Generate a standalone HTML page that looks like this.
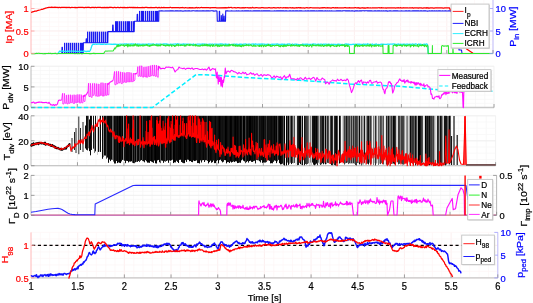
<!DOCTYPE html>
<html><head><meta charset="utf-8"><style>
html,body{margin:0;padding:0;background:#fff;overflow:hidden;}
svg{display:block;will-change:transform;}
text{font-family:"Liberation Sans", sans-serif;}
</style></head><body>
<svg width="533" height="303" viewBox="0 0 533 303">
<rect width="533" height="303" fill="#fff"/>
<line x1="40.24" y1="-0.5" x2="40.24" y2="53.5" stroke="#fdf6f6" stroke-width="0.7"/>
<line x1="49.48" y1="-0.5" x2="49.48" y2="53.5" stroke="#fdf6f6" stroke-width="0.7"/>
<line x1="58.72" y1="-0.5" x2="58.72" y2="53.5" stroke="#fdf6f6" stroke-width="0.7"/>
<line x1="67.96" y1="-0.5" x2="67.96" y2="53.5" stroke="#fdf6f6" stroke-width="0.7"/>
<line x1="77.20" y1="-0.5" x2="77.20" y2="53.5" stroke="#fae9e9" stroke-width="0.7"/>
<line x1="86.44" y1="-0.5" x2="86.44" y2="53.5" stroke="#fdf6f6" stroke-width="0.7"/>
<line x1="95.68" y1="-0.5" x2="95.68" y2="53.5" stroke="#fdf6f6" stroke-width="0.7"/>
<line x1="104.92" y1="-0.5" x2="104.92" y2="53.5" stroke="#fdf6f6" stroke-width="0.7"/>
<line x1="114.16" y1="-0.5" x2="114.16" y2="53.5" stroke="#fdf6f6" stroke-width="0.7"/>
<line x1="123.40" y1="-0.5" x2="123.40" y2="53.5" stroke="#fae9e9" stroke-width="0.7"/>
<line x1="132.64" y1="-0.5" x2="132.64" y2="53.5" stroke="#fdf6f6" stroke-width="0.7"/>
<line x1="141.88" y1="-0.5" x2="141.88" y2="53.5" stroke="#fdf6f6" stroke-width="0.7"/>
<line x1="151.12" y1="-0.5" x2="151.12" y2="53.5" stroke="#fdf6f6" stroke-width="0.7"/>
<line x1="160.36" y1="-0.5" x2="160.36" y2="53.5" stroke="#fdf6f6" stroke-width="0.7"/>
<line x1="169.60" y1="-0.5" x2="169.60" y2="53.5" stroke="#fae9e9" stroke-width="0.7"/>
<line x1="178.84" y1="-0.5" x2="178.84" y2="53.5" stroke="#fdf6f6" stroke-width="0.7"/>
<line x1="188.08" y1="-0.5" x2="188.08" y2="53.5" stroke="#fdf6f6" stroke-width="0.7"/>
<line x1="197.32" y1="-0.5" x2="197.32" y2="53.5" stroke="#fdf6f6" stroke-width="0.7"/>
<line x1="206.56" y1="-0.5" x2="206.56" y2="53.5" stroke="#fdf6f6" stroke-width="0.7"/>
<line x1="215.80" y1="-0.5" x2="215.80" y2="53.5" stroke="#fae9e9" stroke-width="0.7"/>
<line x1="225.04" y1="-0.5" x2="225.04" y2="53.5" stroke="#fdf6f6" stroke-width="0.7"/>
<line x1="234.28" y1="-0.5" x2="234.28" y2="53.5" stroke="#fdf6f6" stroke-width="0.7"/>
<line x1="243.52" y1="-0.5" x2="243.52" y2="53.5" stroke="#fdf6f6" stroke-width="0.7"/>
<line x1="252.76" y1="-0.5" x2="252.76" y2="53.5" stroke="#fdf6f6" stroke-width="0.7"/>
<line x1="262.00" y1="-0.5" x2="262.00" y2="53.5" stroke="#fae9e9" stroke-width="0.7"/>
<line x1="271.24" y1="-0.5" x2="271.24" y2="53.5" stroke="#fdf6f6" stroke-width="0.7"/>
<line x1="280.48" y1="-0.5" x2="280.48" y2="53.5" stroke="#fdf6f6" stroke-width="0.7"/>
<line x1="289.72" y1="-0.5" x2="289.72" y2="53.5" stroke="#fdf6f6" stroke-width="0.7"/>
<line x1="298.96" y1="-0.5" x2="298.96" y2="53.5" stroke="#fdf6f6" stroke-width="0.7"/>
<line x1="308.20" y1="-0.5" x2="308.20" y2="53.5" stroke="#fae9e9" stroke-width="0.7"/>
<line x1="317.44" y1="-0.5" x2="317.44" y2="53.5" stroke="#fdf6f6" stroke-width="0.7"/>
<line x1="326.68" y1="-0.5" x2="326.68" y2="53.5" stroke="#fdf6f6" stroke-width="0.7"/>
<line x1="335.92" y1="-0.5" x2="335.92" y2="53.5" stroke="#fdf6f6" stroke-width="0.7"/>
<line x1="345.16" y1="-0.5" x2="345.16" y2="53.5" stroke="#fdf6f6" stroke-width="0.7"/>
<line x1="354.40" y1="-0.5" x2="354.40" y2="53.5" stroke="#fae9e9" stroke-width="0.7"/>
<line x1="363.64" y1="-0.5" x2="363.64" y2="53.5" stroke="#fdf6f6" stroke-width="0.7"/>
<line x1="372.88" y1="-0.5" x2="372.88" y2="53.5" stroke="#fdf6f6" stroke-width="0.7"/>
<line x1="382.12" y1="-0.5" x2="382.12" y2="53.5" stroke="#fdf6f6" stroke-width="0.7"/>
<line x1="391.36" y1="-0.5" x2="391.36" y2="53.5" stroke="#fdf6f6" stroke-width="0.7"/>
<line x1="400.60" y1="-0.5" x2="400.60" y2="53.5" stroke="#fae9e9" stroke-width="0.7"/>
<line x1="409.84" y1="-0.5" x2="409.84" y2="53.5" stroke="#fdf6f6" stroke-width="0.7"/>
<line x1="419.08" y1="-0.5" x2="419.08" y2="53.5" stroke="#fdf6f6" stroke-width="0.7"/>
<line x1="428.32" y1="-0.5" x2="428.32" y2="53.5" stroke="#fdf6f6" stroke-width="0.7"/>
<line x1="437.56" y1="-0.5" x2="437.56" y2="53.5" stroke="#fdf6f6" stroke-width="0.7"/>
<line x1="446.80" y1="-0.5" x2="446.80" y2="53.5" stroke="#fae9e9" stroke-width="0.7"/>
<line x1="456.04" y1="-0.5" x2="456.04" y2="53.5" stroke="#fdf6f6" stroke-width="0.7"/>
<line x1="465.28" y1="-0.5" x2="465.28" y2="53.5" stroke="#fdf6f6" stroke-width="0.7"/>
<line x1="474.52" y1="-0.5" x2="474.52" y2="53.5" stroke="#fdf6f6" stroke-width="0.7"/>
<line x1="483.76" y1="-0.5" x2="483.76" y2="53.5" stroke="#fdf6f6" stroke-width="0.7"/>
<line x1="493.00" y1="-0.5" x2="493.00" y2="53.5" stroke="#fae9e9" stroke-width="0.7"/>
<line x1="31" y1="53.50" x2="493" y2="53.50" stroke="#fdf6f6" stroke-width="0.7"/>
<line x1="31" y1="49.00" x2="493" y2="49.00" stroke="#fdf6f6" stroke-width="0.7"/>
<line x1="31" y1="44.50" x2="493" y2="44.50" stroke="#fdf6f6" stroke-width="0.7"/>
<line x1="31" y1="40.00" x2="493" y2="40.00" stroke="#fdf6f6" stroke-width="0.7"/>
<line x1="31" y1="35.50" x2="493" y2="35.50" stroke="#fdf6f6" stroke-width="0.7"/>
<line x1="31" y1="31.00" x2="493" y2="31.00" stroke="#fdf6f6" stroke-width="0.7"/>
<line x1="31" y1="26.50" x2="493" y2="26.50" stroke="#fdf6f6" stroke-width="0.7"/>
<line x1="31" y1="22.00" x2="493" y2="22.00" stroke="#fdf6f6" stroke-width="0.7"/>
<line x1="31" y1="17.50" x2="493" y2="17.50" stroke="#fdf6f6" stroke-width="0.7"/>
<line x1="31" y1="13.00" x2="493" y2="13.00" stroke="#fdf6f6" stroke-width="0.7"/>
<line x1="31" y1="8.50" x2="493" y2="8.50" stroke="#fdf6f6" stroke-width="0.7"/>
<line x1="31" y1="4.00" x2="493" y2="4.00" stroke="#fdf6f6" stroke-width="0.7"/>
<line x1="31" y1="-0.50" x2="493" y2="-0.50" stroke="#fdf6f6" stroke-width="0.7"/>
<line x1="31" y1="53.50" x2="493" y2="53.50" stroke="#fae9e9" stroke-width="0.7"/>
<line x1="31" y1="31.00" x2="493" y2="31.00" stroke="#fae9e9" stroke-width="0.7"/>
<line x1="31" y1="8.50" x2="493" y2="8.50" stroke="#fae9e9" stroke-width="0.7"/>
<line x1="31" y1="53.5" x2="493" y2="53.5" stroke="#d0d0d0" stroke-width="1.3"/>
<line x1="31" y1="-0.5" x2="31" y2="53.5" stroke="#ffb0b0" stroke-width="0.9"/>
<line x1="493" y1="-0.5" x2="493" y2="53.5" stroke="#b8b8ff" stroke-width="0.9"/>
<line x1="77.20" y1="53.5" x2="77.20" y2="50.0" stroke="#8a8a8a" stroke-width="0.8"/>
<line x1="123.40" y1="53.5" x2="123.40" y2="50.0" stroke="#8a8a8a" stroke-width="0.8"/>
<line x1="169.60" y1="53.5" x2="169.60" y2="50.0" stroke="#8a8a8a" stroke-width="0.8"/>
<line x1="215.80" y1="53.5" x2="215.80" y2="50.0" stroke="#8a8a8a" stroke-width="0.8"/>
<line x1="262.00" y1="53.5" x2="262.00" y2="50.0" stroke="#8a8a8a" stroke-width="0.8"/>
<line x1="308.20" y1="53.5" x2="308.20" y2="50.0" stroke="#8a8a8a" stroke-width="0.8"/>
<line x1="354.40" y1="53.5" x2="354.40" y2="50.0" stroke="#8a8a8a" stroke-width="0.8"/>
<line x1="400.60" y1="53.5" x2="400.60" y2="50.0" stroke="#8a8a8a" stroke-width="0.8"/>
<line x1="446.80" y1="53.5" x2="446.80" y2="50.0" stroke="#8a8a8a" stroke-width="0.8"/>
<line x1="493.00" y1="53.5" x2="493.00" y2="50.0" stroke="#8a8a8a" stroke-width="0.8"/>
<polyline points="31.00,12.40 31.80,12.21 32.60,11.92 33.40,11.63 34.20,11.46 35.00,11.17 35.80,11.07 36.60,11.01 37.40,10.56 38.20,10.33 39.00,10.24 39.80,10.00 40.60,9.75 41.40,9.40 42.20,9.29 43.00,9.15 43.80,8.68 44.60,8.57 45.40,8.17 46.20,8.02 47.00,7.73 47.80,7.71 48.60,7.36 49.40,7.43 50.20,7.42 51.00,7.38 51.80,7.10 52.60,7.34 53.40,7.40 54.20,7.42 55.00,7.22 55.80,7.35 56.60,7.29 57.40,7.31 58.20,7.54 59.00,7.32 59.80,7.41 60.60,7.52 61.40,7.35 62.20,7.41 63.00,7.43 63.80,7.43 64.60,7.27 65.40,7.43 66.20,7.59 67.00,7.24 67.80,7.53 68.60,7.44 69.40,7.35 70.20,7.67 71.00,7.52 71.80,7.29 72.60,7.44 73.40,7.50 74.20,7.41 75.00,7.52 75.80,7.43 76.60,7.52 77.40,7.61 78.20,7.36 79.00,7.47 79.80,7.39 80.60,7.46 81.40,7.30 82.20,7.38 83.00,7.42 83.80,7.56 84.60,7.59 85.40,7.29 86.20,7.36 87.00,7.53 87.80,7.22 88.60,7.40 89.40,7.45 90.20,7.61 91.00,7.54 91.80,7.42 92.60,7.42 93.40,7.43 94.20,7.65 95.00,7.41 95.80,7.43 96.60,7.51 97.40,7.45 98.20,7.45 99.00,7.34 99.80,7.47 100.60,7.42 101.40,7.61 102.20,7.55 103.00,7.47 103.80,7.56 104.60,7.44 105.40,7.61 106.20,7.48 107.00,7.55 107.80,7.33 108.60,7.53 109.40,7.28 110.20,7.24 111.00,7.45 111.80,7.38 112.60,7.51 113.40,7.76 114.20,7.39 115.00,7.42 115.80,7.52 116.60,7.55 117.40,7.48 118.20,7.47 119.00,7.58 119.80,7.56 120.60,7.38 121.40,7.49 122.20,7.51 123.00,7.38 123.80,7.54 124.60,7.41 125.40,7.63 126.20,7.54 127.00,7.53 127.80,7.45 128.60,7.51 129.40,7.28 130.20,7.39 131.00,7.57 131.80,7.27 132.60,7.63 133.40,7.32 134.20,7.63 135.00,7.44 135.80,7.63 136.60,7.56 137.40,7.36 138.20,7.70 139.00,7.72 139.80,7.54 140.60,7.52 141.40,7.53 142.20,7.44 143.00,7.69 143.80,7.49 144.60,7.56 145.40,7.47 146.20,7.49 147.00,7.41 147.80,7.72 148.60,7.55 149.40,7.69 150.20,7.58 151.00,7.49 151.80,7.54 152.60,7.51 153.40,7.58 154.20,7.54 155.00,7.55 155.80,7.42 156.60,7.49 157.40,7.79 158.20,7.51 159.00,7.47 159.80,7.64 160.60,7.77 161.40,7.43 162.20,7.58 163.00,7.53 163.80,7.40 164.60,7.70 165.40,7.61 166.20,7.62 167.00,7.53 167.80,7.67 168.60,7.56 169.40,7.61 170.20,7.49 171.00,7.48 171.80,7.79 172.60,7.57 173.40,7.67 174.20,7.63 175.00,7.58 175.80,7.58 176.60,7.72 177.40,7.61 178.20,7.63 179.00,7.65 179.80,7.79 180.60,7.73 181.40,7.70 182.20,7.59 183.00,7.49 183.80,7.77 184.60,7.78 185.40,7.65 186.20,7.73 187.00,7.76 187.80,7.77 188.60,7.78 189.40,7.62 190.20,7.86 191.00,7.53 191.80,7.78 192.60,7.74 193.40,7.79 194.20,7.91 195.00,7.87 195.80,7.55 196.60,7.49 197.40,7.79 198.20,7.57 199.00,7.70 199.80,7.80 200.60,7.50 201.40,7.45 202.20,7.73 203.00,7.71 203.80,7.67 204.60,7.71 205.40,7.60 206.20,7.52 207.00,7.69 207.80,7.59 208.60,7.51 209.40,7.77 210.20,7.70 211.00,7.76 211.80,7.59 212.60,7.63 213.40,7.59 214.20,7.61 215.00,7.74 215.80,7.62 216.60,7.76 217.40,7.76 218.20,7.96 226.20,7.69 227.00,7.87 227.80,7.73 228.60,7.46 229.40,7.65 230.20,7.49 231.00,7.34 231.80,7.67 232.60,7.89 233.40,7.74 234.20,7.59 235.00,7.62 235.80,7.87 236.60,7.76 237.40,7.74 238.20,7.73 239.00,7.74 239.80,7.84 240.60,7.81 241.40,7.77 242.20,7.62 243.00,7.80 243.80,7.66 244.60,7.88 245.40,7.59 246.20,7.73 247.00,7.75 247.80,7.59 248.60,7.96 249.40,7.92 250.20,7.69 251.00,7.84 251.80,7.80 252.60,7.44 253.40,7.78 254.20,7.75 255.00,7.76 255.80,7.63 256.60,7.72 257.40,7.74 258.20,7.90 259.00,7.80 259.80,7.76 260.60,7.94 261.40,7.69 262.20,7.72 263.00,7.54 263.80,7.95 264.60,7.88 265.40,7.88 266.20,7.85 267.00,7.78 267.80,7.79 268.60,7.74 269.40,7.74 270.20,7.78 271.00,7.95 271.80,7.84 272.60,7.77 273.40,7.70 274.20,7.70 275.00,7.97 275.80,7.84 276.60,7.78 277.40,7.74 278.20,7.65 279.00,7.77 279.80,7.88 280.60,7.73 281.40,7.75 282.20,7.76 283.00,7.80 283.80,7.59 284.60,7.76 285.40,7.68 286.20,7.89 287.00,7.69 287.80,7.86 288.60,7.97 289.40,7.75 290.20,7.72 291.00,7.81 291.80,7.79 292.60,7.67 293.40,7.85 294.20,8.04 295.00,7.76 295.80,7.77 296.60,7.67 297.40,7.84 298.20,7.65 299.00,7.67 299.80,7.95 300.60,7.69 301.40,7.93 302.20,7.99 303.00,7.83 303.80,7.87 304.60,8.04 305.40,7.78 306.20,7.74 307.00,7.64 307.80,7.81 308.60,7.99 309.40,7.92 310.20,7.70 311.00,7.71 311.80,7.75 312.60,7.85 313.40,7.79 314.20,7.84 315.00,7.85 315.80,7.78 316.60,7.81 317.40,7.84 318.20,7.81 319.00,7.88 319.80,8.04 320.60,7.89 321.40,7.83 322.20,7.62 323.00,7.87 323.80,7.59 324.60,7.66 325.40,7.93 326.20,7.91 327.00,7.81 327.80,7.62 328.60,7.78 329.40,7.75 330.20,7.91 331.00,8.10 331.80,7.86 332.60,7.74 333.40,7.69 334.20,7.83 335.00,7.81 335.80,7.70 336.60,7.85 337.40,7.70 338.20,7.97 339.00,7.97 339.80,7.97 340.60,7.78 341.40,7.90 342.20,7.83 343.00,7.80 343.80,7.80 344.60,7.69 345.40,7.67 346.20,7.94 347.00,7.82 347.80,7.87 348.60,7.97 349.40,7.64 350.20,7.76 351.00,7.87 351.80,7.90 352.60,7.81 353.40,7.98 354.20,7.88 355.00,7.71 355.80,7.74 356.60,7.95 357.40,7.91 358.20,7.63 359.00,8.02 359.80,7.93 360.60,8.02 361.40,7.82 362.20,7.83 363.00,7.73 363.80,8.17 364.60,7.84 365.40,8.06 366.20,7.79 367.00,7.89 367.80,7.67 368.60,7.82 369.40,7.99 370.20,7.72 371.00,8.00 371.80,7.91 372.60,7.75 373.40,7.81 374.20,7.82 375.00,7.87 375.80,7.81 376.60,7.78 377.40,7.84 378.20,7.75 379.00,7.72 379.80,7.87 380.60,7.99 381.40,7.70 382.20,7.88 383.00,7.81 383.80,7.77 384.60,7.99 385.40,7.82 386.20,8.07 387.00,7.79 387.80,7.93 388.60,7.86 389.40,7.80 390.20,7.96 391.00,7.87 391.80,7.96 392.60,7.89 393.40,7.76 394.20,7.88 395.00,7.90 395.80,8.01 396.60,7.79 397.40,7.89 398.20,7.69 399.00,7.98 399.80,7.77 400.60,7.68 401.40,7.90 402.20,8.04 403.00,7.72 403.80,7.78 404.60,7.82 405.40,7.78 406.20,7.96 407.00,7.82 407.80,7.83 408.60,7.99 409.40,7.83 410.20,7.97 411.00,7.81 411.80,7.78 412.60,7.70 413.40,8.15 414.20,7.89 415.00,7.96 415.80,7.93 416.60,7.95 417.40,7.94 418.20,8.17 419.00,7.81 419.80,7.75 420.60,7.82 421.40,7.78 422.20,8.03 423.00,8.04 423.80,7.83 424.60,7.78 425.40,7.91 426.20,8.12 427.00,7.62 427.80,8.02 428.60,7.83 429.40,8.08 430.20,7.83 431.00,7.93 431.80,7.78 432.60,7.85 433.40,8.13 434.20,8.07 435.00,7.92 435.80,7.87 436.60,7.75 437.40,7.93 438.20,7.97 439.00,7.97 439.80,7.97 440.60,7.85 441.40,7.97 442.20,7.98 443.00,8.14 443.80,8.21 444.60,7.97 445.40,7.90 446.20,7.98 447.00,7.92 447.80,7.91 448.60,7.99 449.40,7.87 460.00,30.00 466.60,48.90 473.00,53.30" fill="none" stroke="#ff0000" stroke-width="1.25" stroke-linejoin="round" />
<polyline points="61.80,53.50 62.00,47.30 62.40,47.30 62.60,53.50 63.80,53.50 64.00,53.30 83.20,53.30 83.40,42.80 86.00,42.80 86.20,38.90 86.60,38.90 86.80,42.80 87.60,42.80 87.80,42.80 107.80,42.80 108.00,31.60 112.50,31.60 112.70,25.00 113.10,25.00 113.30,31.60 114.80,31.60 115.00,31.60 134.20,31.60 134.40,21.20 137.00,21.20 137.20,14.20 137.60,14.20 137.80,21.20 138.80,21.20 139.00,21.20 158.70,21.20 158.90,10.90 159.00,10.83 160.00,10.93 161.00,10.85 162.00,10.78 163.00,10.98 164.00,10.94 165.00,10.94 166.00,10.86 167.00,10.98 168.00,10.88 169.00,10.99 170.00,10.83 171.00,10.83 172.00,10.92 173.00,10.84 174.00,10.95 175.00,10.92 176.00,10.83 177.00,10.91 178.00,10.87 179.00,10.97 180.00,10.85 181.00,10.86 182.00,11.00 183.00,11.08 184.00,11.06 185.00,10.91 186.00,10.92 187.00,11.02 188.00,10.89 189.00,10.82 190.00,10.91 191.00,10.94 192.00,10.83 193.00,10.77 194.00,10.79 195.00,10.95 196.00,10.84 197.00,10.89 198.00,10.92 199.00,10.95 200.00,10.87 201.00,10.94 202.00,10.83 203.00,10.87 204.00,10.82 205.00,10.99 206.00,10.90 207.00,10.84 208.00,10.87 209.00,10.88 210.00,10.96 211.00,10.77 212.00,10.82 213.00,10.87 214.00,11.10 215.00,10.98 216.00,10.89 217.00,10.96 217.30,21.30 219.20,21.30 219.30,11.20 219.60,11.20 219.80,21.30 221.20,21.30 221.30,15.50 221.60,21.30 222.60,21.30 222.80,14.00 223.00,21.30 224.00,21.30 224.10,16.00 224.40,21.30 225.50,21.30 225.70,10.90 225.60,11.06 226.60,10.88 227.60,10.87 228.60,11.00 229.60,10.94 230.60,10.95 231.60,10.86 232.60,11.05 233.60,11.04 234.60,10.95 235.60,10.95 236.60,10.74 237.60,10.95 238.60,10.88 239.60,10.93 240.60,10.95 241.60,10.87 242.60,10.76 243.60,10.93 244.60,10.84 245.60,10.87 246.60,10.85 247.60,10.87 248.60,10.72 249.60,11.00 250.60,10.92 251.60,10.99 252.60,11.06 253.60,10.90 254.60,10.76 255.60,10.83 256.60,10.80 257.60,10.86 258.60,10.91 259.60,10.74 260.60,10.93 261.60,10.78 262.60,10.92 263.60,10.89 264.60,10.87 265.60,10.89 266.60,10.86 267.60,10.85 268.60,10.77 269.60,10.90 270.60,11.05 271.60,11.06 272.60,11.01 273.60,10.96 274.60,10.85 275.60,11.02 276.60,10.90 277.60,10.89 278.60,10.88 279.60,10.91 280.60,10.87 281.60,10.89 282.60,10.81 283.60,10.87 284.60,11.08 285.60,10.89 286.60,10.88 287.60,10.94 288.60,10.96 289.60,10.81 290.60,10.88 291.60,10.97 292.60,10.92 293.60,10.91 294.60,11.02 295.60,10.85 296.60,10.91 297.60,10.86 298.60,11.02 299.60,10.74 300.60,10.85 301.60,10.86 302.60,10.95 303.60,10.95 304.60,11.01 305.60,10.77 306.60,10.96 307.60,10.88 308.60,10.85 309.60,10.94 310.60,10.83 311.60,10.73 312.60,10.87 313.60,10.78 314.60,10.85 315.60,10.93 316.60,10.92 317.60,11.03 318.60,10.88 319.60,10.78 320.60,10.84 321.60,10.83 322.60,10.80 323.60,10.93 324.60,10.85 325.60,10.74 326.60,10.96 327.60,10.89 328.60,10.93 329.60,10.91 330.60,10.95 331.60,10.90 332.60,11.00 333.60,10.93 334.60,10.93 335.60,10.93 336.60,10.78 337.60,10.89 338.60,10.88 339.60,10.92 340.60,10.79 341.60,11.03 342.60,10.91 343.60,10.80 344.60,10.76 345.60,10.88 346.60,10.89 347.60,10.84 348.60,10.91 349.60,10.85 350.60,10.94 351.60,10.84 352.60,10.90 353.60,10.98 354.60,11.11 355.60,10.82 356.60,10.86 357.60,10.83 358.60,10.96 359.60,10.81 360.60,10.86 361.60,10.90 362.60,10.82 363.60,10.82 364.60,10.86 365.60,10.73 366.60,10.78 367.60,10.87 368.60,10.91 369.60,10.89 370.60,10.76 371.60,10.86 372.60,10.96 373.60,10.94 374.60,10.89 375.60,10.83 376.60,10.95 377.60,10.85 378.60,10.81 379.60,10.84 380.60,11.02 381.60,10.92 382.60,10.99 383.60,10.86 384.60,10.98 385.60,10.85 386.60,10.89 387.60,11.10 388.60,10.96 389.60,10.86 390.60,10.89 391.60,10.93 392.60,11.00 393.60,10.86 394.60,10.76 395.60,10.88 396.60,10.90 397.60,10.91 398.60,11.01 399.60,10.93 400.60,10.97 401.60,10.81 402.60,10.97 403.60,11.07 404.60,10.96 405.60,10.92 406.60,10.91 407.60,11.04 408.60,10.83 409.60,10.89 410.60,10.94 411.60,10.96 412.60,10.87 413.60,10.92 414.60,10.88 415.60,10.91 416.60,10.89 417.60,10.81 418.60,10.90 419.60,10.97 420.60,10.82 421.60,10.88 422.60,10.95 423.60,10.81 424.60,10.91 425.60,10.82 426.60,10.99 427.60,11.09 428.60,11.06 429.60,10.88 430.60,10.96 431.60,10.91 432.60,10.91 433.60,11.02 434.60,10.79 435.60,10.98 436.60,10.90 437.60,11.01 438.60,10.91 439.60,10.85 440.60,10.92 441.60,10.96 442.60,10.90 443.60,10.94 444.60,10.86 445.60,10.73 446.60,10.97 447.60,10.96 448.60,10.91 449.60,10.91 450.60,10.98 451.60,10.86 452.60,10.84 453.60,10.88 454.60,11.00 458.00,11.00 459.00,50.00 461.50,50.00 462.00,53.50" fill="none" stroke="#1818f0" stroke-width="1.1" stroke-linejoin="round" />
<rect x="64" y="42.80" width="1" height="10.50" fill="#1010f0" fill-opacity="0.95"/>
<rect x="65" y="42.80" width="1" height="10.50" fill="#1010f0" fill-opacity="0.24"/>
<rect x="66" y="42.80" width="1" height="10.50" fill="#1010f0" fill-opacity="0.95"/>
<rect x="67" y="42.80" width="1" height="10.50" fill="#1010f0" fill-opacity="0.35"/>
<rect x="68" y="42.80" width="1" height="10.50" fill="#1010f0" fill-opacity="0.95"/>
<rect x="69" y="42.80" width="1" height="10.50" fill="#1010f0" fill-opacity="0.39"/>
<rect x="70" y="42.80" width="1" height="10.50" fill="#1010f0" fill-opacity="0.95"/>
<rect x="71" y="42.80" width="1" height="10.50" fill="#1010f0" fill-opacity="0.30"/>
<rect x="72" y="42.80" width="1" height="10.50" fill="#1010f0" fill-opacity="0.95"/>
<rect x="73" y="42.80" width="1" height="10.50" fill="#1010f0" fill-opacity="0.35"/>
<rect x="74" y="42.80" width="1" height="10.50" fill="#1010f0" fill-opacity="0.95"/>
<rect x="75" y="42.80" width="1" height="10.50" fill="#1010f0" fill-opacity="0.39"/>
<rect x="76" y="42.80" width="1" height="10.50" fill="#1010f0" fill-opacity="0.95"/>
<rect x="77" y="42.80" width="1" height="10.50" fill="#1010f0" fill-opacity="0.25"/>
<rect x="78" y="42.80" width="1" height="10.50" fill="#1010f0" fill-opacity="0.95"/>
<rect x="79" y="42.80" width="1" height="10.50" fill="#1010f0" fill-opacity="0.21"/>
<rect x="80" y="42.80" width="1" height="10.50" fill="#1010f0" fill-opacity="0.95"/>
<rect x="81" y="42.80" width="1" height="10.50" fill="#1010f0" fill-opacity="0.95"/>
<rect x="82" y="42.80" width="1" height="10.50" fill="#1010f0" fill-opacity="0.95"/>
<rect x="87" y="31.60" width="1" height="11.20" fill="#1010f0" fill-opacity="0.95"/>
<rect x="88" y="31.60" width="1" height="11.20" fill="#1010f0" fill-opacity="0.28"/>
<rect x="89" y="31.60" width="1" height="11.20" fill="#1010f0" fill-opacity="0.95"/>
<rect x="90" y="31.60" width="1" height="11.20" fill="#1010f0" fill-opacity="0.39"/>
<rect x="91" y="31.60" width="1" height="11.20" fill="#1010f0" fill-opacity="0.95"/>
<rect x="92" y="31.60" width="1" height="11.20" fill="#1010f0" fill-opacity="0.45"/>
<rect x="93" y="31.60" width="1" height="11.20" fill="#1010f0" fill-opacity="0.95"/>
<rect x="94" y="31.60" width="1" height="11.20" fill="#1010f0" fill-opacity="0.47"/>
<rect x="95" y="31.60" width="1" height="11.20" fill="#1010f0" fill-opacity="0.95"/>
<rect x="96" y="31.60" width="1" height="11.20" fill="#1010f0" fill-opacity="0.40"/>
<rect x="97" y="31.60" width="1" height="11.20" fill="#1010f0" fill-opacity="0.95"/>
<rect x="98" y="31.60" width="1" height="11.20" fill="#1010f0" fill-opacity="0.26"/>
<rect x="99" y="31.60" width="1" height="11.20" fill="#1010f0" fill-opacity="0.95"/>
<rect x="100" y="31.60" width="1" height="11.20" fill="#1010f0" fill-opacity="0.23"/>
<rect x="101" y="31.60" width="1" height="11.20" fill="#1010f0" fill-opacity="0.95"/>
<rect x="102" y="31.60" width="1" height="11.20" fill="#1010f0" fill-opacity="0.45"/>
<rect x="103" y="31.60" width="1" height="11.20" fill="#1010f0" fill-opacity="0.95"/>
<rect x="104" y="31.60" width="1" height="11.20" fill="#1010f0" fill-opacity="0.38"/>
<rect x="105" y="31.60" width="1" height="11.20" fill="#1010f0" fill-opacity="0.95"/>
<rect x="106" y="31.60" width="1" height="11.20" fill="#1010f0" fill-opacity="0.37"/>
<rect x="107" y="31.60" width="1" height="11.20" fill="#1010f0" fill-opacity="0.95"/>
<rect x="115" y="21.20" width="1" height="10.40" fill="#1010f0" fill-opacity="0.95"/>
<rect x="116" y="21.20" width="1" height="10.40" fill="#1010f0" fill-opacity="0.95"/>
<rect x="117" y="21.20" width="1" height="10.40" fill="#1010f0" fill-opacity="0.95"/>
<rect x="118" y="21.20" width="1" height="10.40" fill="#1010f0" fill-opacity="0.41"/>
<rect x="119" y="21.20" width="1" height="10.40" fill="#1010f0" fill-opacity="0.95"/>
<rect x="120" y="21.20" width="1" height="10.40" fill="#1010f0" fill-opacity="0.43"/>
<rect x="121" y="21.20" width="1" height="10.40" fill="#1010f0" fill-opacity="0.95"/>
<rect x="122" y="21.20" width="1" height="10.40" fill="#1010f0" fill-opacity="0.24"/>
<rect x="123" y="21.20" width="1" height="10.40" fill="#1010f0" fill-opacity="0.95"/>
<rect x="124" y="21.20" width="1" height="10.40" fill="#1010f0" fill-opacity="0.33"/>
<rect x="125" y="21.20" width="1" height="10.40" fill="#1010f0" fill-opacity="0.95"/>
<rect x="126" y="21.20" width="1" height="10.40" fill="#1010f0" fill-opacity="0.47"/>
<rect x="127" y="21.20" width="1" height="10.40" fill="#1010f0" fill-opacity="0.95"/>
<rect x="128" y="21.20" width="1" height="10.40" fill="#1010f0" fill-opacity="0.95"/>
<rect x="129" y="21.20" width="1" height="10.40" fill="#1010f0" fill-opacity="0.95"/>
<rect x="130" y="21.20" width="1" height="10.40" fill="#1010f0" fill-opacity="0.27"/>
<rect x="131" y="21.20" width="1" height="10.40" fill="#1010f0" fill-opacity="0.95"/>
<rect x="132" y="21.20" width="1" height="10.40" fill="#1010f0" fill-opacity="0.41"/>
<rect x="133" y="21.20" width="1" height="10.40" fill="#1010f0" fill-opacity="0.95"/>
<rect x="139" y="10.90" width="1" height="10.30" fill="#1010f0" fill-opacity="0.95"/>
<rect x="140" y="10.90" width="1" height="10.30" fill="#1010f0" fill-opacity="0.28"/>
<rect x="141" y="10.90" width="1" height="10.30" fill="#1010f0" fill-opacity="0.95"/>
<rect x="142" y="10.90" width="1" height="10.30" fill="#1010f0" fill-opacity="0.95"/>
<rect x="143" y="10.90" width="1" height="10.30" fill="#1010f0" fill-opacity="0.95"/>
<rect x="144" y="10.90" width="1" height="10.30" fill="#1010f0" fill-opacity="0.21"/>
<rect x="145" y="10.90" width="1" height="10.30" fill="#1010f0" fill-opacity="0.95"/>
<rect x="146" y="10.90" width="1" height="10.30" fill="#1010f0" fill-opacity="0.23"/>
<rect x="147" y="10.90" width="1" height="10.30" fill="#1010f0" fill-opacity="0.95"/>
<rect x="148" y="10.90" width="1" height="10.30" fill="#1010f0" fill-opacity="0.38"/>
<rect x="149" y="10.90" width="1" height="10.30" fill="#1010f0" fill-opacity="0.95"/>
<rect x="150" y="10.90" width="1" height="10.30" fill="#1010f0" fill-opacity="0.34"/>
<rect x="151" y="10.90" width="1" height="10.30" fill="#1010f0" fill-opacity="0.95"/>
<rect x="152" y="10.90" width="1" height="10.30" fill="#1010f0" fill-opacity="0.43"/>
<rect x="153" y="10.90" width="1" height="10.30" fill="#1010f0" fill-opacity="0.95"/>
<rect x="154" y="10.90" width="1" height="10.30" fill="#1010f0" fill-opacity="0.31"/>
<rect x="155" y="10.90" width="1" height="10.30" fill="#1010f0" fill-opacity="0.95"/>
<rect x="156" y="10.90" width="1" height="10.30" fill="#1010f0" fill-opacity="0.95"/>
<rect x="157" y="10.90" width="1" height="10.30" fill="#1010f0" fill-opacity="0.95"/>
<rect x="158" y="10.90" width="1" height="10.30" fill="#1010f0" fill-opacity="0.41"/>
<polyline points="57.50,53.29 58.30,53.22 59.10,51.72 59.90,51.03 60.70,51.39 61.50,51.19 62.30,51.00 63.10,51.15 63.90,51.34 64.70,51.38 65.50,51.14 66.30,51.26 67.10,51.31 67.90,51.10 68.70,51.25 69.50,51.20 70.30,51.12 71.10,51.13 71.90,51.21 72.70,51.20 73.50,51.12 74.30,51.14 75.10,51.37 75.90,51.23 76.70,51.33 77.50,51.38 78.30,51.29 79.10,51.54 79.90,51.08 80.70,51.32 81.50,51.15 82.30,51.48 83.10,51.46 83.90,50.91 84.70,51.05 85.50,51.30 86.30,51.32 87.10,51.31 87.90,51.19 88.70,51.27 89.50,51.30 90.30,50.35 91.10,48.27 91.90,45.54 92.70,44.30 93.50,44.04 94.30,44.34 95.10,44.17 95.90,44.07 96.70,44.26 97.50,44.06 98.30,44.06 99.10,43.96 99.90,44.20 100.70,44.27 101.50,44.35 102.30,44.18 103.10,44.36 103.90,44.20 104.70,44.19 105.50,44.29 106.30,44.36 107.10,44.15 107.90,44.16 108.70,44.18 109.50,44.21 110.30,44.06 111.10,44.35 111.90,44.14 112.70,44.27 113.50,44.08 114.30,44.25 115.10,44.26 115.90,44.14 116.70,44.50 117.50,44.26 118.30,44.47 119.10,44.34 119.90,44.10 120.70,44.14 121.50,44.27 122.30,44.21 123.10,44.21 123.90,44.16 124.70,43.93 125.50,44.17 126.30,43.87 127.10,44.26 127.90,44.09 128.70,44.09 129.50,44.17 130.30,44.24 131.10,43.99 131.90,43.94 132.70,44.04 133.50,43.89 134.30,44.05 135.10,44.44 135.90,44.04 136.70,44.30 137.50,43.99 138.30,44.24 139.10,44.15 139.90,44.19 140.70,44.29 141.50,44.46 142.30,44.23 143.10,44.22 143.90,44.05 144.70,44.29 145.50,44.16 146.30,44.32 147.10,44.19 147.90,44.46 148.70,43.90 149.50,44.16 150.80,44.13 151.60,44.04 152.40,44.15 153.20,43.93 154.00,44.23 154.80,44.69 155.60,44.43 156.40,43.98 157.20,44.03 158.00,44.12 158.80,44.41 159.60,44.04 160.40,44.07 161.20,44.38 162.00,44.38 162.80,44.13 163.60,43.99 164.40,43.90 165.20,44.07 166.00,43.76 166.80,44.36 167.60,44.09 168.40,44.31 169.20,44.59 170.00,44.45 170.80,43.98 171.60,44.39 172.40,44.45 173.20,44.07 174.00,44.03 174.80,44.19 175.60,43.90 176.40,44.51 177.20,43.74 178.00,44.00 178.80,44.17 179.60,44.17 180.40,44.25 181.20,44.28 182.00,44.18 182.80,44.45 183.60,43.79 184.40,44.22 185.20,44.08 186.00,44.25 186.80,44.27 187.60,44.04 188.40,44.10 189.20,44.38 190.00,44.30 190.80,44.09 191.60,44.64 192.40,44.69 193.20,43.94 194.00,44.29 194.80,44.73 195.60,44.39 196.40,44.28 197.20,44.19 198.00,44.12 198.80,44.19 199.60,44.12 200.40,44.38 201.20,44.15 202.00,44.15 202.80,43.99 203.60,44.23 204.40,44.06 205.20,44.20 206.00,44.45 206.80,44.31 207.60,44.34 208.40,44.31 209.20,44.25 210.00,44.21 210.80,44.18 211.60,44.39 212.40,44.02 213.20,44.51 214.00,44.25 214.80,44.09 215.60,44.15 216.40,44.11 217.20,44.28 218.00,44.10 218.80,44.47 219.60,44.09 220.40,43.79 221.20,44.10 222.00,43.85 222.80,44.24 223.60,44.46 224.40,44.38 225.20,43.98 226.00,44.10 226.80,44.61 227.60,44.32 228.40,44.25 229.20,44.46 230.00,44.74 230.80,44.51 231.60,44.28 232.40,44.33 233.20,44.38 234.00,44.13 234.80,44.04 235.60,44.27 236.40,44.07 237.20,44.25 238.00,44.28 238.80,44.73 239.60,44.09 240.40,44.24 241.20,44.23 242.00,44.35 242.80,44.47 243.60,44.16 244.40,44.10 245.20,43.94 246.00,44.08 246.80,44.37 247.60,44.27 248.40,44.06 249.20,44.19 250.00,44.27 250.80,44.37 251.60,44.15 252.40,44.22 253.20,43.91 254.00,44.04 254.80,44.59 255.60,43.83 256.40,44.20 257.20,44.32 258.00,44.20 258.80,44.11 259.60,44.26 260.40,44.27 261.20,44.26 262.00,43.90 262.80,44.25 263.60,44.10 264.40,44.17 265.20,44.32 266.00,44.41 266.80,44.46 267.60,44.18 268.40,44.46 269.20,44.51 270.00,44.51 270.80,44.56 271.60,44.25 272.40,44.25 273.20,44.45 274.00,44.01 274.80,44.33 275.60,44.18 276.40,44.21 277.20,43.94 278.00,44.11 278.80,44.28 279.60,44.46 280.40,44.48 281.20,44.27 282.00,44.25 282.80,44.12 283.60,44.37 284.40,44.24 285.20,44.41 286.00,44.64 286.80,44.28 287.60,43.99 288.40,44.12 289.20,44.00 290.00,44.05 290.80,44.55 291.60,44.34 292.40,43.99 293.20,44.43 294.00,44.55 294.80,44.22 295.60,44.16 296.40,44.23 297.20,44.36 298.00,44.43 298.80,44.54 299.60,44.54 300.40,44.54 301.20,44.57 302.00,44.43 302.80,43.99 303.60,44.27 304.40,44.36 305.20,44.22 306.00,44.48 306.80,44.23 307.60,44.11 308.40,44.59 309.20,44.43 310.00,44.34 310.80,44.49 311.60,44.51 312.40,44.37 313.20,43.81 314.00,44.16 314.80,44.21 315.60,44.10 316.40,44.34 317.20,44.54 318.00,44.20 318.80,44.07 319.60,44.71 320.40,44.21 321.20,44.05 322.00,44.35 322.80,44.39 323.60,44.16 324.40,44.46 325.20,44.20 326.00,44.12 326.80,44.34 327.60,44.45 328.40,44.17 329.20,44.37 330.00,44.28 330.80,44.86 331.60,44.16 332.40,44.58 333.20,44.29 334.00,44.27 334.80,44.44 335.60,44.48 336.40,44.55 337.20,44.37 338.00,44.18 338.80,44.19 339.60,44.40 340.40,44.42 341.20,44.58 342.00,44.38 342.80,44.51 343.60,44.60 344.40,44.33 345.20,44.00 346.00,44.06 346.80,44.01 347.60,44.62 348.40,44.13 349.20,44.55 350.00,44.42 350.80,44.64 351.60,44.50 352.40,44.28 353.20,44.26 354.00,44.32 354.80,44.34 355.60,44.19 356.40,44.29 357.20,44.62 358.00,43.96 358.80,44.35 359.60,44.12 360.40,44.34 361.20,44.47 362.00,44.29 362.80,44.45 363.60,43.98 364.40,44.52 365.20,44.18 366.00,44.42 366.80,44.34 367.60,43.78 368.40,44.15 369.20,44.34 370.00,44.61 370.80,44.36 371.60,44.35 372.40,44.02 373.20,44.59 374.00,44.66 374.80,44.31 375.60,44.26 376.40,43.98 377.20,44.48 378.00,44.84 378.80,44.44 379.60,44.55 380.40,44.41 381.20,44.10 382.00,44.57 382.80,44.05 383.60,44.26 384.40,44.36 385.20,44.48 386.00,44.38 386.80,44.38 387.60,44.15 388.40,44.04 389.20,44.31 390.00,44.16 390.80,44.04 391.60,44.05 392.40,44.20 393.20,43.93 394.00,44.03 394.80,43.97 395.60,44.34 396.40,44.38 397.20,44.70 398.00,44.00 398.80,44.16 399.60,44.48 400.40,44.26 401.20,44.23 402.00,44.64 402.80,44.23 403.60,44.07 404.40,44.04 405.20,44.37 406.00,44.36 406.80,44.03 407.60,44.10 408.40,44.41 409.20,44.42 410.00,44.17 410.80,44.42 411.60,44.41 412.40,43.94 413.20,44.24 414.00,44.38 414.80,44.19 415.60,43.87 416.40,44.24 417.20,44.45 418.00,44.62 418.80,43.86 419.60,44.82 420.40,44.07 421.20,44.49 422.00,44.55 422.80,44.50 423.60,44.33 424.40,44.07 425.20,44.43 426.00,44.16 426.80,43.80 427.60,44.87 428.30,53.50 429.00,53.50" fill="none" stroke="#20e8ff" stroke-width="1.3" stroke-linejoin="round" />
<polyline points="31.00,53.57 31.80,53.68 32.60,53.41 33.40,53.65 34.20,53.66 35.00,53.66 35.80,53.50 36.60,53.38 37.40,53.48 38.20,53.28 39.00,53.33 39.80,53.51 40.60,53.40 41.40,53.48 42.20,53.49 43.00,53.69 43.80,53.63 44.60,53.50 45.40,53.62 46.20,53.42 47.00,53.47 47.80,53.59 48.60,53.38 49.40,53.47 50.20,53.37 51.00,53.51 51.80,53.66 52.60,53.42 53.40,53.52 54.20,53.41 55.00,53.39 55.80,53.38 56.60,53.65 57.40,53.74 58.20,53.55 59.00,53.43 59.80,53.57 60.60,53.47 61.40,53.58 62.20,53.53 63.00,53.53 63.80,53.56 64.60,53.44 65.40,53.46 66.20,53.33 67.00,53.46 67.80,53.36 68.60,53.49 69.40,53.40 70.20,53.51 71.00,53.55 71.80,53.36 72.60,53.42 73.40,53.41 74.20,53.57 75.00,53.67 75.80,53.59 76.60,53.47 77.40,53.65 78.20,53.35 79.00,53.65 79.80,53.43 80.60,53.22 81.40,53.77 82.20,53.66 83.00,53.40 83.80,53.52 84.60,53.48 85.40,53.51 86.20,53.35 87.00,53.43 87.80,53.55 88.60,53.52 89.40,53.62 90.20,53.51 91.00,53.73 91.80,53.43 92.60,53.53 93.40,53.31 94.20,53.37 95.00,53.63 95.80,53.41 96.60,53.55 97.40,53.49 98.20,53.40 99.00,53.47 99.80,53.45 100.60,53.45 101.40,53.58 102.20,53.57 103.00,53.44 103.80,53.41 104.60,52.03 105.40,50.99 106.20,51.10 107.00,51.27 107.80,51.08 108.60,51.00 109.40,50.98 110.20,50.91 111.00,50.91 111.80,50.90 112.60,50.96 113.40,50.84 113.80,49.64 114.20,49.18 114.60,48.05 115.00,49.05 115.40,47.86 115.80,47.99 116.20,46.88 116.60,46.69 117.00,45.16 117.40,45.70 117.80,46.79 118.20,44.63 118.60,45.95 119.00,46.24 119.40,45.54 119.80,45.73 120.20,46.01 120.60,44.94 121.00,45.54 121.40,44.82 121.80,44.93 122.20,44.96 122.60,45.23 123.00,45.39 123.40,45.57 123.80,44.51 124.20,46.43 124.60,45.96 125.00,45.72 125.40,45.11 125.80,45.26 126.20,45.62 126.60,45.55 127.00,44.37 127.40,45.73 127.80,46.96 128.20,44.28 128.60,45.88 129.00,45.53 129.40,45.26 129.80,46.09 130.20,44.65 130.60,45.41 131.00,46.15 131.40,45.21 131.80,45.09 132.20,45.39 132.60,45.07 133.00,46.20 133.40,44.81 133.80,45.82 134.20,44.62 134.60,45.71 135.00,45.27 135.40,43.87 135.80,45.33 136.20,44.73 136.60,45.08 137.00,46.20 137.40,44.70 137.80,44.73 138.20,46.15 138.60,45.40 139.00,46.21 139.40,45.52 139.80,44.84 140.20,45.30 140.60,46.03 141.00,45.87 141.40,45.34 141.80,45.37 142.20,45.28 142.60,45.01 143.00,46.43 143.40,45.35 143.80,44.70 144.20,45.07 144.60,45.76 145.00,45.71 145.40,45.27 145.80,44.97 146.20,45.36 146.60,44.40 147.00,44.61 147.40,45.80 147.80,45.08 148.20,45.56 148.60,46.04 149.00,45.72 149.40,45.36 149.80,46.56 150.20,45.73 150.60,45.15 151.00,45.77 151.40,45.59 151.80,44.87 152.20,45.40 152.60,45.27 153.00,44.25 153.40,45.26 153.80,45.20 154.20,45.11 154.60,44.43 155.00,45.16 155.40,45.34 155.80,45.42 156.20,44.72 156.60,45.72 157.00,44.68 157.40,45.24 157.80,46.10 158.20,44.98 158.60,45.08 159.00,45.98 159.40,45.15 159.80,45.20 160.20,45.50 160.60,45.96 161.00,44.13 161.40,44.90 161.80,44.80 162.20,44.76 162.60,44.89 163.00,44.90 163.40,45.55 163.80,44.88 164.20,45.45 164.60,45.60 165.00,44.97 165.40,45.45 165.80,46.30 166.20,45.56 166.60,45.02 167.00,45.35 167.40,44.87 167.80,45.54 168.20,45.87 168.60,44.92 169.00,45.27 169.40,46.01 169.80,45.11 170.20,45.49 170.60,44.81 171.00,44.93 171.40,45.10 171.80,46.59 172.20,45.17 172.60,45.10 173.00,45.08 173.40,45.30 173.80,45.75 174.20,45.50 174.60,46.53 175.00,45.51 175.40,46.19 175.80,45.55 176.20,45.73 176.60,44.60 177.00,45.33 177.40,45.36 177.80,45.27 178.20,44.22 178.60,45.89 179.00,45.19 179.40,45.16 179.80,45.26 180.20,45.28 180.60,45.63 181.00,44.71 181.40,44.89 181.80,45.57 182.20,45.49 182.60,45.20 183.00,45.09 183.40,44.95 183.80,45.38 184.20,46.06 184.60,44.83 185.00,46.25 185.40,45.88 185.80,45.16 186.20,45.84 186.60,44.61 187.00,44.46 187.40,44.71 187.80,45.19 188.20,45.24 188.60,45.13 189.00,45.47 189.40,44.24 189.80,45.69 190.20,44.64 190.60,45.06 191.00,45.19 191.40,44.79 191.80,44.67 192.20,44.87 192.60,45.42 193.00,45.75 193.40,45.74 193.80,44.88 194.20,44.99 194.60,44.92 195.00,45.68 195.40,44.31 195.80,46.11 196.20,45.16 196.60,45.00 197.00,45.62 197.40,46.00 197.80,45.62 198.20,46.01 198.60,45.51 199.00,46.11 199.40,46.12 199.80,45.38 200.20,46.23 200.60,45.53 201.00,45.49 201.40,44.93 201.80,45.28 202.20,45.87 202.60,44.72 203.00,45.80 203.40,45.63 203.80,45.59 204.20,44.23 204.60,45.39 205.00,45.80 205.40,45.03 205.80,45.50 206.20,44.14 206.60,45.82 207.00,45.08 207.40,45.93 207.80,44.44 208.20,45.83 208.60,45.32 209.00,45.90 209.40,44.94 209.80,45.11 210.20,46.69 210.60,45.00 211.00,45.07 211.40,45.30 211.80,44.89 212.20,46.11 212.60,46.41 213.00,45.07 213.40,44.51 213.80,46.10 214.20,46.07 214.60,45.91 215.00,46.10 215.40,44.98 215.80,45.37 216.20,44.70 216.60,44.68 217.00,46.00 217.40,45.10 217.80,46.72 218.20,45.51 218.60,45.11 219.00,45.91 219.40,46.46 219.80,45.74 220.20,44.80 220.60,45.67 221.00,46.23 221.40,45.20 221.80,45.05 222.20,46.03 222.60,45.55 223.00,44.87 223.40,45.27 223.80,45.06 224.20,45.64 224.60,45.54 225.00,46.11 225.40,45.87 225.80,44.62 226.20,45.70 226.60,45.97 227.00,45.73 227.40,46.05 227.80,45.18 228.20,44.96 228.60,45.99 229.00,44.90 229.40,44.30 229.80,46.05 230.20,45.09 230.60,45.32 231.00,44.72 231.40,44.76 231.80,44.85 232.20,45.29 232.60,45.69 233.00,44.23 233.40,45.90 233.80,44.84 234.20,44.91 234.60,45.87 235.00,45.45 235.40,44.65 235.80,46.51 236.20,45.02 236.60,45.63 237.00,45.61 237.40,46.27 237.80,45.25 238.20,46.05 238.60,45.09 239.00,46.12 239.40,45.08 239.80,45.30 240.20,46.54 240.60,45.68 241.00,45.56 241.40,46.74 241.80,45.70 242.20,45.06 242.60,45.91 243.00,44.86 243.40,46.13 243.80,46.17 244.20,45.19 244.60,45.16 245.00,45.61 245.40,45.52 245.80,44.97 246.20,45.82 246.60,44.39 247.00,45.28 247.40,45.29 247.80,45.36 248.20,45.68 248.60,44.84 249.00,45.84 249.40,45.42 249.80,45.16 250.20,44.77 250.60,44.87 251.00,45.72 251.40,44.99 251.80,45.56 252.20,46.11 252.60,46.09 253.00,46.38 253.40,45.36 253.80,44.93 254.20,46.09 254.60,45.70 255.00,46.14 255.40,45.53 255.80,46.19 256.20,45.99 256.60,45.92 257.00,45.81 257.40,45.75 257.80,45.66 258.20,45.66 258.60,46.08 259.00,45.25 259.40,46.49 259.80,45.48 260.20,46.08 260.60,45.49 261.00,45.40 261.40,46.65 261.80,45.37 262.20,44.84 262.60,45.15 263.00,45.36 263.40,46.73 263.80,45.65 264.20,46.06 264.60,44.99 265.00,45.74 265.40,45.91 265.80,46.53 266.20,45.16 266.60,45.88 267.00,45.71 267.40,44.98 267.80,45.54 268.20,45.40 268.60,44.27 269.00,45.88 269.40,45.85 269.80,45.31 270.20,44.81 270.60,46.37 271.00,45.70 271.40,46.11 271.80,46.33 272.20,45.27 272.60,46.00 273.00,45.42 273.40,45.52 273.80,45.51 274.20,45.56 274.60,46.17 275.00,45.63 275.40,45.48 275.80,45.41 276.20,45.75 276.60,45.07 277.00,45.29 277.40,45.53 277.80,45.25 278.20,45.50 278.60,45.23 279.00,46.67 279.40,46.30 279.80,45.81 280.20,45.54 280.60,46.77 281.00,45.75 281.40,45.52 281.80,45.74 282.20,45.74 282.60,46.35 283.00,45.56 283.40,46.73 283.80,45.09 284.20,45.96 284.60,45.02 285.00,46.57 285.40,45.39 285.80,45.54 286.20,46.09 286.60,46.27 287.00,44.97 287.40,45.39 287.80,44.81 288.20,45.66 288.60,45.53 289.00,45.39 289.40,45.21 289.80,45.37 290.20,45.17 290.60,45.88 291.00,46.42 291.40,44.52 291.80,45.52 292.20,45.36 292.60,45.86 293.00,45.07 293.40,45.51 293.80,45.02 294.20,45.97 294.60,45.65 295.00,45.50 295.40,45.80 295.80,45.46 296.20,44.74 296.60,45.92 297.00,45.75 297.40,45.51 297.80,46.14 298.20,46.27 298.60,45.00 299.00,45.17 299.40,46.45 299.80,46.38 300.20,45.19 300.60,44.95 301.00,45.25 301.40,45.33 301.80,44.73 302.20,45.62 302.60,44.90 303.00,44.93 303.40,46.10 303.80,45.22 304.20,45.56 304.60,45.95 305.00,46.05 305.40,45.41 305.80,45.62 306.20,45.15 306.60,46.56 307.00,45.96 307.40,44.99 307.80,45.60 308.20,45.99 308.60,45.86 309.00,46.61 309.40,46.35 309.80,45.30 310.20,45.55 310.60,44.90 311.00,45.74 311.40,45.68 311.80,47.09 312.20,45.65 312.60,44.45 313.00,45.23 313.40,45.66 313.80,44.91 314.20,45.12 314.60,45.40 315.00,45.79 315.40,45.51 315.80,45.11 316.20,46.03 316.60,45.30 317.00,45.33 317.40,44.84 317.80,45.17 318.20,45.96 318.60,44.71 319.00,45.56 319.40,45.99 319.80,45.39 320.20,45.73 320.60,44.99 321.00,46.32 321.40,46.21 321.80,45.73 322.20,44.63 322.60,45.02 323.00,46.14 323.40,46.54 323.80,45.76 324.20,46.29 324.60,45.27 325.00,45.50 325.40,45.60 325.80,45.83 326.20,44.76 326.60,46.12 327.00,46.33 327.40,44.97 327.80,44.85 328.20,45.79 328.60,45.24 329.00,44.30 329.40,46.04 329.80,45.69 330.20,45.34 330.60,46.76 331.00,45.68 331.40,45.19 331.80,45.66 332.20,45.03 332.60,45.18 333.00,45.81 333.40,45.30 333.80,45.35 334.20,46.52 334.60,46.07 335.00,46.04 335.40,45.89 335.80,45.87 336.20,46.40 336.60,45.59 337.00,46.62 337.40,45.08 337.80,45.46 338.20,44.84 338.60,45.41 339.00,45.89 339.40,46.40 339.80,45.24 340.20,45.60 340.60,45.40 341.00,45.19 341.40,44.95 341.80,45.63 342.20,44.65 342.60,45.66 343.00,45.61 343.40,45.24 343.80,45.04 344.20,44.84 344.60,46.63 345.00,44.86 345.40,46.46 345.80,45.93 346.20,45.40 346.60,44.96 347.00,46.17 347.40,46.55 347.80,45.09 348.20,45.44 348.60,46.18 349.00,45.78 349.40,46.70 349.60,53.50 354.30,53.50 354.40,45.60 354.50,45.29 354.90,45.90 355.30,44.91 355.70,46.75 356.10,45.20 356.50,44.39 356.90,45.53 357.30,45.52 357.70,46.65 358.10,45.41 358.50,45.59 358.90,45.93 359.30,46.47 359.70,45.57 360.10,46.17 360.50,45.88 360.90,45.44 361.30,45.64 361.70,45.62 362.10,45.10 362.50,46.27 362.90,44.84 363.30,46.24 363.70,46.12 364.10,45.55 364.50,45.18 364.90,45.48 365.30,45.86 365.70,46.01 366.10,45.76 366.50,46.15 366.90,45.29 367.30,45.73 367.70,44.74 368.10,46.02 368.50,45.68 368.90,45.37 369.30,46.24 369.70,45.98 370.10,44.05 370.50,45.62 370.90,44.80 371.30,46.19 371.70,46.97 372.10,45.31 372.50,45.64 372.90,45.46 373.30,45.79 373.70,45.95 374.10,46.31 374.50,45.06 374.90,46.46 375.30,45.09 375.70,45.75 376.10,46.24 376.50,45.99 376.90,45.08 377.30,45.21 377.70,45.35 378.10,45.57 378.50,46.23 378.90,44.89 379.30,45.86 379.70,45.94 380.10,45.91 380.50,45.86 380.90,46.44 381.30,45.87 381.70,46.07 382.10,45.91 382.50,46.59 382.90,44.56 383.10,53.50 388.00,53.50 388.10,45.60 389.00,45.60 389.10,53.50 393.00,53.50 393.10,45.60 393.20,46.31 393.60,45.46 394.00,45.45 394.40,45.07 394.80,44.57 395.20,45.39 395.60,45.22 396.00,45.87 396.40,44.79 396.80,46.39 397.20,45.75 397.60,45.46 398.00,45.21 398.40,45.17 398.80,44.98 399.20,45.30 399.60,45.60 400.00,45.50 400.40,44.82 400.80,45.45 401.20,45.11 401.60,45.69 402.00,46.63 402.40,45.94 402.80,45.43 403.20,44.71 403.60,44.82 404.00,44.67 404.40,46.00 404.80,45.18 405.20,45.63 405.60,45.26 406.00,45.65 406.40,46.37 406.80,45.22 407.20,45.41 407.60,45.16 408.00,46.08 408.40,45.04 408.80,44.98 409.20,44.84 409.60,44.83 410.00,45.86 410.40,47.01 410.80,45.05 411.20,46.12 411.60,45.74 412.00,44.99 412.40,45.45 412.80,45.47 413.20,45.22 413.60,46.66 414.00,44.55 414.40,45.81 414.80,45.78 415.20,45.28 415.60,45.68 416.00,46.08 416.40,45.68 416.80,45.83 417.20,45.98 417.60,44.48 418.00,46.41 418.40,46.85 418.80,46.14 419.20,46.16 419.60,44.83 420.00,45.53 420.40,45.15 420.80,45.28 421.20,46.13 421.60,45.16 422.00,45.53 422.40,44.55 422.80,45.51 423.20,45.65 423.60,45.21 424.00,45.20 424.40,46.64 424.80,44.93 425.20,45.02 425.60,45.16 426.00,46.26 426.40,46.76 426.80,45.78 427.20,45.21 427.60,45.36 428.00,46.19 428.10,53.50 432.30,53.50 432.40,45.60 432.50,53.50 441.30,53.50 441.60,46.00 443.00,45.60 443.00,45.53 443.60,46.24 444.20,46.22 444.80,45.82 445.40,45.99 446.00,46.02 446.60,46.27 447.20,45.48 447.80,46.15 448.40,45.69 448.60,53.50 452.80,53.50 452.90,46.00 453.30,53.50 493.00,53.50" fill="none" stroke="#2ee82e" stroke-width="1.05" stroke-linejoin="round" />
<line x1="31" y1="53.50" x2="34.5" y2="53.50" stroke="#ff9a9a" stroke-width="0.8"/>
<line x1="31" y1="31.00" x2="34.5" y2="31.00" stroke="#ff9a9a" stroke-width="0.8"/>
<line x1="31" y1="8.50" x2="34.5" y2="8.50" stroke="#ff9a9a" stroke-width="0.8"/>
<line x1="493" y1="53.50" x2="489.5" y2="53.50" stroke="#9a9aff" stroke-width="0.8"/>
<line x1="493" y1="31.00" x2="489.5" y2="31.00" stroke="#9a9aff" stroke-width="0.8"/>
<line x1="493" y1="8.50" x2="489.5" y2="8.50" stroke="#9a9aff" stroke-width="0.8"/>
<text x="0" y="0" font-size="9.3" fill="#ff0000" text-anchor="end" stroke="#ff0000" stroke-width="0.22" transform="translate(28.6 57.4) scale(1 1.0)">0</text>
<text x="0" y="0" font-size="9.3" fill="#ff0000" text-anchor="end" stroke="#ff0000" stroke-width="0.22" transform="translate(28.6 34.9) scale(1 1.0)">0.5</text>
<text x="0" y="0" font-size="9.3" fill="#ff0000" text-anchor="end" stroke="#ff0000" stroke-width="0.22" transform="translate(28.6 12.4) scale(1 1.0)">1</text>
<text x="0" y="0" font-size="9.3" fill="#0000ff" text-anchor="start" stroke="#0000ff" stroke-width="0.22" transform="translate(495.6 57.4) scale(1 1.0)">0</text>
<text x="0" y="0" font-size="9.3" fill="#0000ff" text-anchor="start" stroke="#0000ff" stroke-width="0.22" transform="translate(495.6 34.9) scale(1 1.0)">5</text>
<text x="0" y="0" font-size="9.3" fill="#0000ff" text-anchor="start" stroke="#0000ff" stroke-width="0.22" transform="translate(495.6 12.4) scale(1 1.0)">10</text>
<rect x="451.90000000000003" y="4.8999999999999995" width="37.89999999999998" height="43.9" fill="#cfcfcf"/>
<rect x="451.1" y="4.1" width="37.89999999999998" height="43.9" fill="#fff" stroke="#c4c4c4" stroke-width="0.9"/>
<line x1="452.7" y1="11.4" x2="463.5" y2="11.4" stroke="#ff2020" stroke-width="1"/>
<line x1="452.7" y1="23.4" x2="463.5" y2="23.4" stroke="#2020ff" stroke-width="1"/>
<line x1="452.7" y1="33.6" x2="463.5" y2="33.6" stroke="#30f0ff" stroke-width="1"/>
<line x1="452.7" y1="43.4" x2="463.5" y2="43.4" stroke="#30f030" stroke-width="1"/>
<text x="0" y="0" font-size="8.2" fill="#000" text-anchor="start" stroke="#000" stroke-width="0.22" transform="translate(464.6 13.2) scale(1 1.0)">I<tspan font-size="6.5" dy="3.5">p</tspan></text>
<text x="0" y="0" font-size="8.2" fill="#000" text-anchor="start" stroke="#000" stroke-width="0.22" transform="translate(464.6 26.3) scale(1 1.0)">NBI</text>
<text x="0" y="0" font-size="8.2" fill="#000" text-anchor="start" stroke="#000" stroke-width="0.22" transform="translate(464.6 36.3) scale(1 1.0)">ECRH</text>
<text x="0" y="0" font-size="8.2" fill="#000" text-anchor="start" stroke="#000" stroke-width="0.22" transform="translate(464.6 46.1) scale(1 1.0)">ICRH</text>
<text x="0" y="0" font-size="9.6" fill="#ff0000" text-anchor="middle" stroke="#ff0000" stroke-width="0.22" transform="translate(12.2 27.3) scale(1 1.09) rotate(-90)">Ip [MA]</text>
<text x="0" y="0" font-size="9.6" fill="#0000ff" text-anchor="middle" stroke="#0000ff" stroke-width="0.22" transform="translate(515.8 26.6) scale(1 1.09) rotate(-90)">P<tspan font-size="7" dy="3">in</tspan><tspan dy="-3"> [MW]</tspan></text>
<line x1="40.26" y1="66.3" x2="40.26" y2="107.5" stroke="#f6f6f6" stroke-width="0.7"/>
<line x1="49.52" y1="66.3" x2="49.52" y2="107.5" stroke="#f6f6f6" stroke-width="0.7"/>
<line x1="58.78" y1="66.3" x2="58.78" y2="107.5" stroke="#f6f6f6" stroke-width="0.7"/>
<line x1="68.04" y1="66.3" x2="68.04" y2="107.5" stroke="#f6f6f6" stroke-width="0.7"/>
<line x1="77.30" y1="66.3" x2="77.30" y2="107.5" stroke="#ededed" stroke-width="0.7"/>
<line x1="86.56" y1="66.3" x2="86.56" y2="107.5" stroke="#f6f6f6" stroke-width="0.7"/>
<line x1="95.82" y1="66.3" x2="95.82" y2="107.5" stroke="#f6f6f6" stroke-width="0.7"/>
<line x1="105.08" y1="66.3" x2="105.08" y2="107.5" stroke="#f6f6f6" stroke-width="0.7"/>
<line x1="114.34" y1="66.3" x2="114.34" y2="107.5" stroke="#f6f6f6" stroke-width="0.7"/>
<line x1="123.60" y1="66.3" x2="123.60" y2="107.5" stroke="#ededed" stroke-width="0.7"/>
<line x1="132.86" y1="66.3" x2="132.86" y2="107.5" stroke="#f6f6f6" stroke-width="0.7"/>
<line x1="142.12" y1="66.3" x2="142.12" y2="107.5" stroke="#f6f6f6" stroke-width="0.7"/>
<line x1="151.38" y1="66.3" x2="151.38" y2="107.5" stroke="#f6f6f6" stroke-width="0.7"/>
<line x1="160.64" y1="66.3" x2="160.64" y2="107.5" stroke="#f6f6f6" stroke-width="0.7"/>
<line x1="169.90" y1="66.3" x2="169.90" y2="107.5" stroke="#ededed" stroke-width="0.7"/>
<line x1="179.16" y1="66.3" x2="179.16" y2="107.5" stroke="#f6f6f6" stroke-width="0.7"/>
<line x1="188.42" y1="66.3" x2="188.42" y2="107.5" stroke="#f6f6f6" stroke-width="0.7"/>
<line x1="197.68" y1="66.3" x2="197.68" y2="107.5" stroke="#f6f6f6" stroke-width="0.7"/>
<line x1="206.94" y1="66.3" x2="206.94" y2="107.5" stroke="#f6f6f6" stroke-width="0.7"/>
<line x1="216.20" y1="66.3" x2="216.20" y2="107.5" stroke="#ededed" stroke-width="0.7"/>
<line x1="225.46" y1="66.3" x2="225.46" y2="107.5" stroke="#f6f6f6" stroke-width="0.7"/>
<line x1="234.72" y1="66.3" x2="234.72" y2="107.5" stroke="#f6f6f6" stroke-width="0.7"/>
<line x1="243.98" y1="66.3" x2="243.98" y2="107.5" stroke="#f6f6f6" stroke-width="0.7"/>
<line x1="253.24" y1="66.3" x2="253.24" y2="107.5" stroke="#f6f6f6" stroke-width="0.7"/>
<line x1="262.50" y1="66.3" x2="262.50" y2="107.5" stroke="#ededed" stroke-width="0.7"/>
<line x1="271.76" y1="66.3" x2="271.76" y2="107.5" stroke="#f6f6f6" stroke-width="0.7"/>
<line x1="281.02" y1="66.3" x2="281.02" y2="107.5" stroke="#f6f6f6" stroke-width="0.7"/>
<line x1="290.28" y1="66.3" x2="290.28" y2="107.5" stroke="#f6f6f6" stroke-width="0.7"/>
<line x1="299.54" y1="66.3" x2="299.54" y2="107.5" stroke="#f6f6f6" stroke-width="0.7"/>
<line x1="308.80" y1="66.3" x2="308.80" y2="107.5" stroke="#ededed" stroke-width="0.7"/>
<line x1="318.06" y1="66.3" x2="318.06" y2="107.5" stroke="#f6f6f6" stroke-width="0.7"/>
<line x1="327.32" y1="66.3" x2="327.32" y2="107.5" stroke="#f6f6f6" stroke-width="0.7"/>
<line x1="336.58" y1="66.3" x2="336.58" y2="107.5" stroke="#f6f6f6" stroke-width="0.7"/>
<line x1="345.84" y1="66.3" x2="345.84" y2="107.5" stroke="#f6f6f6" stroke-width="0.7"/>
<line x1="355.10" y1="66.3" x2="355.10" y2="107.5" stroke="#ededed" stroke-width="0.7"/>
<line x1="364.36" y1="66.3" x2="364.36" y2="107.5" stroke="#f6f6f6" stroke-width="0.7"/>
<line x1="373.62" y1="66.3" x2="373.62" y2="107.5" stroke="#f6f6f6" stroke-width="0.7"/>
<line x1="382.88" y1="66.3" x2="382.88" y2="107.5" stroke="#f6f6f6" stroke-width="0.7"/>
<line x1="392.14" y1="66.3" x2="392.14" y2="107.5" stroke="#f6f6f6" stroke-width="0.7"/>
<line x1="401.40" y1="66.3" x2="401.40" y2="107.5" stroke="#ededed" stroke-width="0.7"/>
<line x1="410.66" y1="66.3" x2="410.66" y2="107.5" stroke="#f6f6f6" stroke-width="0.7"/>
<line x1="419.92" y1="66.3" x2="419.92" y2="107.5" stroke="#f6f6f6" stroke-width="0.7"/>
<line x1="429.18" y1="66.3" x2="429.18" y2="107.5" stroke="#f6f6f6" stroke-width="0.7"/>
<line x1="438.44" y1="66.3" x2="438.44" y2="107.5" stroke="#f6f6f6" stroke-width="0.7"/>
<line x1="447.70" y1="66.3" x2="447.70" y2="107.5" stroke="#ededed" stroke-width="0.7"/>
<line x1="456.96" y1="66.3" x2="456.96" y2="107.5" stroke="#f6f6f6" stroke-width="0.7"/>
<line x1="466.22" y1="66.3" x2="466.22" y2="107.5" stroke="#f6f6f6" stroke-width="0.7"/>
<line x1="475.48" y1="66.3" x2="475.48" y2="107.5" stroke="#f6f6f6" stroke-width="0.7"/>
<line x1="484.74" y1="66.3" x2="484.74" y2="107.5" stroke="#f6f6f6" stroke-width="0.7"/>
<line x1="494.00" y1="66.3" x2="494.00" y2="107.5" stroke="#ededed" stroke-width="0.7"/>
<line x1="31" y1="107.50" x2="494" y2="107.50" stroke="#f6f6f6" stroke-width="0.7"/>
<line x1="31" y1="103.38" x2="494" y2="103.38" stroke="#f6f6f6" stroke-width="0.7"/>
<line x1="31" y1="99.26" x2="494" y2="99.26" stroke="#f6f6f6" stroke-width="0.7"/>
<line x1="31" y1="95.14" x2="494" y2="95.14" stroke="#f6f6f6" stroke-width="0.7"/>
<line x1="31" y1="91.02" x2="494" y2="91.02" stroke="#f6f6f6" stroke-width="0.7"/>
<line x1="31" y1="86.90" x2="494" y2="86.90" stroke="#f6f6f6" stroke-width="0.7"/>
<line x1="31" y1="82.78" x2="494" y2="82.78" stroke="#f6f6f6" stroke-width="0.7"/>
<line x1="31" y1="78.66" x2="494" y2="78.66" stroke="#f6f6f6" stroke-width="0.7"/>
<line x1="31" y1="74.54" x2="494" y2="74.54" stroke="#f6f6f6" stroke-width="0.7"/>
<line x1="31" y1="70.42" x2="494" y2="70.42" stroke="#f6f6f6" stroke-width="0.7"/>
<line x1="31" y1="66.30" x2="494" y2="66.30" stroke="#f6f6f6" stroke-width="0.7"/>
<line x1="31" y1="107.50" x2="494" y2="107.50" stroke="#ededed" stroke-width="0.7"/>
<line x1="31" y1="86.90" x2="494" y2="86.90" stroke="#ededed" stroke-width="0.7"/>
<line x1="31" y1="66.30" x2="494" y2="66.30" stroke="#ededed" stroke-width="0.7"/>
<line x1="31" y1="107.5" x2="494" y2="107.5" stroke="#c8c8c8" stroke-width="1.3"/>
<line x1="31" y1="66.3" x2="31" y2="107.5" stroke="#b4b4b4" stroke-width="0.9"/>
<line x1="77.30" y1="107.5" x2="77.30" y2="104.0" stroke="#8a8a8a" stroke-width="0.8"/>
<line x1="123.60" y1="107.5" x2="123.60" y2="104.0" stroke="#8a8a8a" stroke-width="0.8"/>
<line x1="169.90" y1="107.5" x2="169.90" y2="104.0" stroke="#8a8a8a" stroke-width="0.8"/>
<line x1="216.20" y1="107.5" x2="216.20" y2="104.0" stroke="#8a8a8a" stroke-width="0.8"/>
<line x1="262.50" y1="107.5" x2="262.50" y2="104.0" stroke="#8a8a8a" stroke-width="0.8"/>
<line x1="308.80" y1="107.5" x2="308.80" y2="104.0" stroke="#8a8a8a" stroke-width="0.8"/>
<line x1="355.10" y1="107.5" x2="355.10" y2="104.0" stroke="#8a8a8a" stroke-width="0.8"/>
<line x1="401.40" y1="107.5" x2="401.40" y2="104.0" stroke="#8a8a8a" stroke-width="0.8"/>
<line x1="447.70" y1="107.5" x2="447.70" y2="104.0" stroke="#8a8a8a" stroke-width="0.8"/>
<line x1="494.00" y1="107.5" x2="494.00" y2="104.0" stroke="#8a8a8a" stroke-width="0.8"/>
<polyline points="31.00,107.50 152.50,107.50 196.00,74.60 210.00,75.00 250.00,77.80 300.00,80.30 350.00,84.00 400.00,86.30 430.00,89.00 460.00,91.20 494.00,91.20" fill="none" stroke="#00eeff" stroke-width="1.5" stroke-linejoin="round" stroke-dasharray="4.4 2.2"/>
<polyline points="31.00,102.53 31.60,102.80 32.20,102.66 32.80,102.35 33.40,102.11 34.00,102.30 34.60,103.11 35.20,103.25 35.80,102.76 36.40,102.92 37.00,102.29 37.60,102.41 38.20,102.50 38.80,101.99 39.40,101.99 40.00,102.33 40.60,102.22 41.20,101.99 41.80,102.54 42.40,102.34 43.00,102.82 43.60,102.50 44.20,102.43 44.80,102.61 45.40,102.54 46.00,102.40 46.60,102.53 47.20,102.96 47.80,102.96 48.40,103.22 49.00,102.21 49.60,103.32 50.20,103.97 50.80,104.84 51.40,104.83 52.00,104.79 52.60,105.22 53.20,104.99 53.80,104.50 54.40,105.35 55.00,105.22 55.60,104.65 56.20,105.12 56.80,104.55 57.40,104.05 58.00,101.86 58.60,100.20 59.20,100.27 59.80,100.05 60.40,100.30 61.00,100.20 61.60,100.07" fill="none" stroke="#ff10ff" stroke-width="1.1" stroke-linejoin="round" />
<polyline points="61.60,100.07 62.50,93.37 62.80,103.97 64.00,104.01 64.30,93.37 64.60,95.26 64.90,102.88 66.10,103.45 66.40,95.26 66.70,94.89 67.00,103.90 68.20,103.81 68.50,94.89 68.80,94.75 69.10,103.38 70.30,103.09 70.60,94.75 70.90,95.55 71.20,102.63 72.40,102.62 72.70,95.55 73.00,94.77 73.30,103.47 74.50,103.51 74.80,94.77 75.10,95.07 75.40,102.52 76.60,102.93 76.90,95.07 77.20,94.44 77.50,102.48 78.70,102.09 79.00,94.44 79.30,94.58 79.60,103.06 80.80,102.91 81.10,94.58 81.40,95.20 81.70,102.66 82.90,102.93 83.20,95.20 83.50,95.78 83.80,101.26 85.00,101.46 85.30,95.78" fill="none" stroke="#ff10ff" stroke-width="0.75" stroke-linejoin="round" />
<polyline points="85.30,95.78 83.20,96.76 83.80,96.17 84.40,95.41 85.00,95.05 85.60,95.19 86.20,94.81 86.80,93.93 87.40,92.65 88.00,91.57" fill="none" stroke="#ff10ff" stroke-width="1.1" stroke-linejoin="round" />
<polyline points="88.00,91.57 88.50,83.27 88.80,96.30 90.00,96.75 90.30,83.27 90.60,85.31 90.90,97.03 92.10,97.47 92.40,85.31 92.70,83.35 93.00,95.83 94.20,94.10 94.50,83.35 94.80,83.60 95.10,95.67 96.30,96.15 96.60,83.60 96.90,83.87 97.20,96.24 98.40,96.34 98.70,83.87 99.00,84.20 99.30,96.11 100.50,95.58 100.80,84.20 101.10,82.68 101.40,95.28 102.60,96.09 102.90,82.68 103.20,83.64 103.50,96.18 104.70,95.58 105.00,83.64 105.30,83.04 105.60,95.34 106.80,95.38 107.10,83.04 107.40,83.31 107.70,94.97 108.90,94.77 109.20,83.31" fill="none" stroke="#ff10ff" stroke-width="0.75" stroke-linejoin="round" />
<polyline points="109.20,83.31 107.80,84.66 108.40,83.93 109.00,83.22 109.60,82.74 110.20,82.09 110.80,81.93 111.40,81.26 112.00,81.19 112.60,80.74 113.20,80.17" fill="none" stroke="#ff10ff" stroke-width="1.1" stroke-linejoin="round" />
<polyline points="113.20,80.17 114.50,71.47 114.80,84.54 116.00,84.88 116.30,71.47 116.60,71.28 116.90,83.94 118.10,83.46 118.40,71.28 118.70,71.80 119.00,83.06 120.20,82.47 120.50,71.80 120.80,72.20 121.10,83.50 122.30,83.69 122.60,72.20 122.90,72.57 123.20,82.48 124.40,82.11 124.70,72.57 125.00,72.82 125.30,82.41 126.50,82.43 126.80,72.82 127.10,72.09 127.40,81.84 128.60,81.92 128.90,72.09 129.20,72.61 129.50,82.00 130.70,81.62 131.00,72.61 131.30,74.08 131.60,81.81 132.80,81.65 133.10,74.08 133.40,73.13 133.70,81.37 134.90,80.08 135.20,73.13" fill="none" stroke="#ff10ff" stroke-width="0.75" stroke-linejoin="round" />
<polyline points="135.20,73.13 134.80,74.04 135.40,73.57 136.00,73.97 136.60,73.26 137.20,72.88" fill="none" stroke="#ff10ff" stroke-width="1.1" stroke-linejoin="round" />
<polyline points="137.20,72.88 137.80,66.58 138.10,76.37 139.30,76.09 139.60,66.58 139.90,65.75 140.20,76.42 141.40,76.30 141.70,65.75 142.00,67.34 142.30,76.86 143.50,77.21 143.80,67.34 144.10,66.87 144.40,76.51 145.60,77.02 145.90,66.87 146.20,66.75 146.50,77.29 147.70,77.23 148.00,66.75 148.30,66.23 148.60,76.40 149.80,76.55 150.10,66.23 150.40,65.67 150.70,76.31 151.90,75.26 152.20,65.67 152.50,64.98 152.80,75.73 154.00,75.77 154.30,64.98 154.60,65.08 154.90,76.09 156.10,76.43 156.40,65.08 156.70,65.89 157.00,76.55 158.20,77.39 158.50,65.89" fill="none" stroke="#ff10ff" stroke-width="0.75" stroke-linejoin="round" />
<polyline points="158.50,65.89 158.20,69.87 159.50,66.76 160.80,68.96 162.10,68.33 163.40,68.27 164.70,68.74 166.00,67.11 167.30,67.27 168.60,67.08 169.90,67.19 171.20,67.88 172.50,67.13 173.80,69.05 175.10,71.99 176.40,70.26 177.70,69.63 179.00,67.04 180.30,68.06 181.60,68.20 182.90,68.71 184.20,68.00 185.50,69.43 186.80,68.36 188.10,68.34 189.40,68.25 190.70,68.93 192.00,67.79 193.30,69.42 194.60,68.80 195.90,68.53 197.20,68.46 198.50,68.98 199.80,69.51 201.10,69.52 202.40,69.04 203.70,69.64 205.00,68.97 206.30,70.19 207.60,69.01 208.90,67.05 210.20,70.56 211.50,69.46 212.80,68.31 214.10,69.41 215.40,68.86 216.50,78.04 216.85,75.59 217.20,72.04 217.55,78.51 217.90,77.64 218.25,84.04 218.60,77.52 218.95,75.27 219.30,81.43 219.65,81.05 220.00,81.50 220.35,77.27 220.70,83.35 221.05,86.25 221.40,77.57 221.75,84.87 222.10,80.49 222.45,86.96 222.80,81.85 223.15,79.82 223.50,82.40 223.85,80.49 224.20,76.51 224.55,77.77 224.90,72.97 225.25,68.04 226.00,73.73 227.30,71.25 228.60,71.10 229.90,72.28 231.20,70.33 232.50,70.69 233.80,71.76 235.10,71.88 236.40,72.66 237.70,73.95 239.00,72.33 240.30,73.53 241.60,73.79 242.90,72.07 244.20,73.65 245.50,72.49 246.80,74.84 248.10,74.30 249.40,73.96 250.70,72.58 252.00,74.29 253.30,73.43 254.60,75.16 255.90,74.36 257.20,73.71 258.50,75.73 259.80,75.61 261.10,74.27 262.40,76.31 263.70,74.81 265.00,74.91 266.30,75.49 267.60,74.64 268.90,75.09 270.20,75.51 271.50,77.47 272.80,77.55 274.10,75.72 275.40,77.89 276.70,76.18 278.00,76.75 279.30,77.41 280.60,76.88 281.90,79.36 283.20,77.10 284.50,75.66 285.80,78.55 287.10,76.79 288.40,77.05 289.70,74.23 291.00,78.76 292.30,78.69 293.60,78.81 294.90,79.14 296.20,80.06 297.50,78.29 298.80,79.51 300.10,77.79 301.40,78.26 302.70,79.86 304.00,79.17 305.30,77.32 306.60,79.24 307.90,78.68 309.20,78.03 310.50,79.46 311.80,78.58 313.10,77.34 314.40,77.90 315.70,81.11 317.00,77.55 318.30,79.50 319.60,79.98 320.90,80.06 322.20,78.05 323.50,79.09 324.80,79.65 325.50,83.80 326.70,82.53 327.90,82.18 329.10,84.20 330.30,81.60 331.50,80.85 332.70,79.86 333.90,80.87 335.10,80.56 336.30,81.27 337.50,79.17 338.70,80.52 339.90,80.24 341.10,79.27 342.30,80.59 343.50,80.39 344.70,79.93 345.90,80.73 347.10,78.90 348.30,80.25 349.50,85.43 350.50,88.53 351.50,92.58 352.50,90.50 353.50,87.69 354.50,84.24 355.50,82.79 356.50,83.63 357.50,82.13 358.50,80.65 359.50,82.35 360.50,80.71 361.50,80.08 362.50,84.18 363.50,81.91 364.50,82.31 365.50,82.17 366.50,83.43 367.50,81.92 368.50,82.86 369.50,80.63 370.50,80.28 371.50,83.11 372.50,83.17 373.50,82.21 374.50,81.94 375.50,81.89 376.50,81.05 377.50,83.29 378.50,82.42 379.50,82.28 380.50,82.16 381.50,82.84 382.50,87.45 383.10,89.35 383.70,89.31 384.30,92.50 384.90,93.65 385.50,89.83 386.10,88.80 386.70,88.32 387.30,86.94 387.90,85.20 388.50,81.74 389.10,82.53 389.70,81.49 390.30,82.30 390.90,84.01 391.50,83.73 392.10,87.85 392.70,93.07 393.30,91.63 393.90,89.84 394.50,86.64 395.10,85.30 395.70,84.20 396.30,83.96 396.90,82.74 397.50,82.41 398.10,82.09 398.70,80.66 399.30,79.56 399.90,78.89 400.50,80.52 401.10,80.29 401.70,81.29 402.30,81.43 402.90,80.32 403.50,81.36 404.10,79.59 404.70,83.07 405.30,82.22 405.90,81.07 406.50,80.35 407.10,81.87 407.70,79.97 408.30,81.08 408.90,82.59 409.50,82.11 410.10,81.73 410.70,83.16 411.30,81.49 411.90,82.81 412.50,82.24 413.10,82.05 413.70,83.36 414.30,82.18 414.90,84.92 415.50,82.81 416.10,85.25 416.70,82.61 417.30,84.26 417.90,82.77 418.50,82.77 419.10,84.25 419.70,84.85 420.30,83.24 420.90,85.62 421.50,84.00 422.10,85.00 422.70,85.39 423.30,85.75 423.90,83.77 424.50,87.01 425.10,86.22 425.70,85.50 426.30,85.13 426.90,84.69 427.50,85.16 428.10,87.04 428.70,86.41 430.00,87.64 430.50,90.12 431.00,94.38 431.50,93.85 432.00,95.30 432.50,98.57 433.00,98.45 433.50,98.90 434.00,99.07 434.50,97.22 435.00,96.96 435.50,97.07 436.00,96.67 436.50,96.64 437.00,96.16 437.50,96.48 438.00,97.20 438.50,96.44 439.00,95.78 439.50,98.46 440.00,98.66 440.50,98.05 441.00,97.54 441.50,95.41 442.00,94.60 442.50,94.85 443.00,94.14 443.50,92.96 444.00,94.10 444.50,92.99 445.00,91.78 445.50,92.80 446.00,94.76 446.50,91.44 447.00,93.40 447.50,93.40 448.00,93.30 448.50,90.26 449.00,93.42 449.50,91.18 450.00,90.78 450.50,90.85 451.00,91.89 451.50,91.27 452.00,91.04 452.50,92.83 453.00,90.47 453.50,90.12 454.00,92.37 454.50,92.30 455.00,92.81 455.50,90.19 456.00,92.76 456.50,92.02 457.00,93.54 457.50,89.91 458.00,91.65 458.50,91.03 459.00,89.44 459.50,90.47 460.00,92.66 460.50,90.73 461.00,90.40 461.50,92.29 462.00,92.42 462.50,92.40 463.10,107.50 463.50,107.60 463.80,92.00 465.00,91.50" fill="none" stroke="#ff10ff" stroke-width="1.1" stroke-linejoin="round" />
<line x1="31" y1="107.50" x2="34.5" y2="107.50" stroke="#8a8a8a" stroke-width="0.8"/>
<line x1="31" y1="86.90" x2="34.5" y2="86.90" stroke="#8a8a8a" stroke-width="0.8"/>
<line x1="31" y1="66.30" x2="34.5" y2="66.30" stroke="#8a8a8a" stroke-width="0.8"/>
<text x="0" y="0" font-size="9.3" fill="#000" text-anchor="end" stroke="#000" stroke-width="0.22" transform="translate(28.6 111.4) scale(1 1.0)">0</text>
<text x="0" y="0" font-size="9.3" fill="#000" text-anchor="end" stroke="#000" stroke-width="0.22" transform="translate(28.6 90.80000000000001) scale(1 1.0)">5</text>
<text x="0" y="0" font-size="9.3" fill="#000" text-anchor="end" stroke="#000" stroke-width="0.22" transform="translate(28.6 70.2) scale(1 1.0)">10</text>
<rect x="438.7" y="70.39999999999999" width="53.0" height="21.60000000000001" fill="#cfcfcf"/>
<rect x="437.9" y="69.6" width="53.0" height="21.60000000000001" fill="#fff" stroke="#c4c4c4" stroke-width="0.9"/>
<line x1="439.2" y1="75.4" x2="450.3" y2="75.4" stroke="#ff10ff" stroke-width="1.1"/>
<line x1="439.2" y1="86.0" x2="450.3" y2="86.0" stroke="#10f0ff" stroke-width="1.1" stroke-dasharray="3.4 2.2"/>
<text x="0" y="0" font-size="8.2" fill="#000" text-anchor="start" stroke="#000" stroke-width="0.22" transform="translate(451.8 78.6) scale(1 1.0)">Measured</text>
<text x="0" y="0" font-size="8.2" fill="#000" text-anchor="start" stroke="#000" stroke-width="0.22" transform="translate(451.8 88.7) scale(1 1.0)">Feedback</text>
<text x="0" y="0" font-size="9.6" fill="#000" text-anchor="middle" stroke="#000" stroke-width="0.22" transform="translate(8.6 87.6) scale(1 1.09) rotate(-90)">P<tspan font-size="7.2" dy="4.2">div</tspan><tspan dy="-4.2"> [MW]</tspan></text>
<line x1="40.29" y1="115.8" x2="40.29" y2="165.7" stroke="#f6f6f6" stroke-width="0.7"/>
<line x1="49.58" y1="115.8" x2="49.58" y2="165.7" stroke="#f6f6f6" stroke-width="0.7"/>
<line x1="58.88" y1="115.8" x2="58.88" y2="165.7" stroke="#f6f6f6" stroke-width="0.7"/>
<line x1="68.17" y1="115.8" x2="68.17" y2="165.7" stroke="#f6f6f6" stroke-width="0.7"/>
<line x1="77.46" y1="115.8" x2="77.46" y2="165.7" stroke="#ededed" stroke-width="0.7"/>
<line x1="86.75" y1="115.8" x2="86.75" y2="165.7" stroke="#f6f6f6" stroke-width="0.7"/>
<line x1="96.04" y1="115.8" x2="96.04" y2="165.7" stroke="#f6f6f6" stroke-width="0.7"/>
<line x1="105.34" y1="115.8" x2="105.34" y2="165.7" stroke="#f6f6f6" stroke-width="0.7"/>
<line x1="114.63" y1="115.8" x2="114.63" y2="165.7" stroke="#f6f6f6" stroke-width="0.7"/>
<line x1="123.92" y1="115.8" x2="123.92" y2="165.7" stroke="#ededed" stroke-width="0.7"/>
<line x1="133.21" y1="115.8" x2="133.21" y2="165.7" stroke="#f6f6f6" stroke-width="0.7"/>
<line x1="142.50" y1="115.8" x2="142.50" y2="165.7" stroke="#f6f6f6" stroke-width="0.7"/>
<line x1="151.80" y1="115.8" x2="151.80" y2="165.7" stroke="#f6f6f6" stroke-width="0.7"/>
<line x1="161.09" y1="115.8" x2="161.09" y2="165.7" stroke="#f6f6f6" stroke-width="0.7"/>
<line x1="170.38" y1="115.8" x2="170.38" y2="165.7" stroke="#ededed" stroke-width="0.7"/>
<line x1="179.67" y1="115.8" x2="179.67" y2="165.7" stroke="#f6f6f6" stroke-width="0.7"/>
<line x1="188.96" y1="115.8" x2="188.96" y2="165.7" stroke="#f6f6f6" stroke-width="0.7"/>
<line x1="198.26" y1="115.8" x2="198.26" y2="165.7" stroke="#f6f6f6" stroke-width="0.7"/>
<line x1="207.55" y1="115.8" x2="207.55" y2="165.7" stroke="#f6f6f6" stroke-width="0.7"/>
<line x1="216.84" y1="115.8" x2="216.84" y2="165.7" stroke="#ededed" stroke-width="0.7"/>
<line x1="226.13" y1="115.8" x2="226.13" y2="165.7" stroke="#f6f6f6" stroke-width="0.7"/>
<line x1="235.42" y1="115.8" x2="235.42" y2="165.7" stroke="#f6f6f6" stroke-width="0.7"/>
<line x1="244.72" y1="115.8" x2="244.72" y2="165.7" stroke="#f6f6f6" stroke-width="0.7"/>
<line x1="254.01" y1="115.8" x2="254.01" y2="165.7" stroke="#f6f6f6" stroke-width="0.7"/>
<line x1="263.30" y1="115.8" x2="263.30" y2="165.7" stroke="#ededed" stroke-width="0.7"/>
<line x1="272.59" y1="115.8" x2="272.59" y2="165.7" stroke="#f6f6f6" stroke-width="0.7"/>
<line x1="281.88" y1="115.8" x2="281.88" y2="165.7" stroke="#f6f6f6" stroke-width="0.7"/>
<line x1="291.18" y1="115.8" x2="291.18" y2="165.7" stroke="#f6f6f6" stroke-width="0.7"/>
<line x1="300.47" y1="115.8" x2="300.47" y2="165.7" stroke="#f6f6f6" stroke-width="0.7"/>
<line x1="309.76" y1="115.8" x2="309.76" y2="165.7" stroke="#ededed" stroke-width="0.7"/>
<line x1="319.05" y1="115.8" x2="319.05" y2="165.7" stroke="#f6f6f6" stroke-width="0.7"/>
<line x1="328.34" y1="115.8" x2="328.34" y2="165.7" stroke="#f6f6f6" stroke-width="0.7"/>
<line x1="337.64" y1="115.8" x2="337.64" y2="165.7" stroke="#f6f6f6" stroke-width="0.7"/>
<line x1="346.93" y1="115.8" x2="346.93" y2="165.7" stroke="#f6f6f6" stroke-width="0.7"/>
<line x1="356.22" y1="115.8" x2="356.22" y2="165.7" stroke="#ededed" stroke-width="0.7"/>
<line x1="365.51" y1="115.8" x2="365.51" y2="165.7" stroke="#f6f6f6" stroke-width="0.7"/>
<line x1="374.80" y1="115.8" x2="374.80" y2="165.7" stroke="#f6f6f6" stroke-width="0.7"/>
<line x1="384.10" y1="115.8" x2="384.10" y2="165.7" stroke="#f6f6f6" stroke-width="0.7"/>
<line x1="393.39" y1="115.8" x2="393.39" y2="165.7" stroke="#f6f6f6" stroke-width="0.7"/>
<line x1="402.68" y1="115.8" x2="402.68" y2="165.7" stroke="#ededed" stroke-width="0.7"/>
<line x1="411.97" y1="115.8" x2="411.97" y2="165.7" stroke="#f6f6f6" stroke-width="0.7"/>
<line x1="421.26" y1="115.8" x2="421.26" y2="165.7" stroke="#f6f6f6" stroke-width="0.7"/>
<line x1="430.56" y1="115.8" x2="430.56" y2="165.7" stroke="#f6f6f6" stroke-width="0.7"/>
<line x1="439.85" y1="115.8" x2="439.85" y2="165.7" stroke="#f6f6f6" stroke-width="0.7"/>
<line x1="449.14" y1="115.8" x2="449.14" y2="165.7" stroke="#ededed" stroke-width="0.7"/>
<line x1="458.43" y1="115.8" x2="458.43" y2="165.7" stroke="#f6f6f6" stroke-width="0.7"/>
<line x1="467.72" y1="115.8" x2="467.72" y2="165.7" stroke="#f6f6f6" stroke-width="0.7"/>
<line x1="477.02" y1="115.8" x2="477.02" y2="165.7" stroke="#f6f6f6" stroke-width="0.7"/>
<line x1="486.31" y1="115.8" x2="486.31" y2="165.7" stroke="#f6f6f6" stroke-width="0.7"/>
<line x1="495.60" y1="115.8" x2="495.60" y2="165.7" stroke="#ededed" stroke-width="0.7"/>
<line x1="31" y1="165.70" x2="495.6" y2="165.70" stroke="#f6f6f6" stroke-width="0.7"/>
<line x1="31" y1="159.46" x2="495.6" y2="159.46" stroke="#f6f6f6" stroke-width="0.7"/>
<line x1="31" y1="153.22" x2="495.6" y2="153.22" stroke="#f6f6f6" stroke-width="0.7"/>
<line x1="31" y1="146.99" x2="495.6" y2="146.99" stroke="#f6f6f6" stroke-width="0.7"/>
<line x1="31" y1="140.75" x2="495.6" y2="140.75" stroke="#f6f6f6" stroke-width="0.7"/>
<line x1="31" y1="134.51" x2="495.6" y2="134.51" stroke="#f6f6f6" stroke-width="0.7"/>
<line x1="31" y1="128.27" x2="495.6" y2="128.27" stroke="#f6f6f6" stroke-width="0.7"/>
<line x1="31" y1="122.04" x2="495.6" y2="122.04" stroke="#f6f6f6" stroke-width="0.7"/>
<line x1="31" y1="115.80" x2="495.6" y2="115.80" stroke="#f6f6f6" stroke-width="0.7"/>
<line x1="31" y1="165.70" x2="495.6" y2="165.70" stroke="#ededed" stroke-width="0.7"/>
<line x1="31" y1="140.75" x2="495.6" y2="140.75" stroke="#ededed" stroke-width="0.7"/>
<line x1="31" y1="115.80" x2="495.6" y2="115.80" stroke="#ededed" stroke-width="0.7"/>
<line x1="31" y1="165.7" x2="495.6" y2="165.7" stroke="#c8c8c8" stroke-width="1.3"/>
<line x1="31" y1="115.8" x2="31" y2="165.7" stroke="#b4b4b4" stroke-width="0.9"/>
<line x1="77.46" y1="165.7" x2="77.46" y2="162.2" stroke="#8a8a8a" stroke-width="0.8"/>
<line x1="123.92" y1="165.7" x2="123.92" y2="162.2" stroke="#8a8a8a" stroke-width="0.8"/>
<line x1="170.38" y1="165.7" x2="170.38" y2="162.2" stroke="#8a8a8a" stroke-width="0.8"/>
<line x1="216.84" y1="165.7" x2="216.84" y2="162.2" stroke="#8a8a8a" stroke-width="0.8"/>
<line x1="263.30" y1="165.7" x2="263.30" y2="162.2" stroke="#8a8a8a" stroke-width="0.8"/>
<line x1="309.76" y1="165.7" x2="309.76" y2="162.2" stroke="#8a8a8a" stroke-width="0.8"/>
<line x1="356.22" y1="165.7" x2="356.22" y2="162.2" stroke="#8a8a8a" stroke-width="0.8"/>
<line x1="402.68" y1="165.7" x2="402.68" y2="162.2" stroke="#8a8a8a" stroke-width="0.8"/>
<line x1="449.14" y1="165.7" x2="449.14" y2="162.2" stroke="#8a8a8a" stroke-width="0.8"/>
<line x1="495.60" y1="165.7" x2="495.60" y2="162.2" stroke="#8a8a8a" stroke-width="0.8"/>
<line x1="72" y1="138" x2="72" y2="152" stroke="#111" stroke-width="0.9"/>
<line x1="74.5" y1="132" x2="74.5" y2="150" stroke="#111" stroke-width="0.9"/>
<line x1="76" y1="128" x2="76" y2="153" stroke="#111" stroke-width="0.9"/>
<line x1="78.8" y1="116.5" x2="78.8" y2="154.2" stroke="#111" stroke-width="0.9"/>
<line x1="80.5" y1="128" x2="80.5" y2="150" stroke="#111" stroke-width="0.9"/>
<line x1="83" y1="122" x2="83" y2="152" stroke="#111" stroke-width="0.9"/>
<rect x="85" y="125.52" width="1" height="22.93" fill="#141414"/>
<rect x="86" y="115.80" width="1" height="33.99" fill="#0b0b0b"/>
<rect x="87" y="115.80" width="1" height="34.62" fill="#1a1a1a"/>
<rect x="88" y="115.80" width="1" height="32.55" fill="#6d6d6d"/>
<rect x="89" y="119.42" width="1" height="31.71" fill="#030303"/>
<rect x="90" y="115.80" width="1" height="39.50" fill="#090909"/>
<rect x="91" y="115.80" width="1" height="34.15" fill="#151515"/>
<rect x="93" y="115.80" width="1" height="32.87" fill="#191919"/>
<rect x="94" y="128.84" width="1" height="24.08" fill="#767676"/>
<rect x="95" y="115.80" width="1" height="35.58" fill="#0f0f0f"/>
<rect x="97" y="115.80" width="1" height="39.11" fill="#c9c9c9"/>
<rect x="98" y="126.85" width="1" height="25.07" fill="#0c0c0c"/>
<rect x="99" y="115.80" width="1" height="35.95" fill="#bdbdbd"/>
<rect x="100" y="115.80" width="1" height="36.15" fill="#0b0b0b"/>
<rect x="102.00" y="115.8" width="1.02" height="42.99" fill="#090909"/>
<rect x="103.00" y="115.8" width="1.02" height="41.32" fill="#878787"/>
<rect x="104.00" y="115.8" width="1.02" height="39.72" fill="#050505"/>
<rect x="105.00" y="115.8" width="1.02" height="39.78" fill="#0f0f0f"/>
<rect x="106.00" y="115.8" width="1.02" height="42.90" fill="#444444"/>
<rect x="107.00" y="115.8" width="1.02" height="41.76" fill="#0d0d0d"/>
<rect x="108.00" y="115.8" width="1.02" height="47.00" fill="#080808"/>
<rect x="109.00" y="115.8" width="1.02" height="43.76" fill="#0a0a0a"/>
<rect x="110.00" y="115.8" width="1.02" height="45.31" fill="#0f0f0f"/>
<rect x="111.00" y="115.8" width="1.02" height="43.88" fill="#070707"/>
<rect x="112.00" y="115.8" width="1.02" height="44.10" fill="#676767"/>
<rect x="113.00" y="115.8" width="1.02" height="45.83" fill="#494949"/>
<rect x="114.00" y="115.8" width="1.02" height="47.67" fill="#080808"/>
<rect x="115.00" y="115.8" width="1.02" height="47.68" fill="#121212"/>
<rect x="116.00" y="115.8" width="1.02" height="45.19" fill="#131313"/>
<rect x="117.00" y="115.8" width="1.02" height="47.28" fill="#050505"/>
<rect x="118.00" y="115.8" width="1.02" height="46.56" fill="#181818"/>
<rect x="119.00" y="115.8" width="1.02" height="46.96" fill="#010101"/>
<rect x="120.00" y="115.8" width="1.02" height="47.27" fill="#040404"/>
<rect x="121.00" y="115.8" width="1.02" height="45.61" fill="#151515"/>
<rect x="122.00" y="115.8" width="1.02" height="44.06" fill="#010101"/>
<rect x="123.00" y="115.8" width="1.02" height="44.43" fill="#898989"/>
<rect x="124.00" y="115.8" width="1.02" height="44.98" fill="#121212"/>
<rect x="125.00" y="115.8" width="1.02" height="47.36" fill="#101010"/>
<rect x="126.00" y="115.8" width="1.02" height="45.01" fill="#040404"/>
<rect x="127.00" y="115.8" width="1.02" height="45.18" fill="#060606"/>
<rect x="128.00" y="115.8" width="1.02" height="46.60" fill="#070707"/>
<rect x="129.00" y="115.8" width="1.02" height="45.66" fill="#0e0e0e"/>
<rect x="130.00" y="115.8" width="1.02" height="45.83" fill="#040404"/>
<rect x="131.00" y="115.8" width="1.02" height="45.47" fill="#000000"/>
<rect x="132.00" y="115.8" width="1.02" height="46.96" fill="#474747"/>
<rect x="133.00" y="115.8" width="1.02" height="47.30" fill="#050505"/>
<rect x="134.00" y="115.8" width="1.02" height="47.39" fill="#303030"/>
<rect x="135.00" y="115.8" width="1.02" height="46.42" fill="#050505"/>
<rect x="136.00" y="115.8" width="1.02" height="46.03" fill="#515151"/>
<rect x="137.00" y="115.8" width="1.02" height="46.09" fill="#0e0e0e"/>
<rect x="138.00" y="115.8" width="1.02" height="45.21" fill="#070707"/>
<rect x="139.00" y="115.8" width="1.02" height="46.25" fill="#3b3b3b"/>
<rect x="140.00" y="115.8" width="1.02" height="44.92" fill="#121212"/>
<rect x="141.00" y="115.8" width="1.02" height="44.18" fill="#040404"/>
<rect x="142.00" y="115.8" width="1.02" height="45.26" fill="#454545"/>
<rect x="143.00" y="115.8" width="1.02" height="45.47" fill="#0a0a0a"/>
<rect x="144.00" y="115.8" width="1.02" height="46.51" fill="#0e0e0e"/>
<rect x="145.00" y="115.8" width="1.02" height="44.37" fill="#0a0a0a"/>
<rect x="146.00" y="115.8" width="1.02" height="45.49" fill="#141414"/>
<rect x="147.00" y="115.8" width="1.02" height="46.84" fill="#020202"/>
<rect x="148.00" y="115.8" width="1.02" height="46.82" fill="#030303"/>
<rect x="149.00" y="115.8" width="1.02" height="47.04" fill="#090909"/>
<rect x="150.00" y="115.8" width="1.02" height="45.24" fill="#141414"/>
<rect x="151.00" y="115.8" width="1.02" height="45.81" fill="#010101"/>
<rect x="152.00" y="115.8" width="1.02" height="46.40" fill="#0c0c0c"/>
<rect x="153.00" y="115.8" width="1.02" height="47.08" fill="#181818"/>
<rect x="154.00" y="115.8" width="1.02" height="44.79" fill="#080808"/>
<rect x="155.00" y="115.8" width="1.02" height="47.49" fill="#000000"/>
<rect x="156.00" y="115.8" width="1.02" height="47.67" fill="#070707"/>
<rect x="157.00" y="115.8" width="1.02" height="44.61" fill="#070707"/>
<rect x="158.00" y="115.8" width="1.02" height="44.15" fill="#070707"/>
<rect x="159.00" y="115.8" width="1.02" height="46.47" fill="#080808"/>
<rect x="160.00" y="115.8" width="1.02" height="47.34" fill="#555555"/>
<rect x="161.00" y="115.8" width="1.02" height="44.71" fill="#030303"/>
<rect x="162.00" y="115.8" width="1.02" height="44.96" fill="#050505"/>
<rect x="163.00" y="115.8" width="1.02" height="47.05" fill="#0f0f0f"/>
<rect x="164.00" y="115.8" width="1.02" height="45.45" fill="#131313"/>
<rect x="165.00" y="115.8" width="1.02" height="45.94" fill="#404040"/>
<rect x="166.00" y="115.8" width="1.02" height="45.11" fill="#030303"/>
<rect x="167.00" y="115.8" width="1.02" height="44.64" fill="#181818"/>
<rect x="168.00" y="115.8" width="1.02" height="47.01" fill="#0e0e0e"/>
<rect x="169.00" y="115.8" width="1.02" height="44.59" fill="#121212"/>
<rect x="170.00" y="115.8" width="1.02" height="44.94" fill="#010101"/>
<rect x="171.00" y="115.8" width="1.02" height="44.44" fill="#161616"/>
<rect x="172.00" y="115.8" width="1.02" height="43.92" fill="#323232"/>
<rect x="173.00" y="115.8" width="1.02" height="47.27" fill="#000000"/>
<rect x="174.00" y="115.8" width="1.02" height="46.52" fill="#030303"/>
<rect x="175.00" y="115.8" width="1.02" height="46.63" fill="#111111"/>
<rect x="176.00" y="115.8" width="1.02" height="44.93" fill="#0a0a0a"/>
<rect x="177.00" y="115.8" width="1.02" height="46.07" fill="#0d0d0d"/>
<rect x="178.00" y="115.8" width="1.02" height="47.22" fill="#060606"/>
<rect x="179.00" y="115.8" width="1.02" height="44.11" fill="#060606"/>
<rect x="180.00" y="115.8" width="1.02" height="43.93" fill="#000000"/>
<rect x="181.00" y="115.8" width="1.02" height="46.14" fill="#0d0d0d"/>
<rect x="182.00" y="115.8" width="1.02" height="46.90" fill="#0e0e0e"/>
<rect x="183.00" y="115.8" width="1.02" height="47.36" fill="#181818"/>
<rect x="184.00" y="115.8" width="1.02" height="47.36" fill="#010101"/>
<rect x="185.00" y="115.8" width="1.02" height="44.38" fill="#050505"/>
<rect x="186.00" y="115.8" width="1.02" height="46.11" fill="#0c0c0c"/>
<rect x="187.00" y="115.8" width="1.02" height="43.85" fill="#121212"/>
<rect x="188.00" y="115.8" width="1.02" height="44.04" fill="#0b0b0b"/>
<rect x="189.00" y="115.8" width="1.02" height="45.45" fill="#000000"/>
<rect x="190.00" y="115.8" width="1.02" height="45.17" fill="#060606"/>
<rect x="191.00" y="115.8" width="1.02" height="46.14" fill="#151515"/>
<rect x="192.00" y="115.8" width="1.02" height="46.39" fill="#0c0c0c"/>
<rect x="193.00" y="115.8" width="1.02" height="44.73" fill="#0a0a0a"/>
<rect x="194.00" y="115.8" width="1.02" height="45.24" fill="#030303"/>
<rect x="195.00" y="115.8" width="1.02" height="45.02" fill="#050505"/>
<rect x="196.00" y="115.8" width="1.02" height="44.53" fill="#151515"/>
<rect x="197.00" y="115.8" width="1.02" height="47.25" fill="#161616"/>
<rect x="198.00" y="115.8" width="1.02" height="47.23" fill="#0f0f0f"/>
<rect x="199.00" y="115.8" width="1.02" height="47.69" fill="#080808"/>
<rect x="200.00" y="115.8" width="1.02" height="44.60" fill="#0a0a0a"/>
<rect x="201.00" y="115.8" width="1.02" height="46.71" fill="#151515"/>
<rect x="202.00" y="115.8" width="1.02" height="44.52" fill="#0f0f0f"/>
<rect x="203.00" y="115.8" width="1.02" height="44.25" fill="#050505"/>
<rect x="204.00" y="115.8" width="1.02" height="46.21" fill="#121212"/>
<rect x="205.00" y="115.8" width="1.02" height="44.47" fill="#0c0c0c"/>
<rect x="206.00" y="115.8" width="1.02" height="44.44" fill="#181818"/>
<rect x="207.00" y="115.8" width="1.02" height="45.19" fill="#353535"/>
<rect x="208.00" y="115.8" width="1.02" height="47.59" fill="#010101"/>
<rect x="209.00" y="115.8" width="1.02" height="46.29" fill="#101010"/>
<rect x="210.00" y="115.8" width="1.02" height="44.91" fill="#050505"/>
<rect x="211.00" y="115.8" width="1.02" height="46.91" fill="#0a0a0a"/>
<rect x="212.00" y="115.8" width="1.02" height="46.31" fill="#121212"/>
<rect x="213.00" y="115.8" width="1.02" height="44.78" fill="#151515"/>
<rect x="214.00" y="115.8" width="1.02" height="47.35" fill="#111111"/>
<rect x="215.00" y="115.8" width="1.02" height="47.30" fill="#050505"/>
<rect x="216.00" y="115.8" width="1.02" height="45.44" fill="#161616"/>
<rect x="217.00" y="115.8" width="1.02" height="44.37" fill="#141414"/>
<rect x="218.00" y="115.8" width="1.02" height="47.56" fill="#0b0b0b"/>
<rect x="219.00" y="115.8" width="1.02" height="44.36" fill="#010101"/>
<rect x="220.00" y="115.8" width="1.02" height="43.87" fill="#0c0c0c"/>
<rect x="221.00" y="115.8" width="1.02" height="45.38" fill="#141414"/>
<rect x="222.00" y="115.8" width="1.02" height="46.59" fill="#101010"/>
<rect x="223.00" y="115.8" width="1.02" height="45.92" fill="#161616"/>
<rect x="224.00" y="115.8" width="1.02" height="44.23" fill="#141414"/>
<rect x="225.00" y="115.8" width="1.02" height="44.41" fill="#000000"/>
<rect x="226.00" y="115.8" width="1.02" height="47.55" fill="#040404"/>
<rect x="227.00" y="115.8" width="1.02" height="46.28" fill="#101010"/>
<rect x="228.00" y="115.8" width="1.02" height="46.33" fill="#161616"/>
<rect x="229.00" y="115.8" width="1.02" height="47.18" fill="#101010"/>
<rect x="230.00" y="115.8" width="1.02" height="45.74" fill="#010101"/>
<rect x="231.00" y="115.8" width="1.02" height="46.72" fill="#040404"/>
<rect x="232.00" y="115.8" width="1.02" height="46.21" fill="#171717"/>
<rect x="233.00" y="115.8" width="1.02" height="45.61" fill="#171717"/>
<rect x="234.00" y="115.8" width="1.02" height="46.26" fill="#080808"/>
<rect x="235.00" y="115.8" width="1.02" height="45.46" fill="#000000"/>
<rect x="236.00" y="115.8" width="1.02" height="45.59" fill="#0b0b0b"/>
<rect x="237.00" y="115.8" width="1.02" height="47.27" fill="#040404"/>
<rect x="238.00" y="115.8" width="1.02" height="47.14" fill="#0e0e0e"/>
<rect x="239.00" y="115.8" width="1.02" height="46.79" fill="#181818"/>
<rect x="240.00" y="115.8" width="1.02" height="46.95" fill="#010101"/>
<rect x="241.00" y="115.8" width="1.02" height="44.51" fill="#0b0b0b"/>
<rect x="242.00" y="115.8" width="1.02" height="43.72" fill="#3f3f3f"/>
<rect x="243.00" y="115.8" width="1.02" height="44.91" fill="#000000"/>
<rect x="244.00" y="115.8" width="1.02" height="45.57" fill="#010101"/>
<rect x="245.00" y="115.8" width="1.02" height="47.37" fill="#3f3f3f"/>
<rect x="246.00" y="115.8" width="1.02" height="46.32" fill="#131313"/>
<rect x="247.00" y="115.8" width="1.02" height="45.30" fill="#070707"/>
<rect x="248.00" y="115.8" width="1.02" height="46.79" fill="#121212"/>
<rect x="249.00" y="115.8" width="1.02" height="45.25" fill="#000000"/>
<rect x="250.00" y="115.8" width="1.02" height="44.88" fill="#000000"/>
<rect x="251.00" y="115.8" width="1.02" height="46.06" fill="#0d0d0d"/>
<rect x="252.00" y="115.8" width="1.02" height="46.13" fill="#090909"/>
<rect x="253.00" y="115.8" width="1.02" height="45.36" fill="#141414"/>
<rect x="254.00" y="115.8" width="1.02" height="44.98" fill="#060606"/>
<rect x="255.00" y="115.8" width="1.02" height="47.61" fill="#171717"/>
<rect x="256.00" y="115.8" width="1.02" height="44.09" fill="#0c0c0c"/>
<rect x="257.00" y="115.8" width="1.02" height="44.44" fill="#141414"/>
<rect x="258.00" y="115.8" width="1.02" height="44.57" fill="#3c3c3c"/>
<rect x="259.00" y="115.8" width="1.02" height="45.38" fill="#0d0d0d"/>
<rect x="260.00" y="115.8" width="1.02" height="46.62" fill="#161616"/>
<rect x="261.00" y="115.8" width="1.02" height="44.37" fill="#0c0c0c"/>
<rect x="262.00" y="115.8" width="1.02" height="47.08" fill="#0c0c0c"/>
<rect x="263.00" y="115.8" width="1.02" height="46.66" fill="#040404"/>
<rect x="264.00" y="115.8" width="1.02" height="46.78" fill="#181818"/>
<rect x="265.00" y="115.8" width="1.02" height="46.73" fill="#121212"/>
<rect x="266.00" y="115.8" width="1.02" height="46.28" fill="#373737"/>
<rect x="267.00" y="115.8" width="1.02" height="44.40" fill="#0e0e0e"/>
<rect x="268.00" y="115.8" width="1.02" height="44.52" fill="#121212"/>
<rect x="269.00" y="115.8" width="1.02" height="45.11" fill="#141414"/>
<rect x="270.00" y="115.8" width="1.02" height="47.56" fill="#0e0e0e"/>
<rect x="271.00" y="115.8" width="1.02" height="47.36" fill="#090909"/>
<rect x="272.00" y="115.8" width="1.02" height="47.50" fill="#141414"/>
<rect x="273.00" y="115.8" width="1.02" height="46.00" fill="#121212"/>
<rect x="274.00" y="115.8" width="1.02" height="44.63" fill="#020202"/>
<rect x="275.00" y="115.8" width="1.02" height="45.03" fill="#131313"/>
<rect x="276.00" y="115.8" width="1.02" height="47.34" fill="#020202"/>
<rect x="277.00" y="115.8" width="1.02" height="45.45" fill="#494949"/>
<rect x="278.00" y="115.8" width="1.02" height="44.09" fill="#181818"/>
<rect x="279.00" y="115.8" width="1.02" height="47.33" fill="#040404"/>
<rect x="280.00" y="115.8" width="1.02" height="48.59" fill="#000000"/>
<rect x="281.00" y="115.8" width="1.02" height="48.41" fill="#0c0c0c"/>
<rect x="282.00" y="115.8" width="1.02" height="47.81" fill="#151515"/>
<rect x="283.00" y="115.8" width="1.02" height="49.10" fill="#525252"/>
<rect x="284.00" y="115.8" width="1.02" height="49.66" fill="#010101"/>
<rect x="285.00" y="115.8" width="1.02" height="48.20" fill="#f0f0f0"/>
<rect x="286.00" y="115.8" width="1.02" height="49.60" fill="#010101"/>
<rect x="287.00" y="115.8" width="1.02" height="46.78" fill="#4c4c4c"/>
<rect x="288.00" y="115.8" width="1.02" height="49.06" fill="#030303"/>
<rect x="289.00" y="115.8" width="1.02" height="47.83" fill="#848484"/>
<rect x="290.00" y="115.8" width="1.02" height="46.98" fill="#575757"/>
<rect x="291.00" y="115.8" width="1.02" height="48.27" fill="#0c0c0c"/>
<rect x="292.00" y="115.8" width="1.02" height="47.25" fill="#474747"/>
<rect x="293.00" y="115.8" width="1.02" height="47.51" fill="#a0a0a0"/>
<rect x="294.00" y="115.8" width="1.02" height="47.14" fill="#4a4a4a"/>
<rect x="295.00" y="115.8" width="1.02" height="49.57" fill="#e8e8e8"/>
<rect x="296.00" y="115.8" width="1.02" height="48.63" fill="#dedede"/>
<rect x="297.00" y="115.8" width="1.02" height="49.34" fill="#282828"/>
<rect x="298.00" y="115.8" width="1.02" height="49.13" fill="#161616"/>
<rect x="299.00" y="115.8" width="1.02" height="46.90" fill="#030303"/>
<rect x="300.00" y="115.8" width="1.02" height="48.31" fill="#020202"/>
<rect x="301.00" y="115.8" width="1.02" height="49.12" fill="#919191"/>
<rect x="302.00" y="115.8" width="1.02" height="49.34" fill="#0c0c0c"/>
<rect x="303.00" y="115.8" width="1.02" height="49.01" fill="#f5f5f5"/>
<rect x="304.00" y="115.8" width="1.02" height="49.44" fill="#111111"/>
<rect x="305.00" y="115.8" width="1.02" height="48.16" fill="#343434"/>
<rect x="306.00" y="115.8" width="1.02" height="48.78" fill="#3f3f3f"/>
<rect x="307.00" y="115.8" width="1.02" height="48.23" fill="#4a4a4a"/>
<rect x="308.00" y="115.8" width="1.02" height="47.49" fill="#727272"/>
<rect x="309.00" y="115.8" width="1.02" height="49.24" fill="#d5d5d5"/>
<rect x="310.00" y="115.8" width="1.02" height="46.84" fill="#838383"/>
<rect x="311.00" y="115.8" width="1.02" height="49.53" fill="#c8c8c8"/>
<rect x="312.00" y="115.8" width="1.02" height="46.76" fill="#151515"/>
<rect x="313.00" y="115.8" width="1.02" height="48.81" fill="#0f0f0f"/>
<rect x="314.00" y="115.8" width="1.02" height="49.44" fill="#060606"/>
<rect x="315.00" y="115.8" width="1.02" height="48.76" fill="#141414"/>
<rect x="316.00" y="115.8" width="1.02" height="47.75" fill="#030303"/>
<rect x="317.00" y="115.8" width="1.02" height="49.39" fill="#303030"/>
<rect x="318.00" y="115.8" width="1.02" height="46.87" fill="#6d6d6d"/>
<rect x="319.00" y="115.8" width="1.02" height="48.37" fill="#bebebe"/>
<rect x="320.00" y="115.8" width="1.02" height="49.19" fill="#353535"/>
<rect x="321.00" y="115.8" width="1.02" height="48.48" fill="#393939"/>
<rect x="322.00" y="115.8" width="1.02" height="47.34" fill="#131313"/>
<rect x="323.00" y="115.8" width="1.02" height="48.49" fill="#131313"/>
<rect x="324.00" y="115.8" width="1.02" height="47.61" fill="#969696"/>
<rect x="325.00" y="115.8" width="1.02" height="48.51" fill="#070707"/>
<rect x="326.00" y="115.8" width="1.02" height="48.31" fill="#919191"/>
<rect x="327.00" y="115.8" width="1.02" height="47.02" fill="#2e2e2e"/>
<rect x="328.00" y="115.8" width="1.02" height="47.30" fill="#515151"/>
<rect x="329.00" y="115.8" width="1.02" height="46.97" fill="#cecece"/>
<rect x="330.00" y="115.8" width="1.02" height="47.91" fill="#424242"/>
<rect x="331.00" y="115.8" width="1.02" height="49.30" fill="#0f0f0f"/>
<rect x="332.00" y="115.8" width="1.02" height="49.43" fill="#2d2d2d"/>
<rect x="333.00" y="115.8" width="1.02" height="49.44" fill="#d6d6d6"/>
<rect x="334.00" y="115.8" width="1.02" height="49.25" fill="#292929"/>
<rect x="335.00" y="115.8" width="1.02" height="49.61" fill="#121212"/>
<rect x="336.00" y="115.8" width="1.02" height="47.42" fill="#070707"/>
<rect x="337.00" y="115.8" width="1.02" height="47.11" fill="#484848"/>
<rect x="338.00" y="115.8" width="1.02" height="49.44" fill="#ebebeb"/>
<rect x="339.00" y="115.8" width="1.02" height="47.69" fill="#030303"/>
<rect x="340.00" y="115.8" width="1.02" height="46.98" fill="#424242"/>
<rect x="341.00" y="115.8" width="1.02" height="47.60" fill="#f9f9f9"/>
<rect x="342.00" y="115.8" width="1.02" height="47.49" fill="#d4d4d4"/>
<rect x="343.00" y="115.8" width="1.02" height="47.18" fill="#989898"/>
<rect x="344.00" y="115.8" width="1.02" height="48.74" fill="#414141"/>
<rect x="345.00" y="115.8" width="1.02" height="47.52" fill="#656565"/>
<rect x="346.00" y="115.8" width="1.02" height="47.07" fill="#161616"/>
<rect x="347.00" y="115.8" width="1.02" height="46.78" fill="#565656"/>
<rect x="348.00" y="115.8" width="1.02" height="48.30" fill="#515151"/>
<rect x="349.00" y="115.8" width="1.02" height="47.45" fill="#3c3c3c"/>
<rect x="350.00" y="115.8" width="1.02" height="47.70" fill="#8a8a8a"/>
<rect x="351.00" y="115.8" width="1.02" height="47.52" fill="#353535"/>
<rect x="352.00" y="115.8" width="1.02" height="47.67" fill="#8c8c8c"/>
<rect x="353.00" y="115.8" width="1.02" height="47.47" fill="#2c2c2c"/>
<rect x="354.00" y="115.8" width="1.02" height="47.96" fill="#747474"/>
<rect x="355.00" y="115.8" width="1.02" height="49.19" fill="#393939"/>
<rect x="356.00" y="115.8" width="1.02" height="49.55" fill="#3c3c3c"/>
<rect x="357.00" y="115.8" width="1.02" height="47.21" fill="#515151"/>
<rect x="358.00" y="115.8" width="1.02" height="47.38" fill="#939393"/>
<rect x="359.00" y="115.8" width="1.02" height="48.54" fill="#070707"/>
<rect x="360.00" y="115.8" width="1.02" height="48.47" fill="#c5c5c5"/>
<rect x="361.00" y="115.8" width="1.02" height="49.63" fill="#545454"/>
<rect x="362.00" y="115.8" width="1.02" height="48.76" fill="#9e9e9e"/>
<rect x="363.00" y="115.8" width="1.02" height="48.80" fill="#a6a6a6"/>
<rect x="364.00" y="115.8" width="1.02" height="46.90" fill="#161616"/>
<rect x="365.00" y="115.8" width="1.02" height="49.68" fill="#cdcdcd"/>
<rect x="366.00" y="115.8" width="1.02" height="47.07" fill="#8e8e8e"/>
<rect x="367.00" y="115.8" width="1.02" height="47.87" fill="#2f2f2f"/>
<rect x="368.00" y="115.8" width="1.02" height="48.64" fill="#0f0f0f"/>
<rect x="369.00" y="115.8" width="1.02" height="46.89" fill="#6a6a6a"/>
<rect x="370.00" y="115.8" width="1.02" height="48.33" fill="#373737"/>
<rect x="371.00" y="115.8" width="1.02" height="47.93" fill="#797979"/>
<rect x="372.00" y="115.8" width="1.02" height="47.61" fill="#f2f2f2"/>
<rect x="373.00" y="115.8" width="1.02" height="49.23" fill="#7f7f7f"/>
<rect x="374.00" y="115.8" width="1.02" height="47.29" fill="#c1c1c1"/>
<rect x="375.00" y="115.8" width="1.02" height="49.60" fill="#303030"/>
<rect x="376.00" y="115.8" width="1.02" height="47.68" fill="#8d8d8d"/>
<rect x="377.00" y="115.8" width="1.02" height="47.25" fill="#e3e3e3"/>
<rect x="378.00" y="115.8" width="1.02" height="49.13" fill="#6e6e6e"/>
<rect x="379.00" y="115.8" width="1.02" height="47.86" fill="#939393"/>
<rect x="380.00" y="115.8" width="1.02" height="48.36" fill="#444444"/>
<rect x="381.00" y="115.8" width="1.02" height="47.11" fill="#585858"/>
<rect x="382.00" y="115.8" width="1.02" height="48.41" fill="#898989"/>
<rect x="383.00" y="115.8" width="1.02" height="48.68" fill="#525252"/>
<rect x="384.00" y="115.8" width="1.02" height="49.06" fill="#efefef"/>
<rect x="385.00" y="115.8" width="1.02" height="48.97" fill="#e0e0e0"/>
<rect x="386.00" y="115.8" width="1.02" height="48.79" fill="#2a2a2a"/>
<rect x="387.00" y="115.8" width="1.02" height="49.59" fill="#707070"/>
<rect x="388.00" y="115.8" width="1.02" height="48.61" fill="#141414"/>
<rect x="389.00" y="115.8" width="1.02" height="46.93" fill="#6b6b6b"/>
<rect x="390.00" y="115.8" width="1.02" height="49.70" fill="#6e6e6e"/>
<rect x="391.00" y="115.8" width="1.02" height="46.95" fill="#353535"/>
<rect x="392.00" y="115.8" width="1.02" height="47.96" fill="#6b6b6b"/>
<rect x="393.00" y="115.8" width="1.02" height="47.69" fill="#070707"/>
<rect x="394.00" y="115.8" width="1.02" height="48.44" fill="#131313"/>
<rect x="395.00" y="115.8" width="1.02" height="48.70" fill="#343434"/>
<rect x="396.00" y="115.8" width="1.02" height="46.79" fill="#cacaca"/>
<rect x="397.00" y="115.8" width="1.02" height="47.29" fill="#e0e0e0"/>
<rect x="398.00" y="115.8" width="1.02" height="48.56" fill="#3a3a3a"/>
<rect x="399.00" y="115.8" width="1.02" height="48.02" fill="#424242"/>
<rect x="400.00" y="115.8" width="1.02" height="47.55" fill="#7f7f7f"/>
<rect x="401.00" y="115.8" width="1.02" height="47.85" fill="#3e3e3e"/>
<rect x="402.00" y="115.8" width="1.02" height="48.24" fill="#414141"/>
<rect x="403.00" y="115.8" width="1.02" height="48.83" fill="#464646"/>
<rect x="404.00" y="115.8" width="1.02" height="47.72" fill="#989898"/>
<rect x="405.00" y="115.8" width="1.02" height="47.01" fill="#e4e4e4"/>
<rect x="406.00" y="115.8" width="1.02" height="47.89" fill="#989898"/>
<rect x="407.00" y="115.8" width="1.02" height="48.67" fill="#818181"/>
<rect x="408.00" y="115.8" width="1.02" height="47.05" fill="#d3d3d3"/>
<rect x="409.00" y="115.8" width="1.02" height="49.00" fill="#a1a1a1"/>
<rect x="410.00" y="115.8" width="1.02" height="49.68" fill="#090909"/>
<rect x="411.00" y="115.8" width="1.02" height="47.05" fill="#434343"/>
<rect x="412.00" y="115.8" width="1.02" height="47.56" fill="#323232"/>
<rect x="413.00" y="115.8" width="1.02" height="49.20" fill="#393939"/>
<rect x="414.00" y="115.8" width="1.02" height="47.03" fill="#646464"/>
<rect x="415.00" y="115.8" width="1.02" height="49.55" fill="#0e0e0e"/>
<rect x="416.00" y="115.8" width="1.02" height="47.71" fill="#4a4a4a"/>
<rect x="417.00" y="115.8" width="1.02" height="48.68" fill="#a6a6a6"/>
<rect x="418.00" y="115.8" width="1.02" height="48.03" fill="#020202"/>
<rect x="419.00" y="115.8" width="1.02" height="47.59" fill="#010101"/>
<rect x="420.00" y="115.8" width="1.02" height="48.07" fill="#141414"/>
<rect x="421.00" y="115.8" width="1.02" height="47.71" fill="#373737"/>
<rect x="422.00" y="115.8" width="1.02" height="46.83" fill="#494949"/>
<rect x="423.00" y="115.8" width="1.02" height="47.99" fill="#e6e6e6"/>
<rect x="424.00" y="115.8" width="1.02" height="46.87" fill="#d3d3d3"/>
<rect x="425.00" y="115.8" width="1.02" height="49.44" fill="#000000"/>
<rect x="426.00" y="115.8" width="1.02" height="48.78" fill="#2e2e2e"/>
<rect x="427.00" y="115.8" width="1.02" height="47.79" fill="#151515"/>
<rect x="428.00" y="115.8" width="1.02" height="48.96" fill="#353535"/>
<rect x="429.00" y="115.8" width="1.02" height="49.48" fill="#0b0b0b"/>
<rect x="430.00" y="115.8" width="1.02" height="48.79" fill="#3e3e3e"/>
<rect x="431.00" y="115.8" width="1.02" height="48.84" fill="#3a3a3a"/>
<rect x="432.00" y="115.8" width="1.02" height="47.27" fill="#575757"/>
<rect x="433.00" y="115.8" width="1.02" height="49.28" fill="#3f3f3f"/>
<rect x="434.00" y="115.8" width="1.02" height="49.02" fill="#a6a6a6"/>
<rect x="435.00" y="115.8" width="1.02" height="47.18" fill="#d7d7d7"/>
<rect x="436.00" y="115.8" width="1.02" height="48.54" fill="#e6e6e6"/>
<rect x="437.00" y="115.8" width="1.02" height="47.46" fill="#282828"/>
<rect x="438.00" y="115.8" width="1.02" height="48.01" fill="#3a3a3a"/>
<rect x="439.00" y="115.8" width="1.02" height="49.55" fill="#8e8e8e"/>
<rect x="440.00" y="115.8" width="1.02" height="48.53" fill="#0d0d0d"/>
<rect x="441.00" y="115.8" width="1.02" height="47.65" fill="#333333"/>
<rect x="442.00" y="115.8" width="1.02" height="49.43" fill="#898989"/>
<rect x="443.00" y="115.8" width="1.02" height="49.16" fill="#e7e7e7"/>
<rect x="444.00" y="115.8" width="1.02" height="48.83" fill="#383838"/>
<rect x="445.00" y="115.8" width="1.02" height="49.56" fill="#161616"/>
<rect x="446.00" y="115.8" width="1.02" height="48.78" fill="#515151"/>
<rect x="447.00" y="115.8" width="1.02" height="48.70" fill="#e6e6e6"/>
<rect x="448.00" y="115.8" width="1.02" height="46.81" fill="#d1d1d1"/>
<rect x="449.00" y="115.8" width="1.02" height="48.43" fill="#010101"/>
<rect x="450.00" y="115.8" width="1.02" height="47.31" fill="#545454"/>
<polyline points="31.00,144.47 31.50,145.82 32.00,144.14 32.50,144.72 33.00,145.07 33.50,143.26 34.00,144.82 34.50,144.21 35.00,144.15 35.50,143.54 36.00,144.17 36.50,143.34 37.00,143.30 37.50,143.45 38.00,142.95 38.50,144.24 39.00,142.68 39.50,142.85 40.00,142.96 40.50,143.01 41.00,143.30 41.50,143.40 42.00,142.93 42.50,142.98 43.00,143.28 43.50,143.76 44.00,143.79 44.50,143.27 45.00,142.59 45.50,144.78 46.00,144.28 46.50,144.11 47.00,144.34 47.50,144.09 48.00,144.03 48.50,144.55 49.00,144.79 49.50,144.77 50.00,144.54 50.50,145.29 51.00,145.92 51.50,145.57 52.00,146.01 52.50,145.17 53.00,146.31 53.50,146.56 54.00,146.22 54.50,146.18 55.00,147.46 55.50,147.05 56.00,147.91 56.50,147.66 57.00,148.39 57.50,148.12 58.00,147.75 58.50,148.57 59.00,148.56 59.50,149.17 60.00,148.72 60.50,148.87 61.00,149.60 61.50,149.87 62.00,149.78 62.50,149.68 63.00,149.15 63.50,149.07 64.00,148.89 64.50,148.41 65.00,148.01 65.50,147.81 66.00,148.70 66.50,147.14 67.00,146.66 67.50,146.23 68.00,146.03 68.50,145.81 69.00,144.76 69.50,143.97 70.00,144.75" fill="none" stroke="#000" stroke-width="2.0" stroke-linejoin="round" />
<rect x="443.90" y="116" width="1.2" height="47" fill="#151515"/>
<rect x="445.90" y="116" width="1.2" height="47" fill="#151515"/>
<rect x="447.40" y="116" width="1.2" height="47" fill="#151515"/>
<rect x="450.90" y="136" width="1.2" height="29" fill="#151515"/>
<rect x="453.40" y="116" width="1.2" height="49" fill="#151515"/>
<rect x="456.60" y="135" width="1.2" height="30" fill="#151515"/>
<line x1="466" y1="164.9" x2="495.6" y2="164.9" stroke="#3a0808" stroke-width="1.2"/>
<polyline points="31.00,145.73 31.50,144.84 32.00,144.72 32.50,144.97 33.00,144.49 33.50,144.37 34.00,143.89 34.50,144.65 35.00,143.72 35.50,144.29 36.00,143.41 36.50,144.34 37.00,143.35 37.50,144.02 38.00,142.90 38.50,143.27 39.00,143.84 39.50,142.89 40.00,143.15 40.50,142.81 41.00,141.92 41.50,143.12 42.00,143.27 42.50,142.69 43.00,143.51 43.50,143.01 44.00,143.01 44.50,143.53 45.00,143.32 45.50,144.71 46.00,143.12 46.50,144.31 47.00,144.60 47.50,143.47 48.00,143.76 48.50,144.97 49.00,144.69 49.50,145.25 50.00,145.78 50.50,145.28 51.00,145.15 51.50,144.58 52.00,146.09 52.50,145.79 53.00,146.56 53.50,146.73 54.00,146.20 54.50,147.84 55.00,147.75 55.50,147.85 56.00,147.12 56.50,147.69 57.00,147.83 57.50,148.10 58.00,147.97 58.50,148.82 59.00,148.83 59.50,149.01 60.00,148.71 60.50,149.68 61.00,149.26 61.50,147.98 62.00,149.09 62.50,149.14 63.00,149.39 63.50,148.54 64.00,148.33 64.50,147.89 65.00,148.30 65.50,147.52 66.00,147.20 66.50,146.77 67.00,147.05 67.50,146.15 68.00,145.22 68.50,146.00 69.00,144.98 69.50,145.14 70.00,144.79 70.50,148.20 71.00,151.11 71.50,149.26 72.00,148.64 72.50,146.95 73.00,148.27 73.50,146.95 74.00,147.38 74.50,145.52 75.00,143.49 75.50,146.50 76.00,144.69 76.50,144.34 77.00,143.86 77.50,144.14 78.00,143.64 78.50,140.46 79.00,143.24 79.50,140.58 80.00,140.06 80.50,143.52 81.00,142.80 81.50,141.34 82.00,139.37 82.50,142.87 83.00,143.88 83.50,141.87 84.00,138.87 84.50,138.61 85.00,136.74 85.50,138.39 86.00,138.50 86.50,138.14 87.00,134.14 87.50,135.19 88.00,135.04 88.50,132.28 89.00,132.22 89.50,135.83 90.00,131.40 90.50,132.22 91.00,129.15 91.50,129.58 92.00,125.59 92.50,128.45 93.00,130.40 93.50,131.75 94.00,129.44 94.50,127.91 95.00,126.11 95.50,124.44 96.00,125.04 96.50,126.35 97.00,123.09 97.50,126.43 98.00,122.01 98.50,119.97 99.00,121.30 99.50,119.16 100.00,119.09 100.50,123.90 101.00,120.27 101.50,120.49 102.00,121.86 102.50,121.39 103.00,117.45 103.50,122.39 104.00,121.22 104.50,121.29 105.00,123.16 105.50,119.96 106.00,122.27 106.50,124.43 107.00,126.67 107.50,125.18 108.00,126.39 108.50,129.47 109.00,131.11 109.50,130.35 110.00,132.12 110.50,129.11 111.00,129.99 111.50,132.03 112.00,131.34 112.50,131.38 113.00,136.63 113.50,133.06 114.00,131.87 114.50,135.57 115.00,139.04 115.50,135.68 116.00,138.71 116.50,135.54 117.00,135.92 117.50,135.98 118.00,137.68 118.50,142.29 119.00,135.96 119.50,142.35 120.00,136.78 120.50,138.74 121.00,141.34 121.50,141.14 122.00,140.62 122.50,136.62 123.00,141.30 123.50,138.50 124.00,146.65 124.50,140.60 125.00,141.55 125.50,138.68 126.00,140.22 126.50,138.50 126.60,115.80 126.75,138.50 127.00,143.57 127.50,140.90 128.00,142.78 128.10,128.87 128.25,142.78 128.50,140.11 128.60,124.16 128.75,140.11 129.00,140.58 129.50,144.58 130.00,139.68 130.50,137.92 131.00,142.85 131.50,139.51 132.00,141.12 132.50,144.16 132.60,128.73 132.75,144.16 133.00,140.43 133.10,115.80 133.25,140.43 133.50,144.23 133.60,120.17 133.75,144.23 134.00,140.86 134.50,145.71 135.00,145.42 135.50,141.46 136.00,142.03 136.50,140.67 137.00,142.94 137.50,145.03 138.00,139.32 138.50,144.52 139.00,139.59 139.50,140.61 140.00,138.57 140.10,115.80 140.25,138.57 140.50,147.17 141.00,142.63 141.50,143.05 142.00,140.96 142.50,144.95 143.00,137.62 143.50,142.56 144.00,147.71 144.50,141.59 145.00,142.54 145.50,144.13 146.00,140.52 146.10,131.22 146.25,140.52 146.50,142.56 146.60,121.32 146.75,142.56 147.00,144.88 147.50,142.99 148.00,143.43 148.10,132.33 148.25,143.43 148.50,141.61 149.00,143.31 149.50,142.64 149.60,120.59 149.75,142.64 150.00,146.28 150.10,120.76 150.25,146.28 150.50,144.34 150.60,120.88 150.75,144.34 151.00,141.77 151.10,116.94 151.25,141.77 151.50,136.00 151.60,115.80 151.75,136.00 152.00,144.17 152.10,128.11 152.25,144.17 152.50,144.23 153.00,139.83 153.50,136.98 154.00,139.16 154.50,144.49 154.60,136.33 154.75,144.49 155.00,139.26 155.50,140.79 156.00,142.51 156.50,145.07 156.60,120.36 156.75,145.07 157.00,141.80 157.10,117.38 157.25,141.80 157.50,141.54 157.60,121.03 157.75,141.54 158.00,140.32 158.50,145.94 158.60,124.08 158.75,145.94 159.00,144.43 159.10,135.37 159.25,144.43 159.50,141.36 159.60,120.78 159.75,141.36 160.00,137.93 160.10,115.80 160.25,137.93 160.50,139.46 160.60,126.64 160.75,139.46 161.00,142.98 161.10,128.30 161.25,142.98 161.50,139.55 161.60,131.16 161.75,139.55 162.00,143.69 162.10,130.99 162.25,143.69 162.50,142.27 163.00,142.04 163.10,121.04 163.25,142.04 163.50,142.93 163.60,128.80 163.75,142.93 164.00,142.48 164.10,130.37 164.25,142.48 164.50,138.92 165.00,140.25 165.10,126.60 165.25,140.25 165.50,147.13 165.60,123.35 165.75,147.13 166.00,137.86 166.50,139.54 167.00,143.33 167.50,139.92 167.60,118.76 167.75,139.92 168.00,138.00 168.10,118.03 168.25,138.00 168.50,136.45 168.60,116.54 168.75,136.45 169.00,141.06 169.10,126.70 169.25,141.06 169.50,142.10 170.00,142.86 170.50,139.14 170.60,128.10 170.75,139.14 171.00,141.49 171.10,121.41 171.25,141.49 171.50,135.87 172.00,138.77 172.10,124.56 172.25,138.77 172.50,136.35 172.60,115.80 172.75,136.35 173.00,138.34 173.10,129.11 173.25,138.34 173.50,139.62 174.00,140.23 174.50,134.65 175.00,140.30 175.10,124.95 175.25,140.30 175.50,135.67 175.60,115.80 175.75,135.67 176.00,134.13 176.50,136.26 176.60,120.10 176.75,136.26 177.00,132.80 177.50,136.51 177.60,116.51 177.75,136.51 178.00,137.15 178.50,135.78 179.00,137.59 179.50,135.28 180.00,136.01 180.10,125.14 180.25,136.01 180.50,132.15 180.60,115.80 180.75,132.15 181.00,135.91 181.50,133.49 182.00,134.43 182.50,135.26 182.60,121.24 182.75,135.26 183.00,135.90 183.10,118.11 183.25,135.90 183.50,131.02 184.00,131.14 184.50,134.31 184.60,123.45 184.75,134.31 185.00,136.23 185.50,135.99 186.00,137.42 186.50,138.53 186.60,123.51 186.75,138.53 187.00,136.49 187.50,135.20 188.00,132.62 188.10,117.06 188.25,132.62 188.50,132.89 188.60,124.83 188.75,132.89 189.00,134.19 189.10,115.80 189.25,134.19 189.50,136.15 190.00,136.07 190.10,120.70 190.25,136.07 190.50,135.56 190.60,115.80 190.75,135.56 191.00,135.20 191.10,125.94 191.25,135.20 191.50,137.29 192.00,136.24 192.50,136.52 192.60,115.80 192.75,136.52 193.00,136.60 193.10,123.06 193.25,136.60 193.50,134.43 194.00,133.22 194.50,137.23 194.60,116.26 194.75,137.23 195.00,137.08 195.50,135.63 195.60,115.80 195.75,135.63 196.00,135.32 196.50,142.52 196.60,125.70 196.75,142.52 197.00,134.83 197.50,136.43 198.00,137.89 198.10,116.61 198.25,137.89 198.50,134.40 198.60,125.63 198.75,134.40 199.00,137.90 199.10,118.73 199.25,137.90 199.50,142.47 199.60,119.43 199.75,142.47 200.00,140.43 200.50,139.84 200.60,125.02 200.75,139.84 201.00,139.94 201.10,122.10 201.25,139.94 201.50,138.89 202.00,141.29 202.50,138.59 202.60,118.66 202.75,138.59 203.00,138.10 203.10,120.11 203.25,138.10 203.50,139.67 203.60,121.51 203.75,139.67 204.00,141.95 204.10,122.34 204.25,141.95 204.50,140.66 205.00,141.75 205.50,135.09 206.00,143.82 206.10,122.29 206.25,143.82 206.50,147.16 207.00,144.90 207.50,140.96 207.60,131.43 207.75,140.96 208.00,139.94 208.50,143.22 209.00,140.29 209.50,145.10 209.60,121.18 209.75,145.10 210.00,142.21 210.50,146.45 210.60,122.24 210.75,146.45 211.00,147.88 211.50,139.24 211.60,128.83 211.75,139.24 212.00,145.78 212.10,128.19 212.25,145.78 212.50,143.36 213.00,141.67 213.50,144.06 214.00,145.40 214.50,149.12 214.60,135.02 214.75,149.12 215.00,142.24 215.50,149.71 216.00,152.73 216.50,148.96 216.60,140.32 216.75,148.96 217.00,149.07 217.50,147.71 218.00,144.57 218.50,149.82 218.60,139.41 218.75,149.82 219.00,149.64 219.50,150.93 220.00,156.71 220.50,151.30 220.60,142.51 220.75,151.30 221.00,150.49 221.50,154.08 222.00,145.26 222.50,145.96 223.00,148.43 223.50,147.64 224.00,151.99 224.50,148.89 225.00,155.57 225.50,155.00 226.00,152.70 226.50,149.04 227.00,152.42 227.50,153.18 228.00,147.06 228.50,151.86 229.00,153.17 229.50,151.63 230.00,156.34 230.50,155.14 231.00,148.21 231.50,151.45 232.00,148.19 232.50,153.02 233.00,148.09 233.10,136.93 233.25,148.09 233.50,154.21 234.00,152.39 234.50,154.39 234.60,145.28 234.75,154.39 235.00,150.59 235.50,146.11 236.00,157.15 236.50,150.52 237.00,155.84 237.50,152.60 238.00,153.45 238.50,157.43 239.00,152.32 239.10,146.61 239.25,152.32 239.50,155.97 240.00,146.06 240.50,154.17 241.00,150.35 241.50,150.73 242.00,151.23 242.50,152.40 243.00,156.94 243.50,144.82 244.00,151.39 244.50,148.76 245.00,155.28 245.50,149.79 245.60,139.39 245.75,149.79 246.00,152.85 246.50,149.90 247.00,153.60 247.50,154.81 248.00,149.92 248.50,151.48 249.00,146.38 249.10,137.95 249.25,146.38 249.50,152.39 250.00,154.31 250.50,149.41 251.00,155.25 251.50,144.13 251.60,133.22 251.75,144.13 252.00,144.91 252.50,146.53 252.60,140.93 252.75,146.53 253.00,149.69 253.50,151.46 253.60,145.48 253.75,151.46 254.00,151.12 254.50,151.17 255.00,153.95 255.50,149.77 256.00,147.01 256.10,142.40 256.25,147.01 256.50,147.08 257.00,158.86 257.50,143.20 258.00,150.85 258.50,156.60 259.00,153.18 259.50,148.57 260.00,151.51 260.50,154.54 261.00,155.76 261.50,148.33 262.00,154.18 262.50,152.39 263.00,155.40 263.50,156.41 264.00,150.29 264.10,139.78 264.25,150.29 264.50,146.37 264.60,139.52 264.75,146.37 265.00,152.90 265.50,157.79 266.00,153.93 266.10,144.89 266.25,153.93 266.50,152.32 267.00,160.02 267.10,154.03 267.25,160.02 267.50,147.81 268.00,154.71 268.10,144.07 268.25,154.71 268.50,149.47 268.60,144.32 268.75,149.47 269.00,151.68 269.50,151.82 269.60,140.49 269.75,151.82 270.00,156.89 270.50,148.17 271.00,149.59 271.50,145.82 272.00,153.24 272.50,149.86 273.00,153.01 273.50,147.66 273.60,144.62 273.75,147.66 274.00,150.21 274.50,155.22 275.00,150.88 275.50,153.74 276.00,153.39 276.10,146.12 276.25,153.39 276.50,150.23 277.00,145.90 277.10,142.73 277.25,145.90 277.50,155.04 278.00,152.11 278.50,155.03 279.00,144.26 279.50,145.55 280.00,143.79 280.50,148.39 281.00,155.41 281.50,153.75 282.00,151.62 282.50,152.30 283.00,154.69 283.50,150.81 284.00,153.48 284.50,152.59 285.00,143.87 285.50,150.73 286.00,157.43 286.50,150.80 287.00,151.82 287.50,150.09 288.00,150.62 288.50,156.94 288.60,151.95 288.75,156.94 289.00,151.58 289.50,148.67 290.00,140.46 290.35,150.52 290.70,145.02 291.05,145.61 291.40,156.10 291.50,147.38 291.65,156.10 291.75,155.81 291.85,145.63 292.00,155.81 292.10,145.30 292.45,156.49 292.55,144.50 292.70,156.49 292.80,154.96 293.15,149.96 293.50,156.18 293.60,144.35 293.75,156.18 293.85,146.59 293.95,137.40 294.10,146.59 294.20,148.34 294.55,147.40 294.90,148.78 295.00,145.45 295.15,148.78 295.25,157.04 295.35,147.25 295.50,157.04 295.60,147.92 295.95,148.71 296.30,149.57 296.65,154.40 297.00,152.20 297.35,157.30 297.70,150.71 298.05,148.30 298.40,151.66 298.75,153.99 299.10,149.90 299.45,155.10 299.80,161.75 300.15,151.48 300.50,154.18 300.85,159.82 301.20,151.23 301.55,150.39 301.65,144.52 301.80,150.39 301.90,149.34 302.00,137.45 302.15,149.34 302.25,155.77 302.60,156.28 302.95,153.45 303.30,154.28 303.65,159.59 304.00,157.85 304.35,148.11 304.70,154.11 305.05,154.61 305.15,150.83 305.30,154.61 305.40,157.27 305.75,153.23 306.10,151.43 306.45,152.25 306.80,146.58 307.15,154.13 307.25,142.78 307.40,154.13 307.50,151.69 307.85,156.28 308.20,149.87 308.55,152.42 308.90,150.11 309.25,149.74 309.60,157.35 309.95,152.36 310.05,142.80 310.20,152.36 310.30,156.28 310.65,149.57 311.00,154.81 311.35,147.15 311.70,152.37 312.05,152.28 312.40,156.96 312.75,155.24 313.10,153.73 313.45,158.10 313.80,155.33 314.15,156.84 314.50,157.84 314.85,154.27 315.20,153.31 315.55,156.00 315.65,148.30 315.80,156.00 315.90,152.82 316.25,156.29 316.60,159.40 316.70,152.65 316.85,159.40 316.95,158.33 317.30,153.03 317.65,149.17 318.00,154.47 318.35,154.18 318.70,159.49 319.05,153.11 319.40,153.87 319.75,157.95 320.10,152.78 320.45,154.23 320.80,162.36 321.15,161.48 321.50,157.88 321.85,156.41 322.20,151.19 322.55,157.83 322.90,155.77 323.25,156.56 323.60,153.47 323.95,155.73 324.30,155.08 324.65,157.31 325.00,162.18 325.35,157.69 325.70,149.11 326.05,152.14 326.40,149.60 326.75,153.08 327.10,158.97 327.45,158.38 327.80,154.17 328.15,157.98 328.50,153.67 328.85,150.91 329.20,151.06 329.55,153.49 329.90,163.36 330.25,151.59 330.60,162.74 330.95,163.17 331.30,156.75 331.65,157.39 332.00,155.03 332.35,157.62 332.70,160.62 333.05,157.90 333.15,154.88 333.30,157.90 333.40,162.20 333.50,155.28 333.65,162.20 333.75,163.08 334.10,159.53 334.45,159.52 334.80,157.92 335.15,159.73 335.50,153.53 335.85,160.12 336.20,159.32 336.55,154.81 336.90,165.70 337.00,160.60 337.15,165.70 337.25,154.47 337.60,154.97 337.95,159.96 338.30,150.31 338.65,155.05 339.00,151.73 339.35,153.95 339.70,157.35 340.05,159.12 340.40,162.31 340.75,160.86 341.10,162.31 341.45,159.57 341.80,154.86 342.15,161.48 342.50,154.42 342.85,153.71 343.20,162.73 343.30,154.84 343.45,162.73 343.55,159.38 343.90,156.76 344.00,151.28 344.15,156.76 344.25,158.87 344.60,159.24 344.95,149.44 345.05,141.24 345.20,149.44 345.30,154.84 345.65,150.16 346.00,155.72 346.35,152.29 346.70,160.98 347.05,157.35 347.40,151.62 347.75,155.00 348.10,149.85 348.45,155.21 348.80,157.36 348.90,149.62 349.05,157.36 349.15,156.12 349.50,146.67 349.85,153.50 350.20,157.10 350.30,150.21 350.45,157.10 350.55,156.20 350.90,159.85 351.25,149.32 351.60,157.07 351.95,152.00 352.30,155.61 352.65,156.49 352.75,146.04 352.90,156.49 353.00,157.67 353.10,151.62 353.25,157.67 353.35,152.22 353.70,155.47 354.05,149.63 354.40,148.57 354.75,156.99 355.10,154.35 355.45,147.60 355.80,150.88 356.15,154.59 356.50,161.17 356.85,158.95 357.20,157.87 357.55,146.74 357.90,153.97 358.25,156.42 358.60,156.04 358.95,156.11 359.30,153.29 359.65,161.83 359.75,155.82 359.90,161.83 360.00,160.60 360.35,153.86 360.70,150.06 361.05,163.10 361.15,154.00 361.30,163.10 361.40,151.91 361.50,141.77 361.65,151.91 361.75,159.44 362.10,162.51 362.45,150.25 362.80,155.57 363.15,152.83 363.50,156.55 363.85,155.72 364.20,162.72 364.55,156.90 364.90,154.33 365.25,159.22 365.60,153.22 365.95,152.83 366.30,164.03 366.65,150.88 367.00,152.32 367.10,141.23 367.25,152.32 367.35,154.62 367.70,149.90 368.05,145.38 368.40,159.00 368.75,151.09 369.10,152.15 369.45,152.88 369.55,143.90 369.70,152.88 369.80,150.27 369.90,141.26 370.05,150.27 370.15,149.88 370.25,143.25 370.40,149.88 370.50,155.20 370.85,164.83 371.20,157.69 371.55,157.75 371.90,148.07 372.25,154.45 372.60,149.47 372.95,157.89 373.30,153.60 373.65,154.75 374.00,154.22 374.35,152.10 374.70,148.07 375.05,157.12 375.40,148.68 375.75,149.56 376.10,153.37 376.45,151.62 376.55,141.87 376.70,151.62 376.80,155.79 376.90,147.63 377.05,155.79 377.15,159.02 377.50,155.75 377.85,155.54 378.20,154.80 378.55,158.40 378.90,146.78 379.25,156.31 379.60,150.73 379.95,149.44 380.30,154.83 380.65,153.21 381.00,157.45 381.35,159.75 381.70,145.09 381.80,135.56 381.95,145.09 382.05,154.85 382.40,163.65 382.75,159.03 382.85,154.87 383.00,159.03 383.10,161.59 383.45,155.87 383.80,149.33 383.90,146.06 384.05,149.33 384.15,150.74 384.50,158.71 384.85,159.84 384.95,155.96 385.10,159.84 385.20,152.64 385.55,154.70 385.65,150.37 385.80,154.70 385.90,157.05 386.00,150.72 386.15,157.05 386.25,148.47 386.60,154.56 386.95,163.09 387.30,165.60 387.65,155.81 388.00,164.22 388.10,159.55 388.25,164.22 388.35,154.16 388.70,153.00 389.05,146.93 389.40,160.74 389.75,155.09 390.10,165.70 390.45,158.26 390.80,157.72 391.15,149.21 391.50,163.50 391.85,155.56 392.20,156.50 392.55,147.77 392.90,161.31 393.25,161.65 393.60,154.87 393.95,157.94 394.30,159.30 394.65,161.82 395.00,158.20 395.35,165.07 395.70,156.69 396.05,155.15 396.40,155.73 396.75,147.23 397.10,154.34 397.45,161.65 397.80,158.63 398.15,154.32 398.50,158.90 398.85,149.70 399.20,156.40 399.55,159.46 399.90,160.06 400.25,154.55 400.60,160.75 400.95,164.17 401.30,155.82 401.65,159.97 402.00,151.83 402.35,150.64 402.70,159.73 403.05,157.92 403.40,158.60 403.75,156.15 404.10,157.28 404.45,161.03 404.80,164.06 405.15,158.03 405.50,153.71 405.85,162.96 406.20,161.01 406.55,161.39 406.65,153.51 406.80,161.39 406.90,160.03 407.25,165.70 407.60,160.02 407.95,161.42 408.30,154.90 408.65,158.66 409.00,158.55 409.35,160.50 409.70,161.66 410.05,158.92 410.15,153.03 410.30,158.92 410.40,165.43 410.75,158.35 411.10,160.02 411.45,161.82 411.80,158.30 412.15,162.77 412.50,162.99 412.60,154.70 412.75,162.99 412.85,160.92 413.20,165.70 413.55,161.96 413.90,162.48 414.25,159.89 414.60,158.52 414.95,160.83 415.30,161.57 415.65,161.41 416.00,163.90 416.35,157.93 416.70,160.46 417.05,159.32 417.40,165.16 417.75,161.86 418.10,162.06 418.45,161.18 418.80,164.59 419.15,162.55 419.50,163.64 419.85,160.30 420.20,165.19 420.30,155.57 420.45,165.19 420.55,164.04 420.90,164.29 421.25,165.32 421.60,163.22 421.95,163.28 422.30,164.59 422.65,164.18 423.00,163.22 423.35,163.66 423.70,162.89 424.05,164.66 424.40,164.98 424.75,163.67 425.10,165.70 425.45,161.53 425.80,163.39 425.90,153.93 426.05,163.39 426.15,165.70 426.25,159.30 426.40,165.70 426.50,163.17 426.85,161.55 427.20,165.70 427.55,164.56 427.90,162.19 428.00,158.20 428.15,162.19 428.25,164.90 428.60,162.47 428.95,162.07 429.05,157.31 429.20,162.07 429.30,163.70 429.65,163.27 430.00,162.47 430.35,163.47 430.70,162.64 431.05,164.07 431.40,163.98 431.75,165.00 432.10,163.45 432.45,162.34 432.80,162.38 433.15,163.78 433.50,165.70 433.85,165.21 434.20,163.34 434.55,165.36 434.90,162.73 435.25,165.47 435.35,160.31 435.50,165.47 435.60,163.75 435.95,165.19 436.30,165.02 436.65,163.94 437.00,164.69 437.35,163.02 437.70,164.24 438.05,165.65 438.40,165.70 438.75,165.22 439.10,164.50 439.45,163.22 439.55,151.43 439.70,163.22 439.80,165.68 440.15,162.52 440.50,163.53 440.85,164.88 441.20,163.09 441.55,165.70 441.90,165.70 442.25,163.86 442.60,163.89 442.95,163.04 443.30,162.97 443.65,165.03 445.00,163.00 445.80,136.00 446.60,163.00 448.50,163.00 449.00,129.70 449.60,163.00 451.00,160.00 453.00,155.00 455.00,149.00 456.50,146.00 458.00,150.00 459.50,160.00 461.00,164.00 463.50,164.50 465.10,116.20 466.30,164.60" fill="none" stroke="#ff0000" stroke-width="1.1" stroke-linejoin="round" />
<line x1="465.0" y1="116.3" x2="465.0" y2="165" stroke="#ff0000" stroke-width="1.5"/>
<line x1="31" y1="165.70" x2="34.5" y2="165.70" stroke="#8a8a8a" stroke-width="0.8"/>
<line x1="31" y1="140.75" x2="34.5" y2="140.75" stroke="#8a8a8a" stroke-width="0.8"/>
<line x1="31" y1="115.80" x2="34.5" y2="115.80" stroke="#8a8a8a" stroke-width="0.8"/>
<text x="0" y="0" font-size="9.3" fill="#000" text-anchor="end" stroke="#000" stroke-width="0.22" transform="translate(28.6 169.6) scale(1 1.0)">0</text>
<text x="0" y="0" font-size="9.3" fill="#000" text-anchor="end" stroke="#000" stroke-width="0.22" transform="translate(28.6 144.65) scale(1 1.0)">20</text>
<text x="0" y="0" font-size="9.3" fill="#000" text-anchor="end" stroke="#000" stroke-width="0.22" transform="translate(28.6 119.7) scale(1 1.0)">40</text>
<text x="0" y="0" font-size="9.6" fill="#000" text-anchor="middle" stroke="#000" stroke-width="0.22" transform="translate(10.2 141.2) scale(1 1.09) rotate(-90)">T<tspan font-size="7.2" dy="4.2">div</tspan><tspan dy="-4.2"> [eV]</tspan></text>
<line x1="40.31" y1="175.4" x2="40.31" y2="215.3" stroke="#f6f6f6" stroke-width="0.7"/>
<line x1="49.62" y1="175.4" x2="49.62" y2="215.3" stroke="#f6f6f6" stroke-width="0.7"/>
<line x1="58.94" y1="175.4" x2="58.94" y2="215.3" stroke="#f6f6f6" stroke-width="0.7"/>
<line x1="68.25" y1="175.4" x2="68.25" y2="215.3" stroke="#f6f6f6" stroke-width="0.7"/>
<line x1="77.56" y1="175.4" x2="77.56" y2="215.3" stroke="#ededed" stroke-width="0.7"/>
<line x1="86.87" y1="175.4" x2="86.87" y2="215.3" stroke="#f6f6f6" stroke-width="0.7"/>
<line x1="96.18" y1="175.4" x2="96.18" y2="215.3" stroke="#f6f6f6" stroke-width="0.7"/>
<line x1="105.50" y1="175.4" x2="105.50" y2="215.3" stroke="#f6f6f6" stroke-width="0.7"/>
<line x1="114.81" y1="175.4" x2="114.81" y2="215.3" stroke="#f6f6f6" stroke-width="0.7"/>
<line x1="124.12" y1="175.4" x2="124.12" y2="215.3" stroke="#ededed" stroke-width="0.7"/>
<line x1="133.43" y1="175.4" x2="133.43" y2="215.3" stroke="#f6f6f6" stroke-width="0.7"/>
<line x1="142.74" y1="175.4" x2="142.74" y2="215.3" stroke="#f6f6f6" stroke-width="0.7"/>
<line x1="152.06" y1="175.4" x2="152.06" y2="215.3" stroke="#f6f6f6" stroke-width="0.7"/>
<line x1="161.37" y1="175.4" x2="161.37" y2="215.3" stroke="#f6f6f6" stroke-width="0.7"/>
<line x1="170.68" y1="175.4" x2="170.68" y2="215.3" stroke="#ededed" stroke-width="0.7"/>
<line x1="179.99" y1="175.4" x2="179.99" y2="215.3" stroke="#f6f6f6" stroke-width="0.7"/>
<line x1="189.30" y1="175.4" x2="189.30" y2="215.3" stroke="#f6f6f6" stroke-width="0.7"/>
<line x1="198.62" y1="175.4" x2="198.62" y2="215.3" stroke="#f6f6f6" stroke-width="0.7"/>
<line x1="207.93" y1="175.4" x2="207.93" y2="215.3" stroke="#f6f6f6" stroke-width="0.7"/>
<line x1="217.24" y1="175.4" x2="217.24" y2="215.3" stroke="#ededed" stroke-width="0.7"/>
<line x1="226.55" y1="175.4" x2="226.55" y2="215.3" stroke="#f6f6f6" stroke-width="0.7"/>
<line x1="235.86" y1="175.4" x2="235.86" y2="215.3" stroke="#f6f6f6" stroke-width="0.7"/>
<line x1="245.18" y1="175.4" x2="245.18" y2="215.3" stroke="#f6f6f6" stroke-width="0.7"/>
<line x1="254.49" y1="175.4" x2="254.49" y2="215.3" stroke="#f6f6f6" stroke-width="0.7"/>
<line x1="263.80" y1="175.4" x2="263.80" y2="215.3" stroke="#ededed" stroke-width="0.7"/>
<line x1="273.11" y1="175.4" x2="273.11" y2="215.3" stroke="#f6f6f6" stroke-width="0.7"/>
<line x1="282.42" y1="175.4" x2="282.42" y2="215.3" stroke="#f6f6f6" stroke-width="0.7"/>
<line x1="291.74" y1="175.4" x2="291.74" y2="215.3" stroke="#f6f6f6" stroke-width="0.7"/>
<line x1="301.05" y1="175.4" x2="301.05" y2="215.3" stroke="#f6f6f6" stroke-width="0.7"/>
<line x1="310.36" y1="175.4" x2="310.36" y2="215.3" stroke="#ededed" stroke-width="0.7"/>
<line x1="319.67" y1="175.4" x2="319.67" y2="215.3" stroke="#f6f6f6" stroke-width="0.7"/>
<line x1="328.98" y1="175.4" x2="328.98" y2="215.3" stroke="#f6f6f6" stroke-width="0.7"/>
<line x1="338.30" y1="175.4" x2="338.30" y2="215.3" stroke="#f6f6f6" stroke-width="0.7"/>
<line x1="347.61" y1="175.4" x2="347.61" y2="215.3" stroke="#f6f6f6" stroke-width="0.7"/>
<line x1="356.92" y1="175.4" x2="356.92" y2="215.3" stroke="#ededed" stroke-width="0.7"/>
<line x1="366.23" y1="175.4" x2="366.23" y2="215.3" stroke="#f6f6f6" stroke-width="0.7"/>
<line x1="375.54" y1="175.4" x2="375.54" y2="215.3" stroke="#f6f6f6" stroke-width="0.7"/>
<line x1="384.86" y1="175.4" x2="384.86" y2="215.3" stroke="#f6f6f6" stroke-width="0.7"/>
<line x1="394.17" y1="175.4" x2="394.17" y2="215.3" stroke="#f6f6f6" stroke-width="0.7"/>
<line x1="403.48" y1="175.4" x2="403.48" y2="215.3" stroke="#ededed" stroke-width="0.7"/>
<line x1="412.79" y1="175.4" x2="412.79" y2="215.3" stroke="#f6f6f6" stroke-width="0.7"/>
<line x1="422.10" y1="175.4" x2="422.10" y2="215.3" stroke="#f6f6f6" stroke-width="0.7"/>
<line x1="431.42" y1="175.4" x2="431.42" y2="215.3" stroke="#f6f6f6" stroke-width="0.7"/>
<line x1="440.73" y1="175.4" x2="440.73" y2="215.3" stroke="#f6f6f6" stroke-width="0.7"/>
<line x1="450.04" y1="175.4" x2="450.04" y2="215.3" stroke="#ededed" stroke-width="0.7"/>
<line x1="459.35" y1="175.4" x2="459.35" y2="215.3" stroke="#f6f6f6" stroke-width="0.7"/>
<line x1="468.66" y1="175.4" x2="468.66" y2="215.3" stroke="#f6f6f6" stroke-width="0.7"/>
<line x1="477.98" y1="175.4" x2="477.98" y2="215.3" stroke="#f6f6f6" stroke-width="0.7"/>
<line x1="487.29" y1="175.4" x2="487.29" y2="215.3" stroke="#f6f6f6" stroke-width="0.7"/>
<line x1="496.60" y1="175.4" x2="496.60" y2="215.3" stroke="#ededed" stroke-width="0.7"/>
<line x1="31" y1="215.30" x2="496.6" y2="215.30" stroke="#f6f6f6" stroke-width="0.7"/>
<line x1="31" y1="211.31" x2="496.6" y2="211.31" stroke="#f6f6f6" stroke-width="0.7"/>
<line x1="31" y1="207.32" x2="496.6" y2="207.32" stroke="#f6f6f6" stroke-width="0.7"/>
<line x1="31" y1="203.33" x2="496.6" y2="203.33" stroke="#f6f6f6" stroke-width="0.7"/>
<line x1="31" y1="199.34" x2="496.6" y2="199.34" stroke="#f6f6f6" stroke-width="0.7"/>
<line x1="31" y1="195.35" x2="496.6" y2="195.35" stroke="#f6f6f6" stroke-width="0.7"/>
<line x1="31" y1="191.36" x2="496.6" y2="191.36" stroke="#f6f6f6" stroke-width="0.7"/>
<line x1="31" y1="187.37" x2="496.6" y2="187.37" stroke="#f6f6f6" stroke-width="0.7"/>
<line x1="31" y1="183.38" x2="496.6" y2="183.38" stroke="#f6f6f6" stroke-width="0.7"/>
<line x1="31" y1="179.39" x2="496.6" y2="179.39" stroke="#f6f6f6" stroke-width="0.7"/>
<line x1="31" y1="175.40" x2="496.6" y2="175.40" stroke="#f6f6f6" stroke-width="0.7"/>
<line x1="31" y1="215.30" x2="496.6" y2="215.30" stroke="#ededed" stroke-width="0.7"/>
<line x1="31" y1="195.35" x2="496.6" y2="195.35" stroke="#ededed" stroke-width="0.7"/>
<line x1="31" y1="175.40" x2="496.6" y2="175.40" stroke="#ededed" stroke-width="0.7"/>
<line x1="31" y1="215.3" x2="496.6" y2="215.3" stroke="#c8c8c8" stroke-width="1.3"/>
<line x1="31" y1="175.4" x2="31" y2="215.3" stroke="#b4b4b4" stroke-width="0.9"/>
<line x1="496.6" y1="175.4" x2="496.6" y2="215.3" stroke="#b0b0b0" stroke-width="0.9"/>
<line x1="77.56" y1="215.3" x2="77.56" y2="211.8" stroke="#8a8a8a" stroke-width="0.8"/>
<line x1="124.12" y1="215.3" x2="124.12" y2="211.8" stroke="#8a8a8a" stroke-width="0.8"/>
<line x1="170.68" y1="215.3" x2="170.68" y2="211.8" stroke="#8a8a8a" stroke-width="0.8"/>
<line x1="217.24" y1="215.3" x2="217.24" y2="211.8" stroke="#8a8a8a" stroke-width="0.8"/>
<line x1="263.80" y1="215.3" x2="263.80" y2="211.8" stroke="#8a8a8a" stroke-width="0.8"/>
<line x1="310.36" y1="215.3" x2="310.36" y2="211.8" stroke="#8a8a8a" stroke-width="0.8"/>
<line x1="356.92" y1="215.3" x2="356.92" y2="211.8" stroke="#8a8a8a" stroke-width="0.8"/>
<line x1="403.48" y1="215.3" x2="403.48" y2="211.8" stroke="#8a8a8a" stroke-width="0.8"/>
<line x1="450.04" y1="215.3" x2="450.04" y2="211.8" stroke="#8a8a8a" stroke-width="0.8"/>
<line x1="496.60" y1="215.3" x2="496.60" y2="211.8" stroke="#8a8a8a" stroke-width="0.8"/>
<line x1="31" y1="215.1" x2="496" y2="215.1" stroke="#e07070" stroke-width="1"/>
<polyline points="31.00,215.20 198.60,215.20" fill="none" stroke="#c86ec8" stroke-width="1.0" stroke-linejoin="round" />
<polyline points="220.80,215.20 226.80,215.20" fill="none" stroke="#c86ec8" stroke-width="1.0" stroke-linejoin="round" />
<polyline points="353.50,215.20 357.50,215.20" fill="none" stroke="#c86ec8" stroke-width="1.0" stroke-linejoin="round" />
<polyline points="394.00,215.20 397.00,215.20" fill="none" stroke="#c86ec8" stroke-width="1.0" stroke-linejoin="round" />
<polyline points="433.20,215.20 445.60,215.20" fill="none" stroke="#c86ec8" stroke-width="1.0" stroke-linejoin="round" />
<polyline points="464.50,215.20 496.00,215.20" fill="none" stroke="#c86ec8" stroke-width="1.0" stroke-linejoin="round" />
<polyline points="198.60,215.20 198.80,202.00 199.00,200.91 199.50,203.54 200.00,203.60 200.50,205.12 201.00,206.00 201.50,204.52 202.00,203.53 202.50,202.93 203.00,203.64 203.50,204.93 204.00,202.39 204.50,205.39 205.00,205.48 205.50,206.31 206.00,205.01 206.50,205.55 207.00,204.43 207.50,204.76 208.00,203.03 208.50,205.47 209.00,207.29 209.50,205.46 210.00,205.70 210.50,203.92 211.00,207.03 211.50,204.14 212.00,206.15 212.50,205.22 213.00,203.81 213.50,206.36 214.00,205.02 214.50,206.23 215.00,207.59 215.50,207.97 216.00,208.51 216.50,209.72 217.00,208.70 217.50,209.42 218.00,208.58 218.50,207.62 219.00,208.79 219.50,209.13 220.00,209.91 220.50,211.54 220.80,215.20" fill="none" stroke="#ff10ff" stroke-width="1.15" stroke-linejoin="round" />
<polyline points="226.80,215.20 227.00,205.00 227.50,203.30 228.00,205.74 228.50,202.76 229.00,204.34 229.50,205.11 230.00,202.91 230.50,203.49 231.00,206.18 231.50,206.15 232.00,205.96 232.50,205.14 233.00,209.05 233.50,206.11 234.00,205.26 234.50,208.63 235.00,207.32 235.50,206.11 236.00,208.21 236.50,206.93 237.00,207.63 237.50,207.17 238.00,205.59 238.50,208.26 239.00,207.27 239.50,205.82 240.00,206.21 240.50,208.44 241.00,206.71 241.50,207.25 242.00,208.04 242.50,207.35 243.00,205.20 243.50,208.01 244.00,208.40 244.50,208.30 245.00,209.28 245.50,207.65 246.00,208.18 246.50,209.23 247.00,206.79 247.50,209.42 248.00,209.42 248.50,208.18 249.00,209.55 249.50,208.26 250.00,206.01 250.50,208.63 251.00,207.57 251.50,207.68 252.00,207.34 252.50,208.90 253.00,207.85 253.50,206.23 254.00,207.76 254.50,208.08 255.00,206.18 255.50,206.56 256.00,206.62 256.50,206.33 257.00,207.57 257.50,208.44 258.00,209.57 258.50,208.66 259.00,208.43 259.50,208.59 260.00,208.84 260.50,206.61 261.00,208.00 261.50,207.51 262.00,206.92 262.50,206.50 263.00,206.43 263.50,206.73 264.00,205.47 264.50,207.76 265.00,207.05 265.50,207.21 266.00,207.51 266.50,208.01 267.00,206.30 267.50,206.92 268.00,204.97 268.50,204.17 269.00,204.53 269.50,209.05 270.00,204.68 270.50,207.66 271.00,208.97 271.50,206.45 272.00,209.16 272.50,209.44 273.00,208.26 273.50,210.12 274.00,207.84 274.50,206.08 275.00,207.71 275.50,206.45 276.00,205.33 276.50,205.36 277.00,210.03 277.50,206.32 278.00,206.99 278.50,206.15 279.00,207.19 279.50,206.70 280.00,206.48 280.50,205.42 281.00,205.14 281.50,205.99 282.00,207.32 282.50,209.62 283.00,208.27 283.50,209.26 284.00,207.50 284.50,206.74 285.00,205.11 285.50,206.82 286.00,204.01 286.50,206.39 287.00,208.88 287.50,207.17 288.00,208.19 288.50,206.21 289.00,204.90 289.50,206.05 290.00,206.14 290.50,208.20 291.00,209.18 291.50,205.63 292.00,206.11 292.50,206.37 293.00,206.09 293.50,204.91 294.00,206.63 294.50,206.96 295.00,206.97 295.50,204.88 296.00,206.28 296.50,204.15 297.00,207.58 297.50,205.05 298.00,206.00 298.50,205.76 299.00,205.56 299.50,204.93 300.00,203.99 300.50,208.52 301.00,206.58 301.50,206.58 302.00,208.94 302.50,206.06 303.00,206.89 303.50,206.18 304.00,207.68 304.50,206.77 305.00,206.51 305.50,205.75 306.00,206.43 306.50,207.56 307.00,203.33 307.50,205.84 308.00,205.45 308.50,205.58 309.00,203.39 309.50,206.89 310.00,204.82 310.50,205.60 311.00,205.22 311.50,203.69 312.00,205.26 312.50,203.43 313.00,204.58 313.50,205.38 314.00,205.76 314.50,205.82 315.00,205.55 315.50,208.49 316.00,206.26 316.50,204.09 317.00,204.86 317.50,204.78 318.00,205.39 318.50,204.81 319.00,204.47 319.50,207.71 320.00,205.60 320.50,205.07 321.00,205.14 321.50,205.14 322.00,207.20 322.50,205.97 323.00,206.77 323.50,201.22 324.00,205.66 324.50,206.57 325.00,207.72 325.50,205.15 326.00,202.84 326.50,205.80 327.00,204.22 327.50,202.63 328.00,204.12 328.50,206.25 329.00,206.41 329.50,205.74 330.00,203.40 330.50,208.00 331.00,203.17 331.50,204.55 332.00,202.73 332.50,206.28 333.00,205.11 333.50,205.65 334.00,204.57 334.50,204.33 335.00,204.60 335.50,201.88 336.00,205.59 336.50,205.45 337.00,203.71 337.50,204.17 338.00,204.54 338.50,206.15 339.00,204.63 339.50,204.09 340.00,203.33 340.50,202.00 341.00,203.14 341.50,203.97 342.00,203.51 342.50,203.90 343.00,204.73 343.50,204.29 344.00,204.04 344.50,204.50 345.00,203.85 345.50,203.53 346.00,204.14 346.50,201.24 347.00,205.08 347.50,201.74 348.00,204.46 348.50,203.35 349.00,204.74 349.50,203.30 350.00,201.99 350.50,204.58 351.00,203.38 351.50,203.26 352.00,203.17 353.50,215.20" fill="none" stroke="#ff10ff" stroke-width="1.15" stroke-linejoin="round" />
<polyline points="357.50,215.20 358.00,202.00 358.50,203.47 359.00,203.21 359.50,202.39 360.00,199.90 360.50,201.51 361.00,202.22 361.50,204.59 362.00,202.61 362.50,201.94 363.00,203.75 363.50,201.92 364.00,202.04 364.50,202.29 365.00,199.98 365.50,203.42 366.00,202.67 366.50,201.68 367.00,200.48 367.50,202.38 368.00,204.04 368.50,201.18 369.00,200.59 369.50,202.67 370.00,199.84 370.50,198.97 371.00,201.46 371.50,201.11 372.00,201.69 372.50,201.31 373.00,202.54 373.50,201.77 374.00,201.24 374.50,201.44 375.00,202.96 375.50,203.42 376.00,203.35 376.50,203.06 377.00,197.46 377.50,200.68 378.00,201.64 378.50,202.37 379.00,199.82 379.50,204.07 380.00,202.51 380.50,201.21 381.00,202.31 381.50,201.60 382.00,201.02 382.50,202.79 383.00,201.45 383.50,200.11 384.00,201.20 384.50,201.92 385.00,200.57 385.50,203.85 386.00,200.56 386.50,204.55 387.00,203.34 387.50,215.20 389.50,210.00 391.00,201.00 393.00,201.00 394.00,215.20" fill="none" stroke="#ff10ff" stroke-width="1.15" stroke-linejoin="round" />
<polyline points="397.00,215.20 398.00,196.50 398.50,195.86 399.00,197.40 399.50,198.93 400.00,197.29 400.50,196.15 401.00,198.00 401.50,200.59 402.00,196.22 402.50,199.04 403.00,198.48 403.50,198.47 404.00,198.27 404.50,198.52 405.00,200.44 405.50,199.99 406.00,198.04 406.50,201.49 407.00,197.90 407.50,200.58 408.00,200.08 408.50,201.52 409.00,200.55 409.50,201.59 410.00,200.31 410.50,201.73 411.00,201.04 411.50,203.51 412.00,199.94 412.50,202.52 413.00,201.70 413.50,201.45 414.00,200.61 414.50,202.05 415.00,199.68 415.50,199.74 416.00,202.37 416.50,199.35 417.00,203.16 417.50,200.86 418.00,201.47 418.50,201.17 419.00,201.54 419.50,200.56 420.00,200.37 420.50,200.61 421.00,202.06 421.50,202.10 422.00,202.20 422.50,200.95 423.00,200.14 423.50,198.14 424.00,201.08 424.50,201.27 425.00,199.57 425.50,201.35 426.00,202.17 426.50,200.82 427.00,202.27 427.50,201.50 428.00,199.04 428.50,200.88 429.00,201.17 429.50,202.59 430.00,200.98 431.00,206.00 432.50,205.00 433.20,215.20" fill="none" stroke="#ff10ff" stroke-width="1.15" stroke-linejoin="round" />
<polyline points="445.60,215.20 447.00,208.00 449.70,203.00 452.20,198.40 453.20,209.60 455.50,208.80 458.00,194.80 461.00,187.80 463.00,189.80 464.20,194.80 464.50,215.20" fill="none" stroke="#ff10ff" stroke-width="1.15" stroke-linejoin="round" />
<polyline points="31.00,212.30 36.00,211.50 40.00,210.70 44.00,210.00 48.00,209.30 52.00,208.80 55.00,208.50 58.00,208.40 60.00,208.80 62.00,209.60 64.00,210.70 66.00,212.00 68.00,213.20 70.00,214.00 72.00,214.40 75.00,214.60 85.00,214.70 94.80,214.80 95.20,204.00 133.20,185.50 136.00,185.40 466.00,185.40 468.00,200.00" fill="none" stroke="#2828ff" stroke-width="1.1" stroke-linejoin="round" />
<line x1="465.1" y1="175.6" x2="465.1" y2="215.2" stroke="#ff0000" stroke-width="1.4"/>
<rect x="479.2" y="175.8" width="2.4" height="2.8" fill="#ff0000"/>
<line x1="31" y1="215.30" x2="34.5" y2="215.30" stroke="#8a8a8a" stroke-width="0.8"/>
<line x1="31" y1="195.35" x2="34.5" y2="195.35" stroke="#8a8a8a" stroke-width="0.8"/>
<line x1="31" y1="175.40" x2="34.5" y2="175.40" stroke="#8a8a8a" stroke-width="0.8"/>
<line x1="496.6" y1="215.30" x2="493.1" y2="215.30" stroke="#8a8a8a" stroke-width="0.8"/>
<line x1="496.6" y1="175.40" x2="493.1" y2="175.40" stroke="#8a8a8a" stroke-width="0.8"/>
<text x="0" y="0" font-size="9.3" fill="#000" text-anchor="end" stroke="#000" stroke-width="0.22" transform="translate(28.6 219.20000000000002) scale(1 1.0)">0</text>
<text x="0" y="0" font-size="9.3" fill="#000" text-anchor="end" stroke="#000" stroke-width="0.22" transform="translate(28.6 199.25000000000003) scale(1 1.0)">1</text>
<text x="0" y="0" font-size="9.3" fill="#000" text-anchor="end" stroke="#000" stroke-width="0.22" transform="translate(28.6 179.3) scale(1 1.0)">2</text>
<text x="0" y="0" font-size="9.3" fill="#000" text-anchor="start" stroke="#000" stroke-width="0.22" transform="translate(499.6 219.20000000000002) scale(1 1.0)">0</text>
<text x="0" y="0" font-size="9.3" fill="#000" text-anchor="start" stroke="#000" stroke-width="0.22" transform="translate(499.6 179.3) scale(1 1.0)">0.5</text>
<rect x="468.5" y="180.20000000000002" width="24.900000000000034" height="40.400000000000006" fill="#cfcfcf"/>
<rect x="467.7" y="179.4" width="24.900000000000034" height="40.400000000000006" fill="#fff" stroke="#c4c4c4" stroke-width="0.9"/>
<line x1="468.9" y1="184.9" x2="479.7" y2="184.9" stroke="#2020ff" stroke-width="1"/>
<line x1="468.9" y1="195.1" x2="479.7" y2="195.1" stroke="#30f030" stroke-width="1"/>
<line x1="468.9" y1="205.0" x2="479.7" y2="205.0" stroke="#ff3030" stroke-width="1"/>
<line x1="468.9" y1="214.4" x2="479.7" y2="214.4" stroke="#ff30ff" stroke-width="1"/>
<text x="0" y="0" font-size="8.2" fill="#000" text-anchor="start" stroke="#000" stroke-width="0.22" transform="translate(481.3 188.0) scale(1 1.0)">D</text>
<text x="0" y="0" font-size="8.2" fill="#000" text-anchor="start" stroke="#000" stroke-width="0.22" transform="translate(481.3 198.2) scale(1 1.0)">N</text>
<text x="0" y="0" font-size="8.2" fill="#000" text-anchor="start" stroke="#000" stroke-width="0.22" transform="translate(481.3 208.3) scale(1 1.0)">Ne</text>
<text x="0" y="0" font-size="8.2" fill="#000" text-anchor="start" stroke="#000" stroke-width="0.22" transform="translate(481.3 218.1) scale(1 1.0)">Ar</text>
<text x="0" y="0" font-size="9.6" fill="#000" text-anchor="middle" stroke="#000" stroke-width="0.22" transform="translate(15.0 196.0) scale(1 1.09) rotate(-90)">&#915;<tspan font-size="7.4" dy="4.2">D</tspan><tspan dy="-4.2"> [10</tspan><tspan font-size="7.2" dy="-4.2">22</tspan><tspan dy="4.2"> s</tspan><tspan font-size="7.2" dy="-4.2">-1</tspan><tspan dy="4.2">]</tspan></text>
<text x="0" y="0" font-size="9.6" fill="#000" text-anchor="middle" stroke="#000" stroke-width="0.22" transform="translate(526.8 195.7) scale(1 1.09) rotate(-90)">&#915;<tspan font-size="7" dy="3">imp</tspan><tspan dy="-3"> [10</tspan><tspan font-size="7" dy="-4">22</tspan><tspan dy="4"> s</tspan><tspan font-size="7" dy="-4">-1</tspan><tspan dy="4">]</tspan></text>
<line x1="40.34" y1="232.4" x2="40.34" y2="277.9" stroke="#fdf6f6" stroke-width="0.7"/>
<line x1="49.67" y1="232.4" x2="49.67" y2="277.9" stroke="#fdf6f6" stroke-width="0.7"/>
<line x1="59.01" y1="232.4" x2="59.01" y2="277.9" stroke="#fdf6f6" stroke-width="0.7"/>
<line x1="68.34" y1="232.4" x2="68.34" y2="277.9" stroke="#fdf6f6" stroke-width="0.7"/>
<line x1="77.68" y1="232.4" x2="77.68" y2="277.9" stroke="#fae9e9" stroke-width="0.7"/>
<line x1="87.02" y1="232.4" x2="87.02" y2="277.9" stroke="#fdf6f6" stroke-width="0.7"/>
<line x1="96.35" y1="232.4" x2="96.35" y2="277.9" stroke="#fdf6f6" stroke-width="0.7"/>
<line x1="105.69" y1="232.4" x2="105.69" y2="277.9" stroke="#fdf6f6" stroke-width="0.7"/>
<line x1="115.02" y1="232.4" x2="115.02" y2="277.9" stroke="#fdf6f6" stroke-width="0.7"/>
<line x1="124.36" y1="232.4" x2="124.36" y2="277.9" stroke="#fae9e9" stroke-width="0.7"/>
<line x1="133.70" y1="232.4" x2="133.70" y2="277.9" stroke="#fdf6f6" stroke-width="0.7"/>
<line x1="143.03" y1="232.4" x2="143.03" y2="277.9" stroke="#fdf6f6" stroke-width="0.7"/>
<line x1="152.37" y1="232.4" x2="152.37" y2="277.9" stroke="#fdf6f6" stroke-width="0.7"/>
<line x1="161.70" y1="232.4" x2="161.70" y2="277.9" stroke="#fdf6f6" stroke-width="0.7"/>
<line x1="171.04" y1="232.4" x2="171.04" y2="277.9" stroke="#fae9e9" stroke-width="0.7"/>
<line x1="180.38" y1="232.4" x2="180.38" y2="277.9" stroke="#fdf6f6" stroke-width="0.7"/>
<line x1="189.71" y1="232.4" x2="189.71" y2="277.9" stroke="#fdf6f6" stroke-width="0.7"/>
<line x1="199.05" y1="232.4" x2="199.05" y2="277.9" stroke="#fdf6f6" stroke-width="0.7"/>
<line x1="208.38" y1="232.4" x2="208.38" y2="277.9" stroke="#fdf6f6" stroke-width="0.7"/>
<line x1="217.72" y1="232.4" x2="217.72" y2="277.9" stroke="#fae9e9" stroke-width="0.7"/>
<line x1="227.06" y1="232.4" x2="227.06" y2="277.9" stroke="#fdf6f6" stroke-width="0.7"/>
<line x1="236.39" y1="232.4" x2="236.39" y2="277.9" stroke="#fdf6f6" stroke-width="0.7"/>
<line x1="245.73" y1="232.4" x2="245.73" y2="277.9" stroke="#fdf6f6" stroke-width="0.7"/>
<line x1="255.06" y1="232.4" x2="255.06" y2="277.9" stroke="#fdf6f6" stroke-width="0.7"/>
<line x1="264.40" y1="232.4" x2="264.40" y2="277.9" stroke="#fae9e9" stroke-width="0.7"/>
<line x1="273.74" y1="232.4" x2="273.74" y2="277.9" stroke="#fdf6f6" stroke-width="0.7"/>
<line x1="283.07" y1="232.4" x2="283.07" y2="277.9" stroke="#fdf6f6" stroke-width="0.7"/>
<line x1="292.41" y1="232.4" x2="292.41" y2="277.9" stroke="#fdf6f6" stroke-width="0.7"/>
<line x1="301.74" y1="232.4" x2="301.74" y2="277.9" stroke="#fdf6f6" stroke-width="0.7"/>
<line x1="311.08" y1="232.4" x2="311.08" y2="277.9" stroke="#fae9e9" stroke-width="0.7"/>
<line x1="320.42" y1="232.4" x2="320.42" y2="277.9" stroke="#fdf6f6" stroke-width="0.7"/>
<line x1="329.75" y1="232.4" x2="329.75" y2="277.9" stroke="#fdf6f6" stroke-width="0.7"/>
<line x1="339.09" y1="232.4" x2="339.09" y2="277.9" stroke="#fdf6f6" stroke-width="0.7"/>
<line x1="348.42" y1="232.4" x2="348.42" y2="277.9" stroke="#fdf6f6" stroke-width="0.7"/>
<line x1="357.76" y1="232.4" x2="357.76" y2="277.9" stroke="#fae9e9" stroke-width="0.7"/>
<line x1="367.10" y1="232.4" x2="367.10" y2="277.9" stroke="#fdf6f6" stroke-width="0.7"/>
<line x1="376.43" y1="232.4" x2="376.43" y2="277.9" stroke="#fdf6f6" stroke-width="0.7"/>
<line x1="385.77" y1="232.4" x2="385.77" y2="277.9" stroke="#fdf6f6" stroke-width="0.7"/>
<line x1="395.10" y1="232.4" x2="395.10" y2="277.9" stroke="#fdf6f6" stroke-width="0.7"/>
<line x1="404.44" y1="232.4" x2="404.44" y2="277.9" stroke="#fae9e9" stroke-width="0.7"/>
<line x1="413.78" y1="232.4" x2="413.78" y2="277.9" stroke="#fdf6f6" stroke-width="0.7"/>
<line x1="423.11" y1="232.4" x2="423.11" y2="277.9" stroke="#fdf6f6" stroke-width="0.7"/>
<line x1="432.45" y1="232.4" x2="432.45" y2="277.9" stroke="#fdf6f6" stroke-width="0.7"/>
<line x1="441.78" y1="232.4" x2="441.78" y2="277.9" stroke="#fdf6f6" stroke-width="0.7"/>
<line x1="451.12" y1="232.4" x2="451.12" y2="277.9" stroke="#fae9e9" stroke-width="0.7"/>
<line x1="460.46" y1="232.4" x2="460.46" y2="277.9" stroke="#fdf6f6" stroke-width="0.7"/>
<line x1="469.79" y1="232.4" x2="469.79" y2="277.9" stroke="#fdf6f6" stroke-width="0.7"/>
<line x1="479.13" y1="232.4" x2="479.13" y2="277.9" stroke="#fdf6f6" stroke-width="0.7"/>
<line x1="488.46" y1="232.4" x2="488.46" y2="277.9" stroke="#fdf6f6" stroke-width="0.7"/>
<line x1="497.80" y1="232.4" x2="497.80" y2="277.9" stroke="#fae9e9" stroke-width="0.7"/>
<line x1="31" y1="277.90" x2="497.8" y2="277.90" stroke="#fdf6f6" stroke-width="0.7"/>
<line x1="31" y1="271.40" x2="497.8" y2="271.40" stroke="#fdf6f6" stroke-width="0.7"/>
<line x1="31" y1="264.90" x2="497.8" y2="264.90" stroke="#fdf6f6" stroke-width="0.7"/>
<line x1="31" y1="258.40" x2="497.8" y2="258.40" stroke="#fdf6f6" stroke-width="0.7"/>
<line x1="31" y1="251.90" x2="497.8" y2="251.90" stroke="#fdf6f6" stroke-width="0.7"/>
<line x1="31" y1="245.40" x2="497.8" y2="245.40" stroke="#fdf6f6" stroke-width="0.7"/>
<line x1="31" y1="238.90" x2="497.8" y2="238.90" stroke="#fdf6f6" stroke-width="0.7"/>
<line x1="31" y1="232.40" x2="497.8" y2="232.40" stroke="#fdf6f6" stroke-width="0.7"/>
<line x1="31" y1="277.90" x2="497.8" y2="277.90" stroke="#fae9e9" stroke-width="0.7"/>
<line x1="31" y1="245.40" x2="497.8" y2="245.40" stroke="#fae9e9" stroke-width="0.7"/>
<line x1="31" y1="277.9" x2="497.8" y2="277.9" stroke="#c8c8c8" stroke-width="1.3"/>
<line x1="31" y1="232.4" x2="31" y2="277.9" stroke="#ffb0b0" stroke-width="0.9"/>
<line x1="497.8" y1="232.4" x2="497.8" y2="277.9" stroke="#b8b8ff" stroke-width="0.9"/>
<line x1="77.68" y1="277.9" x2="77.68" y2="274.4" stroke="#8a8a8a" stroke-width="0.8"/>
<line x1="124.36" y1="277.9" x2="124.36" y2="274.4" stroke="#8a8a8a" stroke-width="0.8"/>
<line x1="171.04" y1="277.9" x2="171.04" y2="274.4" stroke="#8a8a8a" stroke-width="0.8"/>
<line x1="217.72" y1="277.9" x2="217.72" y2="274.4" stroke="#8a8a8a" stroke-width="0.8"/>
<line x1="264.40" y1="277.9" x2="264.40" y2="274.4" stroke="#8a8a8a" stroke-width="0.8"/>
<line x1="311.08" y1="277.9" x2="311.08" y2="274.4" stroke="#8a8a8a" stroke-width="0.8"/>
<line x1="357.76" y1="277.9" x2="357.76" y2="274.4" stroke="#8a8a8a" stroke-width="0.8"/>
<line x1="404.44" y1="277.9" x2="404.44" y2="274.4" stroke="#8a8a8a" stroke-width="0.8"/>
<line x1="451.12" y1="277.9" x2="451.12" y2="274.4" stroke="#8a8a8a" stroke-width="0.8"/>
<line x1="497.80" y1="277.9" x2="497.80" y2="274.4" stroke="#8a8a8a" stroke-width="0.8"/>
<line x1="31" y1="245.3" x2="462" y2="245.3" stroke="#000" stroke-width="1.35" stroke-dasharray="3.1 2.7" stroke-dashoffset="-1.1"/>
<polyline points="31.00,276.20 31.50,275.81 32.00,276.22 32.50,276.18 33.00,276.58 33.50,276.34 34.00,275.85 34.50,275.75 35.00,275.54 35.50,275.40 36.00,276.53 36.50,274.65 37.00,276.27 37.50,276.87 38.00,277.66 38.50,276.19 39.00,276.73 39.50,276.77 40.00,275.80 40.50,274.90 41.00,275.66 41.50,275.11 42.00,276.04 42.50,275.12 43.00,276.48 43.50,275.49 44.00,274.88 44.50,274.95 45.00,274.54 45.50,275.35 46.00,275.94 46.50,274.99 47.00,275.61 47.50,274.57 48.00,275.25 48.50,276.34 49.00,274.29 49.50,275.73 50.00,275.69 50.50,273.99 51.00,274.21 51.50,274.45 52.00,275.50 52.50,274.71 53.00,274.83 53.50,275.29 54.00,274.95 54.50,274.99 55.00,274.67 55.50,275.43 56.00,274.35 56.50,275.67 57.00,274.54 57.50,274.25 58.00,275.02 58.50,274.88 59.00,273.51 59.50,274.69 60.00,273.80 60.50,274.04 61.00,274.87 61.50,273.92 62.00,274.54 62.50,274.08 63.00,275.30 63.50,274.14 64.00,273.49 64.50,273.48 65.00,273.54 65.50,274.04 66.00,273.91 66.50,274.37 67.00,273.87 67.50,273.78 68.00,273.82 68.50,273.51 69.00,273.53 69.50,273.38 70.00,272.96 70.50,271.80 71.00,270.71 71.50,270.81 72.00,270.99 72.50,269.19 73.00,270.01 73.50,270.24 74.00,269.40 74.50,268.81 75.00,270.11 75.50,269.62 76.00,268.44 76.50,269.02 77.00,268.73 77.50,267.11 78.00,268.77 78.50,266.34 79.00,266.27 79.50,265.37 80.00,265.57 80.50,264.48 81.00,264.86 81.50,265.13 82.00,264.15 82.50,263.39 83.00,263.88 83.50,262.04 84.00,262.56 84.50,261.36 85.00,261.15 85.50,260.55 86.00,260.10 86.50,258.91 87.00,257.42 87.50,256.45 88.00,255.92 88.50,254.53 89.00,252.86 89.50,252.47 90.00,253.65 90.50,254.27 91.00,254.68 91.50,254.91 92.00,254.16 92.50,253.28 93.00,251.27 93.50,250.99 94.00,253.09 94.50,252.76 95.00,253.70 95.50,252.51 96.00,252.47 96.50,250.40 97.00,250.17 97.50,248.96 98.00,247.76 98.50,246.78 99.00,247.48 99.50,248.48 100.00,249.74 100.50,249.85 101.00,248.51 101.50,248.04 102.00,247.35 102.50,247.00 103.00,246.27 103.50,245.49 104.00,246.61 104.50,244.55 105.00,245.78 105.50,245.95 106.00,245.86 106.50,245.31 107.00,245.80 107.50,245.72 108.00,245.45 108.50,246.08 109.00,245.95 109.50,245.93 110.00,246.68 110.50,245.59 111.00,246.29 111.50,245.58 112.00,246.02 112.50,245.69 113.00,245.65 113.50,244.85 114.00,244.83 114.50,244.66 115.00,245.09 115.50,245.30 116.00,245.38 116.50,244.41 117.00,244.63 117.50,243.59 118.00,243.15 118.50,243.79 119.00,243.80 119.50,243.21 120.00,243.08 120.50,244.49 121.00,243.90 121.50,243.56 122.00,245.90 122.50,244.87 123.00,244.74 123.50,245.43 124.00,244.79 124.50,246.22 125.00,244.65 125.50,244.77 126.00,245.41 126.50,245.07 127.00,246.26 127.50,244.61 128.00,245.09 128.50,245.62 129.00,245.79 129.50,246.04 130.00,245.67 130.50,246.79 131.00,245.42 131.50,245.88 132.00,246.35 132.50,245.81 133.00,245.92 133.50,245.93 134.00,245.93 134.50,245.76 135.00,246.18 135.50,245.68 136.00,246.79 136.50,245.76 137.00,247.81 137.50,247.66 138.00,247.38 138.50,246.71 139.00,246.56 139.50,247.60 140.00,247.08 140.50,247.13 141.00,246.28 141.50,247.11 142.00,245.94 142.50,246.28 143.00,245.13 143.50,245.57 144.00,246.05 144.50,245.38 145.00,245.23 145.50,245.96 146.00,245.53 146.50,246.30 147.00,244.35 147.50,246.03 148.00,246.05 148.50,244.98 149.00,245.16 149.50,246.40 150.00,245.39 150.50,245.70 151.00,246.46 151.50,246.03 152.00,246.55 152.50,245.90 153.00,246.61 153.50,247.12 154.00,246.79 154.50,245.49 155.00,247.13 155.50,246.77 156.00,246.21 156.50,247.44 157.00,245.70 157.50,247.65 158.00,246.24 158.50,247.42 159.00,246.51 159.50,245.77 160.00,246.52 160.50,246.43 161.00,246.32 161.50,246.38 162.00,245.09 162.50,245.62 163.00,245.53 163.50,244.76 164.00,244.17 164.50,243.94 165.00,244.65 165.50,244.45 166.00,243.56 166.50,243.34 167.00,244.81 167.50,243.34 168.00,244.33 168.50,243.86 169.00,243.39 169.50,244.48 170.00,244.37 170.50,246.05 171.00,247.29 171.50,246.73 172.00,248.19 172.50,248.99 173.00,248.92 173.50,249.52 174.00,251.30 174.50,250.10 175.00,250.17 175.50,249.91 176.00,249.87 176.50,249.50 177.00,250.12 177.50,250.28 178.00,249.26 178.50,247.73 179.00,247.53 179.50,245.70 180.00,245.18 180.50,245.22 181.00,244.83 181.50,243.26 182.00,242.67 182.50,243.88 183.00,242.43 183.50,243.48 184.00,244.90 184.50,244.67 185.00,243.71 185.50,243.86 186.00,245.54 186.50,245.34 187.00,245.34 187.50,246.19 188.00,245.95 188.50,245.52 189.00,247.31 189.50,246.81 190.00,246.92 190.50,246.59 191.00,247.31 191.50,246.58 192.00,247.21 192.50,246.57 193.00,247.16 193.50,246.21 194.00,245.91 194.50,245.04 195.00,245.37 195.50,246.03 196.00,246.98 196.50,244.29 197.00,244.08 197.50,244.50 198.00,244.25 198.50,243.29 199.00,243.37 199.50,242.12 200.00,242.51 200.50,243.54 201.00,244.32 201.50,243.72 202.00,244.05 202.50,244.82 203.00,245.56 203.50,245.60 204.00,245.30 204.50,246.28 205.00,247.00 205.50,246.18 206.00,245.94 206.50,247.05 207.00,247.07 207.50,247.50 208.00,247.12 208.50,246.82 209.00,247.03 209.50,246.81 210.00,246.95 210.50,246.64 211.00,246.16 211.50,246.51 212.00,244.71 212.50,244.83 213.00,244.01 213.50,244.62 214.00,243.43 214.50,243.05 215.00,244.42 215.50,244.73 216.00,245.15 216.50,246.96 217.00,247.23 217.50,248.50 218.00,248.91 218.50,247.56 219.00,246.08 219.50,244.28 220.00,244.13 220.50,242.65 221.00,241.84 221.50,241.91 222.00,241.97 222.50,242.24 223.00,243.61 223.50,244.37 224.00,243.94 224.50,244.79 225.00,245.73 225.50,244.70 226.00,245.15 226.50,244.90 227.00,246.34 227.50,246.02 228.00,245.80 228.50,245.33 229.00,246.32 229.50,247.14 230.00,246.62 230.50,246.08 231.00,246.19 231.50,244.70 232.00,244.94 232.50,244.77 233.00,243.55 233.50,243.06 234.00,243.18 234.50,242.52 235.00,241.98 235.50,241.76 236.00,241.30 236.50,240.96 237.00,241.39 237.50,242.29 238.00,242.94 238.50,243.36 239.00,242.44 239.50,243.79 240.00,243.89 240.50,243.41 241.00,243.65 241.50,243.78 242.00,244.26 242.50,242.65 243.00,243.51 243.50,243.05 244.00,242.97 244.50,243.66 245.00,243.43 245.50,241.51 246.00,241.00 246.50,240.37 247.00,238.56 247.50,239.49 248.00,239.57 248.50,240.29 249.00,240.98 249.50,242.37 250.00,242.00 250.50,241.89 251.00,243.13 251.50,242.01 252.00,242.10 252.50,241.73 253.00,243.17 253.50,242.83 254.00,243.04 254.50,242.97 255.00,242.91 255.50,242.34 256.00,242.12 256.50,242.56 257.00,242.17 257.50,242.77 258.00,241.25 258.50,241.18 259.00,240.67 259.50,241.75 260.00,240.11 260.50,241.32 261.00,241.81 261.50,241.07 262.00,241.66 262.50,240.23 263.00,241.29 263.50,240.72 264.00,241.84 264.50,241.87 265.00,241.57 265.50,242.55 266.00,242.28 266.50,241.85 267.00,241.91 267.50,241.44 268.00,242.18 268.50,243.49 269.00,242.00 269.50,242.66 270.00,242.19 270.50,243.25 271.00,243.38 271.50,243.33 272.00,242.82 272.50,243.22 273.00,243.86 273.50,242.79 274.00,242.98 274.50,242.09 275.00,241.05 275.50,242.01 276.00,241.66 276.50,241.75 277.00,242.43 277.50,243.37 278.00,243.46 278.50,243.50 279.00,242.73 279.50,241.09 280.00,241.82 280.50,241.10 281.00,240.50 281.50,240.70 282.00,239.75 282.50,239.84 283.00,239.66 283.50,238.95 284.00,238.23 284.50,238.87 285.00,239.97 285.50,239.53 286.00,239.44 286.50,240.03 287.00,240.55 287.50,240.62 288.00,241.03 288.50,240.44 289.00,240.94 289.50,241.15 290.00,241.48 290.50,240.25 291.00,241.16 291.50,240.46 292.00,241.84 292.50,241.83 293.00,241.80 293.50,241.23 294.00,240.43 294.50,241.11 295.00,240.38 295.50,240.54 296.00,239.44 296.50,239.34 297.00,239.63 297.50,240.06 298.00,238.81 298.50,239.77 299.00,239.77 299.50,237.29 300.00,237.70 300.50,236.92 301.00,237.08 301.50,236.92 302.00,237.71 302.50,238.81 303.00,239.34 303.50,239.51 304.00,239.91 304.50,240.51 305.00,241.06 305.50,245.18 306.00,246.99 306.50,246.76 307.00,245.28 307.50,245.92 308.00,245.94 308.50,244.59 309.00,243.22 309.50,244.23 310.00,242.81 310.50,241.07 311.00,242.27 311.50,242.42 312.00,242.00 312.50,242.17 313.00,241.53 313.50,240.96 314.00,239.52 314.50,239.69 315.00,240.09 315.50,239.99 316.00,238.69 316.50,238.55 317.00,238.77 317.50,237.10 318.00,236.71 318.50,237.28 319.00,237.17 319.50,236.40 320.00,235.04 320.50,237.43 321.00,237.82 321.50,240.02 322.00,240.74 322.50,242.06 323.00,243.39 323.50,243.88 324.00,245.74 324.50,244.56 325.00,242.68 325.50,241.78 326.00,239.30 326.50,238.73 327.00,236.96 327.50,234.87 328.00,233.95 328.50,233.29 329.00,232.86 329.50,232.79 330.00,233.21 330.50,232.80 331.00,233.38 331.50,232.85 332.00,234.05 332.50,236.58 333.00,238.35 333.50,240.12 334.00,241.53 334.50,242.23 335.00,242.12 335.50,240.85 336.00,240.32 336.50,240.94 337.00,239.35 337.50,240.26 338.00,237.93 338.50,238.37 339.00,236.93 339.50,237.09 340.00,236.93 340.50,238.02 341.00,238.41 341.50,238.75 342.00,239.77 342.50,240.82 343.00,240.17 343.50,241.48 344.00,241.54 344.50,240.48 345.00,240.69 345.50,237.31 346.00,238.09 346.50,237.44 347.00,238.22 347.50,238.24 348.00,240.40 348.50,238.48 349.00,239.24 349.50,238.93 350.00,237.95 350.50,238.68 351.00,239.55 351.50,238.96 352.00,239.21 352.50,239.59 353.00,238.72 353.50,239.33 354.00,240.18 354.50,241.36 355.00,241.64 355.50,243.03 356.00,244.21 356.50,245.27 357.00,246.80 357.50,247.55 358.00,247.08 358.50,245.72 359.00,245.42 359.50,245.67 360.00,244.12 360.50,245.09 361.00,244.53 361.50,244.40 362.00,245.15 362.50,244.37 363.00,244.22 363.50,244.27 364.00,244.62 364.50,246.04 365.00,243.33 365.50,244.37 366.00,244.14 366.50,244.69 367.00,243.86 367.50,242.61 368.00,244.57 368.50,243.14 369.00,243.60 369.50,242.78 370.00,242.82 370.50,243.04 371.00,243.67 371.50,243.56 372.00,242.66 372.50,243.20 373.00,242.66 373.50,242.87 374.00,242.83 374.50,243.02 375.00,242.29 375.50,242.49 376.00,242.62 376.50,242.49 377.00,241.95 377.50,243.26 378.00,242.19 378.50,243.24 379.00,243.32 379.50,244.27 380.00,242.79 380.50,244.78 381.00,243.22 381.50,242.33 382.00,242.75 382.50,243.59 383.00,242.30 383.50,241.03 384.00,241.12 384.50,241.78 385.00,239.76 385.50,239.86 386.00,239.23 386.50,240.01 387.00,238.67 387.50,240.41 388.00,240.19 388.50,240.99 389.00,242.84 389.50,243.50 390.00,243.08 390.50,245.24 391.00,246.10 391.50,246.28 392.00,247.60 392.50,247.19 393.00,246.34 393.50,245.85 394.00,245.37 394.50,245.15 395.00,244.13 395.50,244.40 396.00,243.17 396.50,244.07 397.00,244.04 397.50,243.57 398.00,244.65 398.50,245.29 399.00,245.01 399.50,243.59 400.00,245.08 400.50,244.46 401.00,244.27 401.50,243.94 402.00,244.22 402.50,244.94 403.00,244.44 403.50,243.88 404.00,243.70 404.50,243.79 405.00,244.30 405.50,244.99 406.00,243.39 406.50,243.95 407.00,243.73 407.50,243.52 408.00,244.14 408.50,244.22 409.00,243.13 409.50,243.33 410.00,244.54 410.50,243.92 411.00,243.69 411.50,242.79 412.00,242.52 412.50,242.63 413.00,241.77 413.50,241.10 414.00,241.36 414.50,241.52 415.00,240.12 415.50,241.01 416.00,240.56 416.50,239.46 417.00,239.69 417.50,239.41 418.00,239.53 418.50,239.54 419.00,238.63 419.50,238.76 420.00,240.22 420.50,239.88 421.00,240.21 421.50,240.57 422.00,241.64 422.50,240.56 423.00,242.22 423.50,241.59 424.00,242.81 424.50,243.49 425.00,242.35 425.50,243.67 426.00,243.64 426.50,243.98 427.00,244.50 427.50,243.73 428.00,243.60 428.50,244.31 429.00,244.23 429.50,243.29 430.00,242.63 430.50,244.72 431.00,244.17 431.50,243.87 432.00,243.21 432.50,243.56 433.00,244.11 433.50,244.25 434.00,246.43 434.50,246.42 435.00,247.47 435.50,248.06 436.00,249.49 436.50,249.05 437.00,249.13 437.50,248.34 438.00,247.82 438.50,248.53 439.00,248.85 439.50,249.91 440.00,249.37 440.50,249.31 441.00,250.22 441.50,251.40 442.00,250.68 442.50,251.11 443.00,250.99 443.50,251.50 444.00,251.52 444.50,251.04 445.00,251.46 445.50,252.19 446.00,252.37 446.50,253.08 447.00,253.85 447.50,254.00 448.00,256.95 448.50,260.62 449.00,262.45 449.50,263.69 450.00,262.77 450.50,263.62 451.00,263.50 451.50,263.28 452.00,264.30 452.50,263.88 453.00,264.38 453.50,264.74 454.00,264.78 454.50,266.25 455.00,265.51 455.50,266.19 456.00,265.98 456.50,267.03 457.00,267.71 457.50,268.33 458.00,268.78 458.50,269.77 459.00,271.14 459.50,270.79 460.00,271.16 460.50,271.40 461.00,273.35" fill="none" stroke="#1010ff" stroke-width="1.45" stroke-linejoin="round" />
<polyline points="68.80,278.60 69.30,276.66 69.80,275.26 70.30,273.17 70.80,271.94 71.30,270.63 71.80,269.13 72.30,267.51 72.80,266.54 73.30,266.11 73.80,265.02 74.30,262.96 74.80,262.93 75.30,262.57 75.80,261.34 76.30,261.34 76.80,260.21 77.30,260.83 77.80,259.58 78.30,259.13 78.80,258.40 79.30,258.44 79.80,255.98 80.30,255.89 80.80,257.75 81.30,256.95 81.80,255.68 82.30,252.50 82.80,250.46 83.30,249.12 83.80,247.53 84.30,245.77 84.80,244.37 85.30,241.51 85.80,240.32 86.30,239.29 86.80,238.39 87.30,238.07 87.80,238.30 88.30,238.66 88.80,240.13 89.30,241.38 89.80,243.78 90.30,243.57 90.80,243.18 91.30,241.75 91.80,242.55 92.30,243.86 92.80,245.33 93.30,246.53 93.80,248.05 94.30,249.17 94.80,248.05 95.30,247.60 95.80,246.33 96.30,245.46 96.80,245.23 97.30,243.84 97.80,242.88 98.30,242.38 98.80,242.68 99.30,243.17 99.80,242.83 100.30,243.68 100.80,243.68 101.30,243.31 101.80,242.39 102.30,241.72 102.80,242.04 103.30,242.12 103.80,242.23 104.30,242.04 104.80,242.53 105.30,243.89 105.80,243.47 106.30,244.91 106.80,245.59 107.30,245.35 107.80,246.81 108.30,247.19 108.80,247.77 109.30,248.12 109.80,249.00 110.30,250.23 110.80,249.98 111.30,250.37 111.80,249.88 112.30,250.31 112.80,250.43 113.30,249.97 113.80,250.01 114.30,251.04 114.80,251.01 115.30,250.55 115.80,250.86 116.30,251.15 116.80,251.61 117.30,250.37 117.80,250.98 118.30,251.59 118.80,250.64 119.30,251.20 119.80,249.37 120.30,251.16 120.80,250.56 121.30,249.79 121.80,251.01 122.30,251.18 122.80,251.30 123.30,251.35 123.80,250.85 124.30,250.59 124.80,250.76 125.30,251.08 125.80,251.47 126.30,251.27 126.80,251.69 127.30,252.24 127.80,252.19 128.30,253.24 128.80,253.37 129.30,252.10 129.80,252.55 130.30,252.41 130.80,252.46 131.30,253.20 131.80,252.51 132.30,252.47 132.80,252.80 133.30,253.26 133.80,252.74 134.30,252.73 134.80,253.28 135.30,253.07 135.80,253.05 136.30,253.25 136.80,252.37 137.30,252.90 137.80,252.52 138.30,253.24 138.80,253.13 139.30,252.30 139.80,253.34 140.30,252.22 140.80,253.24 141.30,252.80 141.80,252.31 142.30,252.19 142.80,252.53 143.30,252.65 143.80,252.33 144.30,252.88 144.80,252.00 145.30,252.60 145.80,252.59 146.30,251.75 146.80,252.70 147.30,252.00 147.80,251.44 148.30,252.26 148.80,252.42 149.30,252.90 149.80,252.28 150.30,253.12 150.80,253.08 151.30,252.89 151.80,252.96 152.30,252.50 152.80,252.07 153.30,252.58 153.80,252.69 154.30,252.33 154.80,252.09 155.30,251.47 155.80,252.44 156.30,252.26 156.80,251.50 157.30,252.09 157.80,252.34 158.30,251.94 158.80,252.31 159.30,252.26 159.80,251.24 160.30,251.73 160.80,252.05 161.30,252.22 161.80,252.40 162.30,250.90 162.80,251.69 163.30,252.01 163.80,252.20 164.30,252.38 164.80,251.18 165.30,251.40 165.80,251.07 166.30,251.87 166.80,250.89 167.30,251.97 167.80,251.83 168.30,251.60 168.80,250.39 169.30,251.03 169.80,251.63 170.30,250.65 170.80,251.16 171.30,251.20 171.80,251.63 172.30,251.34 172.80,251.32 173.30,250.99 173.80,251.17 174.30,251.10 174.80,251.47 175.30,251.05 175.80,251.57 176.30,250.34 176.80,251.62 177.30,250.99 177.80,251.55 178.30,251.07 178.80,251.40 179.30,251.67 179.80,250.75 180.30,250.99 180.80,250.83 181.30,250.95 181.80,250.09 182.30,250.68 182.80,250.59 183.30,250.31 183.80,250.52 184.30,249.87 184.80,251.13 185.30,250.70 185.80,251.36 186.30,250.16 186.80,250.06 187.30,250.73 187.80,249.88 188.30,250.75 188.80,250.36 189.30,250.55 189.80,250.84 190.30,250.77 190.80,251.60 191.30,251.08 191.80,250.25 192.30,251.29 192.80,250.28 193.30,250.94 193.80,250.37 194.30,250.58 194.80,251.56 195.30,250.65 195.80,250.46 196.30,250.34 196.80,250.30 197.30,250.93 197.80,249.62 198.30,249.44 198.80,250.10 199.30,248.98 199.80,249.38 200.30,250.11 200.80,249.80 201.30,249.79 201.80,249.89 202.30,249.99 202.80,250.34 203.30,250.86 203.80,251.55 204.30,251.63 204.80,251.15 205.30,251.24 205.80,252.01 206.30,251.03 206.80,251.77 207.30,251.96 207.80,251.74 208.30,251.93 208.80,252.66 209.30,251.91 209.80,252.37 210.30,252.32 210.80,252.47 211.30,251.65 211.80,252.57 212.30,251.77 212.80,251.62 213.30,251.40 213.80,251.09 214.30,250.78 214.80,251.55 215.30,250.99 215.80,250.73 216.30,251.10 216.80,250.22 217.30,250.70 217.80,250.31 218.30,249.78 218.80,250.40 219.30,249.28 219.80,250.11 220.30,247.58 220.80,245.15 221.30,244.69 221.80,244.85 222.30,244.85 222.80,245.63 223.30,246.00 223.80,246.16 224.30,246.71 224.80,247.74 225.30,248.48 225.80,247.98 226.30,249.11 226.80,249.65 227.30,249.76 227.80,249.56 228.30,250.75 228.80,250.04 229.30,251.15 229.80,251.86 230.30,250.24 230.80,251.07 231.30,250.90 231.80,250.67 232.30,250.04 232.80,250.05 233.30,249.38 233.80,249.86 234.30,249.85 234.80,249.13 235.30,248.82 235.80,248.83 236.30,248.88 236.80,248.79 237.30,248.59 237.80,248.54 238.30,247.80 238.80,247.05 239.30,248.41 239.80,248.64 240.30,247.24 240.80,247.42 241.30,247.70 241.80,247.84 242.30,247.55 242.80,247.68 243.30,246.94 243.80,247.00 244.30,246.85 244.80,246.33 245.30,247.02 245.80,246.81 246.30,247.02 246.80,246.46 247.30,247.14 247.80,246.27 248.30,246.87 248.80,245.45 249.30,246.07 249.80,246.75 250.30,246.13 250.80,246.31 251.30,245.43 251.80,246.73 252.30,246.22 252.80,245.85 253.30,245.95 253.80,245.82 254.30,246.21 254.80,245.59 255.30,244.82 255.80,245.39 256.30,246.10 256.80,245.81 257.30,245.41 257.80,245.89 258.30,245.70 258.80,245.95 259.30,245.01 259.80,245.35 260.30,245.99 260.80,245.50 261.30,245.65 261.80,246.26 262.30,245.16 262.80,245.30 263.30,244.85 263.80,244.72 264.30,244.86 264.80,244.16 265.30,243.81 265.80,245.31 266.30,244.63 266.80,245.14 267.30,244.67 267.80,244.65 268.30,244.85 268.80,244.84 269.30,243.97 269.80,245.00 270.30,244.09 270.80,244.72 271.30,245.87 271.80,244.89 272.30,245.69 272.80,244.92 273.30,245.45 273.80,245.31 274.30,245.59 274.80,245.14 275.30,245.09 275.80,245.53 276.30,244.58 276.80,244.79 277.30,245.33 277.80,244.67 278.30,244.44 278.80,244.23 279.30,244.67 279.80,244.34 280.30,244.49 280.80,244.29 281.30,245.14 281.80,244.08 282.30,243.37 282.80,244.23 283.30,244.13 283.80,244.14 284.30,243.32 284.80,244.47 285.30,243.91 285.80,243.86 286.30,243.13 286.80,243.98 287.30,243.70 287.80,244.27 288.30,243.44 288.80,243.03 289.30,243.58 289.80,243.08 290.30,243.62 290.80,242.94 291.30,243.33 291.80,243.27 292.30,243.33 292.80,243.09 293.30,242.94 293.80,243.24 294.30,242.99 294.80,243.28 295.30,243.07 295.80,242.18 296.30,243.11 296.80,243.72 297.30,243.22 297.80,243.33 298.30,243.24 298.80,242.81 299.30,242.41 299.80,243.32 300.30,243.37 300.80,243.09 301.30,242.96 301.80,242.88 302.30,242.62 302.80,242.68 303.30,242.50 303.80,242.57 304.30,241.94 304.80,242.01 305.30,242.53 305.80,242.19 306.30,241.33 306.80,242.49 307.30,241.49 307.80,243.37 308.30,242.90 308.80,242.93 309.30,242.40 309.80,242.25 310.30,242.59 310.80,242.56 311.30,242.09 311.80,242.36 312.30,242.46 312.80,242.29 313.30,241.45 313.80,240.83 314.30,241.64 314.80,241.23 315.30,241.61 315.80,242.06 316.30,241.99 316.80,241.33 317.30,241.62 317.80,241.78 318.30,241.02 318.80,241.05 319.30,241.23 319.80,240.77 320.30,240.58 320.80,240.53 321.30,240.92 321.80,240.70 322.30,241.37 322.80,240.94 323.30,241.78 323.80,241.73 324.30,240.73 324.80,241.79 325.30,241.21 325.80,242.03 326.30,241.53 326.80,241.04 327.30,241.10 327.80,240.32 328.30,240.46 328.80,240.23 329.30,239.75 329.80,239.73 330.30,239.07 330.80,239.79 331.30,239.08 331.80,239.91 332.30,239.90 332.80,240.05 333.30,239.56 333.80,241.15 334.30,239.80 334.80,240.01 335.30,239.72 335.80,240.79 336.30,240.11 336.80,240.86 337.30,240.16 337.80,240.83 338.30,240.67 338.80,241.36 339.30,240.97 339.80,240.85 340.30,241.42 340.80,240.64 341.30,240.66 341.80,241.31 342.30,240.11 342.80,241.15 343.30,240.58 343.80,240.28 344.30,240.69 344.80,240.78 345.30,240.16 345.80,240.21 346.30,240.51 346.80,240.37 347.30,239.90 347.80,239.48 348.30,239.28 348.80,239.31 349.30,239.74 349.80,239.57 350.30,239.48 350.80,240.07 351.30,239.47 351.80,239.55 352.30,239.67 352.80,240.77 353.30,239.20 353.80,240.32 354.30,240.51 354.80,240.46 355.30,241.78 355.80,241.78 356.30,242.11 356.80,241.90 357.30,243.00 357.80,242.83 358.30,243.01 358.80,243.07 359.30,242.78 359.80,243.26 360.30,243.68 360.80,243.43 361.30,243.08 361.80,242.17 362.30,243.25 362.80,242.91 363.30,242.04 363.80,241.59 364.30,241.74 364.80,240.78 365.30,241.32 365.80,240.50 366.30,240.55 366.80,240.93 367.30,240.28 367.80,240.88 368.30,241.09 368.80,240.28 369.30,241.21 369.80,240.56 370.30,240.95 370.80,240.68 371.30,240.26 371.80,240.11 372.30,239.48 372.80,239.77 373.30,239.61 373.80,240.50 374.30,240.11 374.80,238.97 375.30,239.92 375.80,239.83 376.30,239.73 376.80,240.23 377.30,240.52 377.80,240.10 378.30,240.37 378.80,240.71 379.30,240.37 379.80,241.02 380.30,241.08 380.80,241.03 381.30,241.16 381.80,241.85 382.30,242.29 382.80,242.26 383.30,241.96 383.80,242.83 384.30,242.79 384.80,243.17 385.30,243.55 385.80,242.78 386.30,243.20 386.80,243.11 387.30,243.09 387.80,244.40 388.30,244.05 388.80,243.01 389.30,244.04 389.80,243.72 390.30,245.18 390.80,245.89 391.30,246.94 391.80,248.24 392.30,249.50 392.80,250.51 393.30,250.50 393.80,250.63 394.30,251.00 394.80,250.41 395.30,250.98 395.80,251.03 396.30,250.97 396.80,251.58 397.30,250.82 397.80,251.31 398.30,250.59 398.80,250.25 399.30,248.90 399.80,248.19 400.30,248.14 400.80,247.61 401.30,248.77 401.80,248.57 402.30,248.59 402.80,248.15 403.30,248.04 403.80,247.51 404.30,247.44 404.80,246.27 405.30,245.72 405.80,245.58 406.30,245.94 406.80,246.21 407.30,245.55 407.80,245.03 408.30,245.26 408.80,245.12 409.30,244.90 409.80,244.44 410.30,243.71 410.80,244.68 411.30,245.48 411.80,245.26 412.30,244.37 412.80,245.43 413.30,244.78 413.80,246.52 414.30,245.90 414.80,245.44 415.30,246.38 415.80,245.80 416.30,246.44 416.80,246.30 417.30,245.87 417.80,246.73 418.30,245.97 418.80,247.17 419.30,246.71 419.80,246.34 420.30,246.06 420.80,247.54 421.30,247.51 421.80,246.42 422.30,247.68 422.80,247.09 423.30,246.97 423.80,247.07 424.30,247.03 424.80,247.79 425.30,247.16 425.80,246.16 426.30,247.65 426.80,246.97 427.30,245.98 427.80,246.20 428.30,246.23 428.80,246.89 429.30,247.30 429.80,247.50 430.30,247.35 430.80,247.43 431.30,248.29 431.80,248.06 432.30,249.21 432.80,248.09 433.30,248.93 433.80,249.03 434.30,249.10 434.80,250.40 435.30,250.29 435.80,250.28 436.30,250.93 436.80,251.90 437.30,251.43 437.80,253.22 438.30,253.63 438.80,253.92 439.30,255.31 439.80,256.18 440.30,256.39 440.80,256.91 441.30,258.35 441.80,259.06 442.30,258.90 442.80,260.06 443.30,260.92 443.80,261.70 444.30,262.10 444.80,263.93 445.30,264.39 445.80,265.20 446.30,266.56 446.80,266.54 447.30,267.56 447.80,268.51 448.30,269.02 448.80,270.05 449.30,271.32 449.80,271.90 450.30,273.36 450.80,273.38 451.30,274.69 451.80,274.90 452.30,276.35 452.80,276.94" fill="none" stroke="#ff0000" stroke-width="1.3" stroke-linejoin="round" />
<line x1="31" y1="277.90" x2="34.5" y2="277.90" stroke="#ff9a9a" stroke-width="0.8"/>
<line x1="31" y1="245.40" x2="34.5" y2="245.40" stroke="#ff9a9a" stroke-width="0.8"/>
<line x1="497.8" y1="277.90" x2="494.3" y2="277.90" stroke="#9a9aff" stroke-width="0.8"/>
<line x1="497.8" y1="255.15" x2="494.3" y2="255.15" stroke="#9a9aff" stroke-width="0.8"/>
<line x1="497.8" y1="232.40" x2="494.3" y2="232.40" stroke="#9a9aff" stroke-width="0.8"/>
<text x="0" y="0" font-size="9.3" fill="#ff0000" text-anchor="end" stroke="#ff0000" stroke-width="0.22" transform="translate(28.6 281.79999999999995) scale(1 1.0)">0.5</text>
<text x="0" y="0" font-size="9.3" fill="#ff0000" text-anchor="end" stroke="#ff0000" stroke-width="0.22" transform="translate(28.6 249.3) scale(1 1.0)">1</text>
<text x="0" y="0" font-size="9.3" fill="#0000ff" text-anchor="start" stroke="#0000ff" stroke-width="0.22" transform="translate(500.6 281.79999999999995) scale(1 1.0)">0</text>
<text x="0" y="0" font-size="9.3" fill="#0000ff" text-anchor="start" stroke="#0000ff" stroke-width="0.22" transform="translate(500.6 259.04999999999995) scale(1 1.0)">5</text>
<text x="0" y="0" font-size="9.3" fill="#0000ff" text-anchor="start" stroke="#0000ff" stroke-width="0.22" transform="translate(500.6 236.3) scale(1 1.0)">10</text>
<rect x="462.5" y="235.9" width="32.69999999999999" height="29.400000000000006" fill="#cfcfcf"/>
<rect x="461.7" y="235.1" width="32.69999999999999" height="29.400000000000006" fill="#fff" stroke="#c4c4c4" stroke-width="0.9"/>
<line x1="463.4" y1="243.7" x2="474.6" y2="243.7" stroke="#ff2020" stroke-width="1"/>
<line x1="463.4" y1="256.5" x2="474.6" y2="256.5" stroke="#2020ff" stroke-width="1"/>
<text x="0" y="0" font-size="8.6" fill="#000" text-anchor="start" stroke="#000" stroke-width="0.22" transform="translate(475.6 245.0) scale(1 1.0)">H<tspan font-size="6.5" dy="3">98</tspan></text>
<text x="0" y="0" font-size="8.6" fill="#000" text-anchor="start" stroke="#000" stroke-width="0.22" transform="translate(475.6 258.8) scale(1 1.0)">p<tspan font-size="6.5" dy="3">ped</tspan></text>
<text x="0" y="0" font-size="9.6" fill="#ff0000" text-anchor="middle" stroke="#ff0000" stroke-width="0.22" transform="translate(8.2 255.0) scale(1 1.09) rotate(-90)">H<tspan font-size="7.4" dy="4.4">98</tspan></text>
<text x="0" y="0" font-size="9.6" fill="#0000ff" text-anchor="middle" stroke="#0000ff" stroke-width="0.22" transform="translate(523.3 255.0) scale(1 1.09) rotate(-90)">p<tspan font-size="7" dy="3">ped</tspan><tspan dy="-3"> [kPa]</tspan></text>
<text x="0" y="0" font-size="9.3" fill="#000" text-anchor="middle" stroke="#000" stroke-width="0.22" transform="translate(31.0 290.0) scale(1 1.12)">1</text>
<text x="0" y="0" font-size="9.3" fill="#000" text-anchor="middle" stroke="#000" stroke-width="0.22" transform="translate(77.68 290.0) scale(1 1.12)">1.5</text>
<text x="0" y="0" font-size="9.3" fill="#000" text-anchor="middle" stroke="#000" stroke-width="0.22" transform="translate(124.36000000000001 290.0) scale(1 1.12)">2</text>
<text x="0" y="0" font-size="9.3" fill="#000" text-anchor="middle" stroke="#000" stroke-width="0.22" transform="translate(171.04 290.0) scale(1 1.12)">2.5</text>
<text x="0" y="0" font-size="9.3" fill="#000" text-anchor="middle" stroke="#000" stroke-width="0.22" transform="translate(217.72000000000003 290.0) scale(1 1.12)">3</text>
<text x="0" y="0" font-size="9.3" fill="#000" text-anchor="middle" stroke="#000" stroke-width="0.22" transform="translate(264.4 290.0) scale(1 1.12)">3.5</text>
<text x="0" y="0" font-size="9.3" fill="#000" text-anchor="middle" stroke="#000" stroke-width="0.22" transform="translate(311.08 290.0) scale(1 1.12)">4</text>
<text x="0" y="0" font-size="9.3" fill="#000" text-anchor="middle" stroke="#000" stroke-width="0.22" transform="translate(357.76 290.0) scale(1 1.12)">4.5</text>
<text x="0" y="0" font-size="9.3" fill="#000" text-anchor="middle" stroke="#000" stroke-width="0.22" transform="translate(404.44000000000005 290.0) scale(1 1.12)">5</text>
<text x="0" y="0" font-size="9.3" fill="#000" text-anchor="middle" stroke="#000" stroke-width="0.22" transform="translate(451.12 290.0) scale(1 1.12)">5.5</text>
<text x="0" y="0" font-size="9.3" fill="#000" text-anchor="middle" stroke="#000" stroke-width="0.22" transform="translate(497.8 290.0) scale(1 1.12)">6</text>
<text x="0" y="0" font-size="9.6" fill="#000" text-anchor="middle" stroke="#000" stroke-width="0.22" transform="translate(264.5 301.2) scale(1 1.0)">Time [s]</text>
</svg></body></html>
